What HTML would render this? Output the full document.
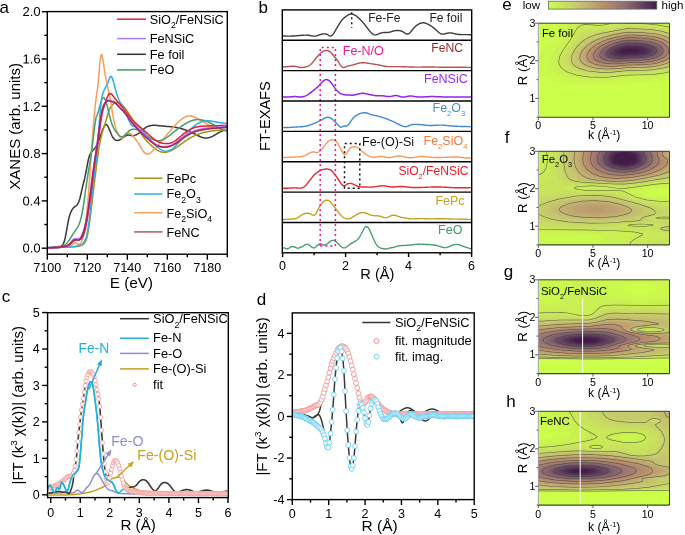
<!DOCTYPE html>
<html><head><meta charset="utf-8"><style>
html,body{margin:0;padding:0;background:#fff;width:685px;height:535px;overflow:hidden;}
#wrap{width:685px;height:535px;overflow:hidden;position:relative;}
#scl{width:1370px;height:1070px;transform:scale(0.5);transform-origin:0 0;will-change:transform;}
svg{display:block;}
text{font-family:"Liberation Sans", sans-serif;}
</style></head><body>
<div id="wrap"><div id="scl">
<svg width="1370" height="1070" viewBox="0 0 685 535">
<rect width="685" height="535" fill="#fff"/>
<line x1="47.3" y1="254.2" x2="47.3" y2="259.7" stroke="#000" stroke-width="1.4" />
<text x="47.3" y="272.2" font-size="12.5" fill="#000" text-anchor="middle" >7100</text>
<line x1="67.3" y1="254.2" x2="67.3" y2="257.2" stroke="#000" stroke-width="1.4" />
<line x1="87.3" y1="254.2" x2="87.3" y2="259.7" stroke="#000" stroke-width="1.4" />
<text x="87.3" y="272.2" font-size="12.5" fill="#000" text-anchor="middle" >7120</text>
<line x1="107.3" y1="254.2" x2="107.3" y2="257.2" stroke="#000" stroke-width="1.4" />
<line x1="127.3" y1="254.2" x2="127.3" y2="259.7" stroke="#000" stroke-width="1.4" />
<text x="127.3" y="272.2" font-size="12.5" fill="#000" text-anchor="middle" >7140</text>
<line x1="147.3" y1="254.2" x2="147.3" y2="257.2" stroke="#000" stroke-width="1.4" />
<line x1="167.3" y1="254.2" x2="167.3" y2="259.7" stroke="#000" stroke-width="1.4" />
<text x="167.3" y="272.2" font-size="12.5" fill="#000" text-anchor="middle" >7160</text>
<line x1="187.3" y1="254.2" x2="187.3" y2="257.2" stroke="#000" stroke-width="1.4" />
<line x1="207.3" y1="254.2" x2="207.3" y2="259.7" stroke="#000" stroke-width="1.4" />
<text x="207.3" y="272.2" font-size="12.5" fill="#000" text-anchor="middle" >7180</text>
<line x1="227.3" y1="254.2" x2="227.3" y2="257.2" stroke="#000" stroke-width="1.4" />
<line x1="47.3" y1="248.2" x2="41.8" y2="248.2" stroke="#000" stroke-width="1.4" />
<text x="40.6" y="252.7" font-size="13" fill="#000" text-anchor="end" >0.0</text>
<line x1="47.3" y1="224.55" x2="44.3" y2="224.55" stroke="#000" stroke-width="1.4" />
<line x1="47.3" y1="200.9" x2="41.8" y2="200.9" stroke="#000" stroke-width="1.4" />
<text x="40.6" y="205.4" font-size="13" fill="#000" text-anchor="end" >0.4</text>
<line x1="47.3" y1="177.25" x2="44.3" y2="177.25" stroke="#000" stroke-width="1.4" />
<line x1="47.3" y1="153.6" x2="41.8" y2="153.6" stroke="#000" stroke-width="1.4" />
<text x="40.6" y="158.1" font-size="13" fill="#000" text-anchor="end" >0.8</text>
<line x1="47.3" y1="129.95" x2="44.3" y2="129.95" stroke="#000" stroke-width="1.4" />
<line x1="47.3" y1="106.3" x2="41.8" y2="106.3" stroke="#000" stroke-width="1.4" />
<text x="40.6" y="110.8" font-size="13" fill="#000" text-anchor="end" >1.2</text>
<line x1="47.3" y1="82.65" x2="44.3" y2="82.65" stroke="#000" stroke-width="1.4" />
<line x1="47.3" y1="59" x2="41.8" y2="59" stroke="#000" stroke-width="1.4" />
<text x="40.6" y="63.5" font-size="13" fill="#000" text-anchor="end" >1.6</text>
<line x1="47.3" y1="35.35" x2="44.3" y2="35.35" stroke="#000" stroke-width="1.4" />
<line x1="47.3" y1="11.7" x2="41.8" y2="11.7" stroke="#000" stroke-width="1.4" />
<text x="40.6" y="16.2" font-size="13" fill="#000" text-anchor="end" >2.0</text>
<text x="131.45" y="287.8" font-size="15.2" fill="#000" text-anchor="middle" >E (eV)</text>
<text x="20.3" y="126.35" font-size="15.0" fill="#000" text-anchor="middle" transform="rotate(-90 20.3 126.35)" >XANES (arb. units)</text>
<text x="-0.5" y="13.2" font-size="17" fill="#000" >a</text>
<line x1="117.1" y1="19.2" x2="145.9" y2="19.2" stroke="#e8202c" stroke-width="1.5" />
<text x="149.8" y="24" font-size="12.7" fill="#000" >SiO<tspan dy="4.32" font-size="8.64">2</tspan><tspan dy="-4.32">/FeNSiC</tspan></text>
<line x1="117.1" y1="38.6" x2="145.9" y2="38.6" stroke="#b27cf2" stroke-width="1.5" />
<text x="149.8" y="43" font-size="12.7" fill="#000" >FeNSiC</text>
<line x1="117.1" y1="54.3" x2="145.9" y2="54.3" stroke="#333333" stroke-width="1.5" />
<text x="149.8" y="58.7" font-size="12.7" fill="#000" >Fe foil</text>
<line x1="117.1" y1="69.9" x2="145.9" y2="69.9" stroke="#3f9a62" stroke-width="1.5" />
<text x="149.8" y="73.7" font-size="12.7" fill="#000" >FeO</text>
<line x1="134.1" y1="178.2" x2="162.5" y2="178.2" stroke="#a8960e" stroke-width="1.5" />
<text x="166.5" y="183" font-size="12.7" fill="#000" >FePc</text>
<line x1="134.1" y1="194" x2="162.5" y2="194" stroke="#2fb0e6" stroke-width="1.5" />
<text x="166.5" y="198.4" font-size="12.7" fill="#000" >Fe<tspan dy="4.32" font-size="8.64">2</tspan><tspan dy="-4.32">O</tspan><tspan dy="4.32" font-size="8.64">3</tspan></text>
<line x1="134.1" y1="212.7" x2="162.5" y2="212.7" stroke="#f6a262" stroke-width="1.5" />
<text x="166.5" y="217.8" font-size="12.7" fill="#000" >Fe<tspan dy="4.32" font-size="8.64">2</tspan><tspan dy="-4.32">SiO</tspan><tspan dy="4.32" font-size="8.64">4</tspan></text>
<line x1="134.1" y1="231.9" x2="162.5" y2="231.9" stroke="#b05a5e" stroke-width="1.5" />
<text x="166.5" y="236.5" font-size="12.7" fill="#000" >FeNC</text>
<g clip-path="url(#clipA)">
<defs><clipPath id="clipA"><rect x="47.3" y="11.6" width="180" height="242.6"/></clipPath></defs>
<path d="M47.3 247.7 L47.8 247.67 L48.3 247.65 L48.8 247.62 L49.3 247.59 L49.8 247.56 L50.3 247.53 L50.8 247.49 L51.3 247.46 L51.8 247.42 L52.3 247.38 L52.8 247.33 L53.3 247.28 L53.8 247.22 L54.3 247.16 L54.8 247.1 L55.3 247.03 L55.8 246.97 L56.3 246.9 L56.8 246.83 L57.3 246.77 L57.8 246.71 L58.3 246.66 L58.8 246.62 L59.3 246.58 L59.8 246.54 L60.3 246.46 L60.8 246.32 L61.3 246.1 L61.8 245.77 L62.3 245.3 L62.8 244.65 L63.3 243.78 L63.8 242.64 L64.3 241.18 L64.8 239.37 L65.3 237.21 L65.8 234.77 L66.3 232.11 L66.8 229.29 L67.3 226.42 L67.8 223.6 L68.3 220.97 L68.8 218.65 L69.3 216.65 L69.8 214.95 L70.3 213.5 L70.8 212.25 L71.3 211.17 L71.8 210.22 L72.3 209.4 L72.8 208.69 L73.3 208.07 L73.8 207.54 L74.3 207.07 L74.8 206.65 L75.3 206.28 L75.8 205.91 L76.3 205.51 L76.8 205.04 L77.3 204.47 L77.8 203.74 L78.3 202.83 L78.8 201.69 L79.3 200.3 L79.8 198.68 L80.3 196.81 L80.8 194.71 L81.3 192.45 L81.8 190.13 L82.3 187.86 L82.8 185.77 L83.3 183.82 L83.8 181.93 L84.3 179.99 L84.8 177.9 L85.3 175.56 L85.8 172.99 L86.3 170.28 L86.8 167.52 L87.3 164.81 L87.8 162.25 L88.3 159.93 L88.8 157.93 L89.3 156.27 L89.8 154.89 L90.3 153.76 L90.8 152.84 L91.3 152.08 L91.8 151.46 L92.3 150.94 L92.8 150.46 L93.3 150 L93.8 149.51 L94.3 148.96 L94.8 148.33 L95.3 147.62 L95.8 146.84 L96.3 145.97 L96.8 145.04 L97.3 144.02 L97.8 142.94 L98.3 141.78 L98.8 140.55 L99.3 139.25 L99.8 137.9 L100.3 136.51 L100.8 135.1 L101.3 133.68 L101.8 132.27 L102.3 130.87 L102.8 129.52 L103.3 128.24 L103.8 127.08 L104.3 126.07 L104.8 125.28 L105.3 124.73 L105.8 124.47 L106.3 124.53 L106.8 124.87 L107.3 125.45 L107.8 126.24 L108.3 127.18 L108.8 128.25 L109.3 129.4 L109.8 130.6 L110.3 131.82 L110.8 133.04 L111.3 134.22 L111.8 135.33 L112.3 136.36 L112.8 137.27 L113.3 138.04 L113.8 138.69 L114.3 139.21 L114.8 139.62 L115.3 139.94 L115.8 140.17 L116.3 140.31 L116.8 140.39 L117.3 140.41 L117.8 140.38 L118.3 140.29 L118.8 140.15 L119.3 139.98 L119.8 139.75 L120.3 139.49 L120.8 139.19 L121.3 138.86 L121.8 138.51 L122.3 138.13 L122.8 137.74 L123.3 137.35 L123.8 136.97 L124.3 136.61 L124.8 136.26 L125.3 135.96 L125.8 135.69 L126.3 135.46 L126.8 135.27 L127.3 135.13 L127.8 135.04 L128.3 135 L128.8 135.01 L129.3 135.07 L129.8 135.17 L130.3 135.29 L130.8 135.42 L131.3 135.54 L131.8 135.64 L132.3 135.7 L132.8 135.71 L133.3 135.68 L133.8 135.61 L134.3 135.49 L134.8 135.34 L135.3 135.15 L135.8 134.94 L136.3 134.7 L136.8 134.44 L137.3 134.15 L137.8 133.85 L138.3 133.52 L138.8 133.17 L139.3 132.79 L139.8 132.4 L140.3 131.99 L140.8 131.56 L141.3 131.12 L141.8 130.67 L142.3 130.23 L142.8 129.79 L143.3 129.35 L143.8 128.93 L144.3 128.53 L144.8 128.14 L145.3 127.79 L145.8 127.47 L146.3 127.17 L146.8 126.9 L147.3 126.65 L147.8 126.43 L148.3 126.23 L148.8 126.06 L149.3 125.91 L149.8 125.77 L150.3 125.66 L150.8 125.56 L151.3 125.49 L151.8 125.42 L152.3 125.38 L152.8 125.34 L153.3 125.32 L153.8 125.32 L154.3 125.32 L154.8 125.33 L155.3 125.35 L155.8 125.38 L156.3 125.42 L156.8 125.46 L157.3 125.51 L157.8 125.56 L158.3 125.61 L158.8 125.67 L159.3 125.72 L159.8 125.78 L160.3 125.83 L160.8 125.88 L161.3 125.93 L161.8 125.98 L162.3 126.03 L162.8 126.07 L163.3 126.12 L163.8 126.16 L164.3 126.2 L164.8 126.24 L165.3 126.29 L165.8 126.33 L166.3 126.37 L166.8 126.41 L167.3 126.44 L167.8 126.48 L168.3 126.52 L168.8 126.56 L169.3 126.6 L169.8 126.65 L170.3 126.69 L170.8 126.74 L171.3 126.78 L171.8 126.83 L172.3 126.89 L172.8 126.94 L173.3 127 L173.8 127.06 L174.3 127.13 L174.8 127.2 L175.3 127.28 L175.8 127.37 L176.3 127.45 L176.8 127.55 L177.3 127.65 L177.8 127.75 L178.3 127.86 L178.8 127.98 L179.3 128.1 L179.8 128.23 L180.3 128.36 L180.8 128.49 L181.3 128.63 L181.8 128.78 L182.3 128.93 L182.8 129.08 L183.3 129.24 L183.8 129.4 L184.3 129.56 L184.8 129.73 L185.3 129.9 L185.8 130.08 L186.3 130.26 L186.8 130.44 L187.3 130.63 L187.8 130.81 L188.3 131.01 L188.8 131.21 L189.3 131.41 L189.8 131.61 L190.3 131.82 L190.8 132.03 L191.3 132.25 L191.8 132.47 L192.3 132.7 L192.8 132.93 L193.3 133.17 L193.8 133.41 L194.3 133.65 L194.8 133.9 L195.3 134.15 L195.8 134.41 L196.3 134.67 L196.8 134.93 L197.3 135.19 L197.8 135.45 L198.3 135.7 L198.8 135.95 L199.3 136.19 L199.8 136.43 L200.3 136.65 L200.8 136.86 L201.3 137.06 L201.8 137.24 L202.3 137.41 L202.8 137.56 L203.3 137.69 L203.8 137.8 L204.3 137.89 L204.8 137.95 L205.3 137.99 L205.8 138 L206.3 138 L206.8 137.97 L207.3 137.92 L207.8 137.85 L208.3 137.76 L208.8 137.65 L209.3 137.52 L209.8 137.37 L210.3 137.2 L210.8 137.01 L211.3 136.81 L211.8 136.59 L212.3 136.36 L212.8 136.11 L213.3 135.85 L213.8 135.57 L214.3 135.29 L214.8 135 L215.3 134.7 L215.8 134.41 L216.3 134.1 L216.8 133.8 L217.3 133.5 L217.8 133.21 L218.3 132.92 L218.8 132.64 L219.3 132.36 L219.8 132.1 L220.3 131.85 L220.8 131.62 L221.3 131.39 L221.8 131.18 L222.3 130.97 L222.8 130.78 L223.3 130.59 L223.8 130.42 L224.3 130.25 L224.8 130.08 L225.3 129.92 L225.8 129.76 L226.3 129.61 L226.8 129.45 L227.3 129.3" fill="none" stroke="#3c3c3c" stroke-width="1.55" stroke-linejoin="round" />
<path d="M47.3 247.9 L47.8 247.88 L48.3 247.86 L48.8 247.85 L49.3 247.83 L49.8 247.81 L50.3 247.79 L50.8 247.77 L51.3 247.75 L51.8 247.73 L52.3 247.72 L52.8 247.7 L53.3 247.68 L53.8 247.66 L54.3 247.64 L54.8 247.62 L55.3 247.6 L55.8 247.58 L56.3 247.56 L56.8 247.54 L57.3 247.52 L57.8 247.49 L58.3 247.47 L58.8 247.45 L59.3 247.43 L59.8 247.4 L60.3 247.38 L60.8 247.36 L61.3 247.33 L61.8 247.31 L62.3 247.29 L62.8 247.26 L63.3 247.23 L63.8 247.21 L64.3 247.18 L64.8 247.16 L65.3 247.13 L65.8 247.1 L66.3 247.08 L66.8 247.05 L67.3 247.02 L67.8 247 L68.3 246.97 L68.8 246.95 L69.3 246.92 L69.8 246.9 L70.3 246.88 L70.8 246.85 L71.3 246.83 L71.8 246.81 L72.3 246.79 L72.8 246.77 L73.3 246.75 L73.8 246.72 L74.3 246.69 L74.8 246.66 L75.3 246.63 L75.8 246.58 L76.3 246.53 L76.8 246.47 L77.3 246.4 L77.8 246.32 L78.3 246.23 L78.8 246.12 L79.3 246 L79.8 245.86 L80.3 245.71 L80.8 245.53 L81.3 245.33 L81.8 245.09 L82.3 244.82 L82.8 244.5 L83.3 244.12 L83.8 243.69 L84.3 243.19 L84.8 242.59 L85.3 241.83 L85.8 240.85 L86.3 239.59 L86.8 237.99 L87.3 236 L87.8 233.57 L88.3 230.74 L88.8 227.58 L89.3 224.12 L89.8 220.44 L90.3 216.58 L90.8 212.6 L91.3 208.54 L91.8 204.42 L92.3 200.25 L92.8 196.06 L93.3 191.86 L93.8 187.67 L94.3 183.51 L94.8 179.39 L95.3 175.33 L95.8 171.32 L96.3 167.38 L96.8 163.52 L97.3 159.75 L97.8 156.08 L98.3 152.57 L98.8 149.25 L99.3 146.16 L99.8 143.34 L100.3 140.79 L100.8 138.46 L101.3 136.32 L101.8 134.32 L102.3 132.44 L102.8 130.68 L103.3 129.02 L103.8 127.46 L104.3 125.95 L104.8 124.46 L105.3 122.93 L105.8 121.33 L106.3 119.62 L106.8 117.83 L107.3 116.03 L107.8 114.27 L108.3 112.62 L108.8 111.13 L109.3 109.84 L109.8 108.7 L110.3 107.72 L110.8 106.86 L111.3 106.11 L111.8 105.46 L112.3 104.89 L112.8 104.39 L113.3 103.97 L113.8 103.6 L114.3 103.28 L114.8 103.02 L115.3 102.8 L115.8 102.63 L116.3 102.52 L116.8 102.45 L117.3 102.44 L117.8 102.47 L118.3 102.56 L118.8 102.71 L119.3 102.91 L119.8 103.16 L120.3 103.46 L120.8 103.82 L121.3 104.22 L121.8 104.66 L122.3 105.14 L122.8 105.65 L123.3 106.2 L123.8 106.77 L124.3 107.36 L124.8 107.97 L125.3 108.6 L125.8 109.26 L126.3 109.93 L126.8 110.62 L127.3 111.33 L127.8 112.06 L128.3 112.81 L128.8 113.58 L129.3 114.37 L129.8 115.17 L130.3 116 L130.8 116.84 L131.3 117.69 L131.8 118.55 L132.3 119.43 L132.8 120.31 L133.3 121.19 L133.8 122.08 L134.3 122.97 L134.8 123.85 L135.3 124.73 L135.8 125.61 L136.3 126.47 L136.8 127.32 L137.3 128.16 L137.8 128.98 L138.3 129.78 L138.8 130.56 L139.3 131.32 L139.8 132.06 L140.3 132.79 L140.8 133.5 L141.3 134.19 L141.8 134.86 L142.3 135.52 L142.8 136.17 L143.3 136.8 L143.8 137.42 L144.3 138.03 L144.8 138.62 L145.3 139.2 L145.8 139.77 L146.3 140.34 L146.8 140.89 L147.3 141.43 L147.8 141.96 L148.3 142.49 L148.8 143 L149.3 143.5 L149.8 143.99 L150.3 144.47 L150.8 144.95 L151.3 145.41 L151.8 145.86 L152.3 146.3 L152.8 146.73 L153.3 147.15 L153.8 147.56 L154.3 147.96 L154.8 148.35 L155.3 148.73 L155.8 149.09 L156.3 149.44 L156.8 149.78 L157.3 150.1 L157.8 150.41 L158.3 150.69 L158.8 150.96 L159.3 151.2 L159.8 151.42 L160.3 151.61 L160.8 151.78 L161.3 151.92 L161.8 152.04 L162.3 152.14 L162.8 152.21 L163.3 152.26 L163.8 152.29 L164.3 152.29 L164.8 152.28 L165.3 152.24 L165.8 152.19 L166.3 152.12 L166.8 152.03 L167.3 151.92 L167.8 151.79 L168.3 151.64 L168.8 151.49 L169.3 151.31 L169.8 151.12 L170.3 150.91 L170.8 150.7 L171.3 150.46 L171.8 150.22 L172.3 149.96 L172.8 149.69 L173.3 149.41 L173.8 149.12 L174.3 148.82 L174.8 148.51 L175.3 148.19 L175.8 147.86 L176.3 147.53 L176.8 147.19 L177.3 146.84 L177.8 146.49 L178.3 146.13 L178.8 145.77 L179.3 145.41 L179.8 145.05 L180.3 144.68 L180.8 144.31 L181.3 143.95 L181.8 143.58 L182.3 143.22 L182.8 142.86 L183.3 142.5 L183.8 142.14 L184.3 141.79 L184.8 141.44 L185.3 141.1 L185.8 140.77 L186.3 140.43 L186.8 140.11 L187.3 139.79 L187.8 139.47 L188.3 139.16 L188.8 138.85 L189.3 138.55 L189.8 138.26 L190.3 137.97 L190.8 137.68 L191.3 137.41 L191.8 137.13 L192.3 136.87 L192.8 136.61 L193.3 136.35 L193.8 136.1 L194.3 135.86 L194.8 135.62 L195.3 135.39 L195.8 135.17 L196.3 134.95 L196.8 134.74 L197.3 134.54 L197.8 134.34 L198.3 134.15 L198.8 133.96 L199.3 133.79 L199.8 133.61 L200.3 133.45 L200.8 133.29 L201.3 133.14 L201.8 132.99 L202.3 132.85 L202.8 132.72 L203.3 132.59 L203.8 132.46 L204.3 132.34 L204.8 132.23 L205.3 132.12 L205.8 132.01 L206.3 131.91 L206.8 131.81 L207.3 131.72 L207.8 131.63 L208.3 131.54 L208.8 131.46 L209.3 131.38 L209.8 131.3 L210.3 131.23 L210.8 131.16 L211.3 131.09 L211.8 131.03 L212.3 130.96 L212.8 130.9 L213.3 130.84 L213.8 130.78 L214.3 130.73 L214.8 130.67 L215.3 130.62 L215.8 130.57 L216.3 130.52 L216.8 130.47 L217.3 130.43 L217.8 130.38 L218.3 130.34 L218.8 130.3 L219.3 130.25 L219.8 130.21 L220.3 130.18 L220.8 130.14 L221.3 130.1 L221.8 130.06 L222.3 130.03 L222.8 129.99 L223.3 129.96 L223.8 129.93 L224.3 129.89 L224.8 129.86 L225.3 129.83 L225.8 129.8 L226.3 129.76 L226.8 129.73 L227.3 129.7" fill="none" stroke="#a8960e" stroke-width="1.55" stroke-linejoin="round" />
<path d="M47.3 247.9 L47.8 247.89 L48.3 247.88 L48.8 247.86 L49.3 247.85 L49.8 247.84 L50.3 247.82 L50.8 247.81 L51.3 247.8 L51.8 247.78 L52.3 247.77 L52.8 247.75 L53.3 247.73 L53.8 247.71 L54.3 247.7 L54.8 247.68 L55.3 247.66 L55.8 247.63 L56.3 247.61 L56.8 247.59 L57.3 247.56 L57.8 247.54 L58.3 247.51 L58.8 247.48 L59.3 247.45 L59.8 247.41 L60.3 247.38 L60.8 247.34 L61.3 247.3 L61.8 247.26 L62.3 247.22 L62.8 247.17 L63.3 247.13 L63.8 247.08 L64.3 247.02 L64.8 246.96 L65.3 246.9 L65.8 246.84 L66.3 246.77 L66.8 246.69 L67.3 246.62 L67.8 246.53 L68.3 246.45 L68.8 246.35 L69.3 246.24 L69.8 246.1 L70.3 245.93 L70.8 245.72 L71.3 245.46 L71.8 245.14 L72.3 244.77 L72.8 244.35 L73.3 243.91 L73.8 243.51 L74.3 243.16 L74.8 242.92 L75.3 242.8 L75.8 242.85 L76.3 243.05 L76.8 243.34 L77.3 243.67 L77.8 243.99 L78.3 244.23 L78.8 244.36 L79.3 244.32 L79.8 244.08 L80.3 243.61 L80.8 242.87 L81.3 241.85 L81.8 240.52 L82.3 238.91 L82.8 237.04 L83.3 234.91 L83.8 232.56 L84.3 229.96 L84.8 227.1 L85.3 223.95 L85.8 220.48 L86.3 216.67 L86.8 212.44 L87.3 207.7 L87.8 202.34 L88.3 196.27 L88.8 189.57 L89.3 182.42 L89.8 175 L90.3 167.5 L90.8 160.07 L91.3 152.78 L91.8 145.73 L92.3 139.01 L92.8 132.64 L93.3 126.59 L93.8 120.84 L94.3 115.37 L94.8 110.14 L95.3 105.26 L95.8 100.84 L96.3 97 L96.8 93.75 L97.3 90.6 L97.8 86.92 L98.3 82.11 L98.8 76.16 L99.3 69.85 L99.8 64 L100.3 59.33 L100.8 56.14 L101.3 54.6 L101.8 54.8 L102.3 56.41 L102.8 59 L103.3 62.16 L103.8 65.61 L104.3 69.09 L104.8 72.37 L105.3 75.33 L105.8 78.02 L106.3 80.54 L106.8 82.96 L107.3 85.32 L107.8 87.63 L108.3 89.9 L108.8 92.14 L109.3 94.4 L109.8 96.74 L110.3 99.25 L110.8 102 L111.3 105.07 L111.8 108.39 L112.3 111.75 L112.8 114.9 L113.3 117.73 L113.8 120.31 L114.3 122.7 L114.8 124.88 L115.3 126.81 L115.8 128.45 L116.3 129.85 L116.8 131.06 L117.3 132.18 L117.8 133.27 L118.3 134.32 L118.8 135.3 L119.3 136.18 L119.8 136.92 L120.3 137.5 L120.8 137.88 L121.3 138.03 L121.8 137.94 L122.3 137.67 L122.8 137.24 L123.3 136.71 L123.8 136.12 L124.3 135.5 L124.8 134.91 L125.3 134.38 L125.8 133.93 L126.3 133.56 L126.8 133.27 L127.3 133.06 L127.8 132.93 L128.3 132.89 L128.8 132.93 L129.3 133.05 L129.8 133.26 L130.3 133.53 L130.8 133.87 L131.3 134.26 L131.8 134.71 L132.3 135.2 L132.8 135.73 L133.3 136.29 L133.8 136.88 L134.3 137.5 L134.8 138.14 L135.3 138.81 L135.8 139.49 L136.3 140.18 L136.8 140.88 L137.3 141.6 L137.8 142.34 L138.3 143.09 L138.8 143.87 L139.3 144.67 L139.8 145.5 L140.3 146.35 L140.8 147.22 L141.3 148.09 L141.8 148.94 L142.3 149.76 L142.8 150.53 L143.3 151.24 L143.8 151.87 L144.3 152.42 L144.8 152.89 L145.3 153.28 L145.8 153.58 L146.3 153.8 L146.8 153.94 L147.3 154 L147.8 153.98 L148.3 153.88 L148.8 153.71 L149.3 153.48 L149.8 153.2 L150.3 152.87 L150.8 152.5 L151.3 152.1 L151.8 151.68 L152.3 151.23 L152.8 150.77 L153.3 150.3 L153.8 149.82 L154.3 149.32 L154.8 148.81 L155.3 148.29 L155.8 147.76 L156.3 147.22 L156.8 146.67 L157.3 146.11 L157.8 145.55 L158.3 144.98 L158.8 144.4 L159.3 143.82 L159.8 143.24 L160.3 142.65 L160.8 142.05 L161.3 141.46 L161.8 140.86 L162.3 140.26 L162.8 139.66 L163.3 139.06 L163.8 138.45 L164.3 137.85 L164.8 137.24 L165.3 136.64 L165.8 136.03 L166.3 135.43 L166.8 134.82 L167.3 134.22 L167.8 133.62 L168.3 133.02 L168.8 132.42 L169.3 131.83 L169.8 131.24 L170.3 130.65 L170.8 130.06 L171.3 129.48 L171.8 128.9 L172.3 128.33 L172.8 127.77 L173.3 127.21 L173.8 126.65 L174.3 126.1 L174.8 125.56 L175.3 125.03 L175.8 124.51 L176.3 123.99 L176.8 123.49 L177.3 122.99 L177.8 122.51 L178.3 122.03 L178.8 121.57 L179.3 121.11 L179.8 120.67 L180.3 120.24 L180.8 119.83 L181.3 119.43 L181.8 119.05 L182.3 118.68 L182.8 118.33 L183.3 118 L183.8 117.69 L184.3 117.4 L184.8 117.14 L185.3 116.9 L185.8 116.68 L186.3 116.49 L186.8 116.33 L187.3 116.2 L187.8 116.1 L188.3 116.02 L188.8 115.98 L189.3 115.96 L189.8 115.97 L190.3 116 L190.8 116.06 L191.3 116.13 L191.8 116.23 L192.3 116.35 L192.8 116.49 L193.3 116.65 L193.8 116.82 L194.3 117.01 L194.8 117.21 L195.3 117.43 L195.8 117.66 L196.3 117.91 L196.8 118.16 L197.3 118.42 L197.8 118.69 L198.3 118.97 L198.8 119.26 L199.3 119.55 L199.8 119.85 L200.3 120.15 L200.8 120.46 L201.3 120.77 L201.8 121.08 L202.3 121.39 L202.8 121.7 L203.3 122 L203.8 122.31 L204.3 122.61 L204.8 122.91 L205.3 123.2 L205.8 123.49 L206.3 123.77 L206.8 124.04 L207.3 124.3 L207.8 124.56 L208.3 124.81 L208.8 125.05 L209.3 125.29 L209.8 125.51 L210.3 125.74 L210.8 125.95 L211.3 126.16 L211.8 126.36 L212.3 126.56 L212.8 126.74 L213.3 126.93 L213.8 127.1 L214.3 127.27 L214.8 127.44 L215.3 127.59 L215.8 127.75 L216.3 127.89 L216.8 128.03 L217.3 128.17 L217.8 128.3 L218.3 128.43 L218.8 128.55 L219.3 128.67 L219.8 128.78 L220.3 128.89 L220.8 129 L221.3 129.11 L221.8 129.21 L222.3 129.31 L222.8 129.4 L223.3 129.5 L223.8 129.59 L224.3 129.68 L224.8 129.77 L225.3 129.86 L225.8 129.94 L226.3 130.03 L226.8 130.11 L227.3 130.2" fill="none" stroke="#f6a060" stroke-width="1.55" stroke-linejoin="round" />
<path d="M47.3 247.7 L47.8 247.67 L48.3 247.64 L48.8 247.61 L49.3 247.58 L49.8 247.55 L50.3 247.52 L50.8 247.49 L51.3 247.46 L51.8 247.43 L52.3 247.4 L52.8 247.37 L53.3 247.33 L53.8 247.3 L54.3 247.27 L54.8 247.23 L55.3 247.2 L55.8 247.16 L56.3 247.13 L56.8 247.09 L57.3 247.05 L57.8 247.02 L58.3 246.98 L58.8 246.93 L59.3 246.89 L59.8 246.83 L60.3 246.76 L60.8 246.67 L61.3 246.56 L61.8 246.43 L62.3 246.27 L62.8 246.08 L63.3 245.86 L63.8 245.61 L64.3 245.31 L64.8 244.97 L65.3 244.59 L65.8 244.17 L66.3 243.7 L66.8 243.18 L67.3 242.62 L67.8 242.01 L68.3 241.36 L68.8 240.67 L69.3 239.95 L69.8 239.2 L70.3 238.42 L70.8 237.63 L71.3 236.82 L71.8 236.01 L72.3 235.19 L72.8 234.38 L73.3 233.58 L73.8 232.79 L74.3 232.02 L74.8 231.29 L75.3 230.58 L75.8 229.89 L76.3 229.2 L76.8 228.49 L77.3 227.72 L77.8 226.87 L78.3 225.92 L78.8 224.85 L79.3 223.64 L79.8 222.24 L80.3 220.66 L80.8 218.85 L81.3 216.81 L81.8 214.53 L82.3 212.01 L82.8 209.26 L83.3 206.26 L83.8 203.04 L84.3 199.61 L84.8 196.05 L85.3 192.44 L85.8 188.83 L86.3 185.3 L86.8 181.9 L87.3 178.6 L87.8 175.4 L88.3 172.27 L88.8 169.21 L89.3 166.19 L89.8 163.18 L90.3 160.11 L90.8 156.92 L91.3 153.58 L91.8 150 L92.3 146.16 L92.8 142.12 L93.3 137.94 L93.8 133.7 L94.3 129.47 L94.8 125.44 L95.3 121.84 L95.8 118.92 L96.3 116.9 L96.8 115.6 L97.3 114.53 L97.8 113.25 L98.3 111.69 L98.8 109.93 L99.3 108.08 L99.8 106.2 L100.3 104.38 L100.8 102.65 L101.3 101.08 L101.8 99.7 L102.3 98.6 L102.8 97.84 L103.3 97.5 L103.8 97.63 L104.3 98.16 L104.8 99 L105.3 100.06 L105.8 101.33 L106.3 102.81 L106.8 104.51 L107.3 106.4 L107.8 108.43 L108.3 110.53 L108.8 112.64 L109.3 114.71 L109.8 116.68 L110.3 118.55 L110.8 120.31 L111.3 121.95 L111.8 123.48 L112.3 124.88 L112.8 126.14 L113.3 127.28 L113.8 128.3 L114.3 129.21 L114.8 130.03 L115.3 130.78 L115.8 131.46 L116.3 132.1 L116.8 132.7 L117.3 133.28 L117.8 133.86 L118.3 134.42 L118.8 134.95 L119.3 135.43 L119.8 135.86 L120.3 136.22 L120.8 136.49 L121.3 136.65 L121.8 136.72 L122.3 136.68 L122.8 136.55 L123.3 136.34 L123.8 136.05 L124.3 135.7 L124.8 135.29 L125.3 134.83 L125.8 134.33 L126.3 133.8 L126.8 133.26 L127.3 132.72 L127.8 132.18 L128.3 131.67 L128.8 131.19 L129.3 130.76 L129.8 130.38 L130.3 130.07 L130.8 129.81 L131.3 129.6 L131.8 129.44 L132.3 129.33 L132.8 129.25 L133.3 129.2 L133.8 129.18 L134.3 129.2 L134.8 129.24 L135.3 129.3 L135.8 129.4 L136.3 129.51 L136.8 129.66 L137.3 129.83 L137.8 130.02 L138.3 130.23 L138.8 130.47 L139.3 130.72 L139.8 131 L140.3 131.29 L140.8 131.59 L141.3 131.91 L141.8 132.24 L142.3 132.58 L142.8 132.92 L143.3 133.28 L143.8 133.63 L144.3 133.99 L144.8 134.36 L145.3 134.72 L145.8 135.08 L146.3 135.43 L146.8 135.78 L147.3 136.13 L147.8 136.48 L148.3 136.81 L148.8 137.14 L149.3 137.46 L149.8 137.77 L150.3 138.07 L150.8 138.36 L151.3 138.64 L151.8 138.9 L152.3 139.15 L152.8 139.38 L153.3 139.6 L153.8 139.8 L154.3 139.98 L154.8 140.15 L155.3 140.3 L155.8 140.42 L156.3 140.53 L156.8 140.61 L157.3 140.67 L157.8 140.7 L158.3 140.71 L158.8 140.7 L159.3 140.66 L159.8 140.59 L160.3 140.5 L160.8 140.39 L161.3 140.25 L161.8 140.09 L162.3 139.91 L162.8 139.71 L163.3 139.49 L163.8 139.25 L164.3 139 L164.8 138.72 L165.3 138.43 L165.8 138.13 L166.3 137.81 L166.8 137.47 L167.3 137.13 L167.8 136.77 L168.3 136.4 L168.8 136.02 L169.3 135.64 L169.8 135.24 L170.3 134.85 L170.8 134.44 L171.3 134.03 L171.8 133.62 L172.3 133.21 L172.8 132.8 L173.3 132.39 L173.8 131.97 L174.3 131.57 L174.8 131.16 L175.3 130.76 L175.8 130.36 L176.3 129.97 L176.8 129.59 L177.3 129.21 L177.8 128.83 L178.3 128.46 L178.8 128.1 L179.3 127.74 L179.8 127.38 L180.3 127.03 L180.8 126.69 L181.3 126.35 L181.8 126.02 L182.3 125.69 L182.8 125.36 L183.3 125.04 L183.8 124.73 L184.3 124.42 L184.8 124.12 L185.3 123.82 L185.8 123.53 L186.3 123.24 L186.8 122.96 L187.3 122.69 L187.8 122.43 L188.3 122.17 L188.8 121.92 L189.3 121.68 L189.8 121.46 L190.3 121.24 L190.8 121.03 L191.3 120.84 L191.8 120.65 L192.3 120.48 L192.8 120.32 L193.3 120.18 L193.8 120.05 L194.3 119.94 L194.8 119.84 L195.3 119.75 L195.8 119.68 L196.3 119.63 L196.8 119.59 L197.3 119.57 L197.8 119.56 L198.3 119.57 L198.8 119.59 L199.3 119.62 L199.8 119.66 L200.3 119.72 L200.8 119.79 L201.3 119.87 L201.8 119.97 L202.3 120.07 L202.8 120.18 L203.3 120.31 L203.8 120.44 L204.3 120.58 L204.8 120.74 L205.3 120.9 L205.8 121.07 L206.3 121.24 L206.8 121.43 L207.3 121.62 L207.8 121.83 L208.3 122.04 L208.8 122.25 L209.3 122.48 L209.8 122.71 L210.3 122.95 L210.8 123.19 L211.3 123.44 L211.8 123.7 L212.3 123.97 L212.8 124.24 L213.3 124.51 L213.8 124.8 L214.3 125.09 L214.8 125.38 L215.3 125.68 L215.8 125.99 L216.3 126.29 L216.8 126.6 L217.3 126.91 L217.8 127.22 L218.3 127.52 L218.8 127.82 L219.3 128.11 L219.8 128.39 L220.3 128.67 L220.8 128.93 L221.3 129.18 L221.8 129.41 L222.3 129.63 L222.8 129.83 L223.3 130.02 L223.8 130.19 L224.3 130.36 L224.8 130.51 L225.3 130.66 L225.8 130.8 L226.3 130.94 L226.8 131.07 L227.3 131.2" fill="none" stroke="#48a06c" stroke-width="1.55" stroke-linejoin="round" />
<path d="M47.3 247.9 L47.8 247.88 L48.3 247.85 L48.8 247.83 L49.3 247.8 L49.8 247.78 L50.3 247.76 L50.8 247.73 L51.3 247.71 L51.8 247.69 L52.3 247.66 L52.8 247.64 L53.3 247.62 L53.8 247.6 L54.3 247.57 L54.8 247.55 L55.3 247.53 L55.8 247.51 L56.3 247.49 L56.8 247.47 L57.3 247.45 L57.8 247.43 L58.3 247.42 L58.8 247.4 L59.3 247.38 L59.8 247.36 L60.3 247.35 L60.8 247.33 L61.3 247.32 L61.8 247.31 L62.3 247.29 L62.8 247.28 L63.3 247.27 L63.8 247.26 L64.3 247.24 L64.8 247.23 L65.3 247.22 L65.8 247.2 L66.3 247.18 L66.8 247.17 L67.3 247.15 L67.8 247.12 L68.3 247.1 L68.8 247.07 L69.3 247.04 L69.8 247 L70.3 246.96 L70.8 246.92 L71.3 246.87 L71.8 246.82 L72.3 246.77 L72.8 246.7 L73.3 246.64 L73.8 246.57 L74.3 246.49 L74.8 246.41 L75.3 246.33 L75.8 246.24 L76.3 246.14 L76.8 246.05 L77.3 245.95 L77.8 245.84 L78.3 245.73 L78.8 245.62 L79.3 245.49 L79.8 245.33 L80.3 245.14 L80.8 244.92 L81.3 244.64 L81.8 244.31 L82.3 243.92 L82.8 243.45 L83.3 242.91 L83.8 242.28 L84.3 241.55 L84.8 240.69 L85.3 239.65 L85.8 238.37 L86.3 236.8 L86.8 234.88 L87.3 232.56 L87.8 229.84 L88.3 226.75 L88.8 223.32 L89.3 219.58 L89.8 215.56 L90.3 211.29 L90.8 206.79 L91.3 202.09 L91.8 197.2 L92.3 192.17 L92.8 187.14 L93.3 182.24 L93.8 177.65 L94.3 173.5 L94.8 169.93 L95.3 166.8 L95.8 163.73 L96.3 160.35 L96.8 156.29 L97.3 151.18 L97.8 144.74 L98.3 137.39 L98.8 129.88 L99.3 122.92 L99.8 116.66 L100.3 110.88 L100.8 105.62 L101.3 101.2 L101.8 97.83 L102.3 95.35 L102.8 93.52 L103.3 92.1 L103.8 90.87 L104.3 89.77 L104.8 88.78 L105.3 87.85 L105.8 86.97 L106.3 86.1 L106.8 85.2 L107.3 84.19 L107.8 83.02 L108.3 81.65 L108.8 80.15 L109.3 78.7 L109.8 77.5 L110.3 76.7 L110.8 76.37 L111.3 76.52 L111.8 77.16 L112.3 78.21 L112.8 79.59 L113.3 81.23 L113.8 83.05 L114.3 84.98 L114.8 86.94 L115.3 88.85 L115.8 90.67 L116.3 92.4 L116.8 94.02 L117.3 95.54 L117.8 96.95 L118.3 98.26 L118.8 99.45 L119.3 100.54 L119.8 101.52 L120.3 102.42 L120.8 103.26 L121.3 104.07 L121.8 104.85 L122.3 105.63 L122.8 106.44 L123.3 107.29 L123.8 108.21 L124.3 109.21 L124.8 110.3 L125.3 111.47 L125.8 112.7 L126.3 113.97 L126.8 115.25 L127.3 116.54 L127.8 117.8 L128.3 119.03 L128.8 120.19 L129.3 121.28 L129.8 122.29 L130.3 123.2 L130.8 124.02 L131.3 124.72 L131.8 125.3 L132.3 125.76 L132.8 126.09 L133.3 126.31 L133.8 126.45 L134.3 126.51 L134.8 126.51 L135.3 126.47 L135.8 126.42 L136.3 126.37 L136.8 126.34 L137.3 126.36 L137.8 126.44 L138.3 126.62 L138.8 126.88 L139.3 127.23 L139.8 127.65 L140.3 128.12 L140.8 128.64 L141.3 129.19 L141.8 129.77 L142.3 130.35 L142.8 130.94 L143.3 131.53 L143.8 132.13 L144.3 132.73 L144.8 133.33 L145.3 133.93 L145.8 134.53 L146.3 135.13 L146.8 135.73 L147.3 136.33 L147.8 136.93 L148.3 137.52 L148.8 138.11 L149.3 138.69 L149.8 139.27 L150.3 139.84 L150.8 140.41 L151.3 140.97 L151.8 141.52 L152.3 142.06 L152.8 142.59 L153.3 143.12 L153.8 143.63 L154.3 144.14 L154.8 144.63 L155.3 145.11 L155.8 145.58 L156.3 146.04 L156.8 146.49 L157.3 146.92 L157.8 147.34 L158.3 147.74 L158.8 148.13 L159.3 148.5 L159.8 148.86 L160.3 149.19 L160.8 149.5 L161.3 149.8 L161.8 150.07 L162.3 150.31 L162.8 150.53 L163.3 150.72 L163.8 150.88 L164.3 151.01 L164.8 151.11 L165.3 151.18 L165.8 151.22 L166.3 151.22 L166.8 151.18 L167.3 151.12 L167.8 151.02 L168.3 150.89 L168.8 150.73 L169.3 150.53 L169.8 150.31 L170.3 150.06 L170.8 149.78 L171.3 149.48 L171.8 149.14 L172.3 148.78 L172.8 148.39 L173.3 147.99 L173.8 147.55 L174.3 147.1 L174.8 146.63 L175.3 146.14 L175.8 145.64 L176.3 145.12 L176.8 144.59 L177.3 144.05 L177.8 143.5 L178.3 142.94 L178.8 142.37 L179.3 141.8 L179.8 141.23 L180.3 140.66 L180.8 140.08 L181.3 139.51 L181.8 138.93 L182.3 138.36 L182.8 137.79 L183.3 137.22 L183.8 136.65 L184.3 136.09 L184.8 135.53 L185.3 134.97 L185.8 134.42 L186.3 133.87 L186.8 133.32 L187.3 132.79 L187.8 132.25 L188.3 131.73 L188.8 131.21 L189.3 130.7 L189.8 130.2 L190.3 129.7 L190.8 129.22 L191.3 128.74 L191.8 128.28 L192.3 127.82 L192.8 127.38 L193.3 126.94 L193.8 126.52 L194.3 126.11 L194.8 125.71 L195.3 125.33 L195.8 124.96 L196.3 124.6 L196.8 124.26 L197.3 123.93 L197.8 123.62 L198.3 123.32 L198.8 123.04 L199.3 122.78 L199.8 122.53 L200.3 122.3 L200.8 122.08 L201.3 121.88 L201.8 121.7 L202.3 121.53 L202.8 121.38 L203.3 121.24 L203.8 121.13 L204.3 121.02 L204.8 120.94 L205.3 120.87 L205.8 120.82 L206.3 120.78 L206.8 120.76 L207.3 120.76 L207.8 120.76 L208.3 120.79 L208.8 120.82 L209.3 120.86 L209.8 120.92 L210.3 120.98 L210.8 121.05 L211.3 121.13 L211.8 121.21 L212.3 121.3 L212.8 121.39 L213.3 121.48 L213.8 121.58 L214.3 121.67 L214.8 121.76 L215.3 121.85 L215.8 121.94 L216.3 122.03 L216.8 122.12 L217.3 122.2 L217.8 122.28 L218.3 122.36 L218.8 122.44 L219.3 122.52 L219.8 122.59 L220.3 122.66 L220.8 122.74 L221.3 122.81 L221.8 122.88 L222.3 122.95 L222.8 123.01 L223.3 123.08 L223.8 123.15 L224.3 123.21 L224.8 123.28 L225.3 123.34 L225.8 123.41 L226.3 123.47 L226.8 123.54 L227.3 123.6" fill="none" stroke="#2fb0e8" stroke-width="1.55" stroke-linejoin="round" />
<path d="M47.3 247.8 L47.8 247.78 L48.3 247.76 L48.8 247.74 L49.3 247.72 L49.8 247.71 L50.3 247.69 L50.8 247.67 L51.3 247.65 L51.8 247.63 L52.3 247.6 L52.8 247.58 L53.3 247.56 L53.8 247.54 L54.3 247.52 L54.8 247.49 L55.3 247.47 L55.8 247.44 L56.3 247.42 L56.8 247.39 L57.3 247.36 L57.8 247.34 L58.3 247.31 L58.8 247.28 L59.3 247.25 L59.8 247.21 L60.3 247.18 L60.8 247.14 L61.3 247.11 L61.8 247.06 L62.3 247.01 L62.8 246.96 L63.3 246.89 L63.8 246.81 L64.3 246.73 L64.8 246.63 L65.3 246.51 L65.8 246.38 L66.3 246.24 L66.8 246.07 L67.3 245.89 L67.8 245.68 L68.3 245.44 L68.8 245.18 L69.3 244.87 L69.8 244.53 L70.3 244.14 L70.8 243.69 L71.3 243.2 L71.8 242.66 L72.3 242.11 L72.8 241.57 L73.3 241.07 L73.8 240.65 L74.3 240.31 L74.8 240.08 L75.3 239.92 L75.8 239.84 L76.3 239.8 L76.8 239.79 L77.3 239.81 L77.8 239.83 L78.3 239.83 L78.8 239.8 L79.3 239.73 L79.8 239.58 L80.3 239.35 L80.8 239.02 L81.3 238.58 L81.8 238 L82.3 237.28 L82.8 236.4 L83.3 235.34 L83.8 234.09 L84.3 232.64 L84.8 230.97 L85.3 229.07 L85.8 226.93 L86.3 224.53 L86.8 221.88 L87.3 219.02 L87.8 215.96 L88.3 212.74 L88.8 209.38 L89.3 205.9 L89.8 202.32 L90.3 198.62 L90.8 194.78 L91.3 190.81 L91.8 186.69 L92.3 182.42 L92.8 178.03 L93.3 173.65 L93.8 169.35 L94.3 165.24 L94.8 161.42 L95.3 157.99 L95.8 154.9 L96.3 152.05 L96.8 149.33 L97.3 146.6 L97.8 143.77 L98.3 140.7 L98.8 137.28 L99.3 133.49 L99.8 129.51 L100.3 125.54 L100.8 121.78 L101.3 118.37 L101.8 115.37 L102.3 112.84 L102.8 110.76 L103.3 109 L103.8 107.45 L104.3 105.98 L104.8 104.5 L105.3 102.94 L105.8 101.36 L106.3 99.82 L106.8 98.37 L107.3 97.05 L107.8 95.92 L108.3 95 L108.8 94.3 L109.3 93.84 L109.8 93.6 L110.3 93.56 L110.8 93.71 L111.3 94.01 L111.8 94.45 L112.3 94.97 L112.8 95.56 L113.3 96.19 L113.8 96.85 L114.3 97.52 L114.8 98.2 L115.3 98.86 L115.8 99.51 L116.3 100.14 L116.8 100.76 L117.3 101.36 L117.8 101.96 L118.3 102.54 L118.8 103.13 L119.3 103.7 L119.8 104.28 L120.3 104.86 L120.8 105.45 L121.3 106.04 L121.8 106.64 L122.3 107.25 L122.8 107.87 L123.3 108.49 L123.8 109.12 L124.3 109.76 L124.8 110.4 L125.3 111.04 L125.8 111.68 L126.3 112.33 L126.8 112.97 L127.3 113.61 L127.8 114.25 L128.3 114.88 L128.8 115.51 L129.3 116.13 L129.8 116.74 L130.3 117.34 L130.8 117.94 L131.3 118.53 L131.8 119.1 L132.3 119.67 L132.8 120.22 L133.3 120.76 L133.8 121.29 L134.3 121.81 L134.8 122.31 L135.3 122.79 L135.8 123.27 L136.3 123.74 L136.8 124.19 L137.3 124.65 L137.8 125.09 L138.3 125.53 L138.8 125.96 L139.3 126.4 L139.8 126.83 L140.3 127.26 L140.8 127.69 L141.3 128.12 L141.8 128.56 L142.3 128.99 L142.8 129.43 L143.3 129.86 L143.8 130.3 L144.3 130.73 L144.8 131.17 L145.3 131.61 L145.8 132.05 L146.3 132.49 L146.8 132.93 L147.3 133.38 L147.8 133.82 L148.3 134.27 L148.8 134.71 L149.3 135.16 L149.8 135.6 L150.3 136.04 L150.8 136.48 L151.3 136.91 L151.8 137.34 L152.3 137.76 L152.8 138.17 L153.3 138.56 L153.8 138.95 L154.3 139.33 L154.8 139.69 L155.3 140.04 L155.8 140.37 L156.3 140.69 L156.8 140.99 L157.3 141.27 L157.8 141.53 L158.3 141.78 L158.8 142.01 L159.3 142.23 L159.8 142.42 L160.3 142.61 L160.8 142.77 L161.3 142.93 L161.8 143.06 L162.3 143.18 L162.8 143.29 L163.3 143.38 L163.8 143.45 L164.3 143.51 L164.8 143.56 L165.3 143.59 L165.8 143.61 L166.3 143.61 L166.8 143.6 L167.3 143.57 L167.8 143.53 L168.3 143.47 L168.8 143.4 L169.3 143.3 L169.8 143.19 L170.3 143.06 L170.8 142.92 L171.3 142.75 L171.8 142.56 L172.3 142.36 L172.8 142.13 L173.3 141.88 L173.8 141.61 L174.3 141.32 L174.8 141.01 L175.3 140.68 L175.8 140.33 L176.3 139.96 L176.8 139.58 L177.3 139.19 L177.8 138.79 L178.3 138.37 L178.8 137.95 L179.3 137.52 L179.8 137.09 L180.3 136.65 L180.8 136.22 L181.3 135.78 L181.8 135.35 L182.3 134.91 L182.8 134.49 L183.3 134.07 L183.8 133.66 L184.3 133.26 L184.8 132.87 L185.3 132.5 L185.8 132.13 L186.3 131.77 L186.8 131.43 L187.3 131.1 L187.8 130.77 L188.3 130.46 L188.8 130.16 L189.3 129.88 L189.8 129.6 L190.3 129.33 L190.8 129.08 L191.3 128.84 L191.8 128.6 L192.3 128.39 L192.8 128.18 L193.3 127.98 L193.8 127.8 L194.3 127.62 L194.8 127.46 L195.3 127.31 L195.8 127.17 L196.3 127.05 L196.8 126.93 L197.3 126.82 L197.8 126.72 L198.3 126.63 L198.8 126.55 L199.3 126.48 L199.8 126.42 L200.3 126.36 L200.8 126.3 L201.3 126.26 L201.8 126.22 L202.3 126.18 L202.8 126.15 L203.3 126.12 L203.8 126.09 L204.3 126.07 L204.8 126.05 L205.3 126.03 L205.8 126.01 L206.3 125.99 L206.8 125.97 L207.3 125.95 L207.8 125.94 L208.3 125.92 L208.8 125.9 L209.3 125.89 L209.8 125.87 L210.3 125.85 L210.8 125.84 L211.3 125.82 L211.8 125.81 L212.3 125.8 L212.8 125.78 L213.3 125.77 L213.8 125.75 L214.3 125.74 L214.8 125.73 L215.3 125.72 L215.8 125.7 L216.3 125.69 L216.8 125.68 L217.3 125.67 L217.8 125.66 L218.3 125.65 L218.8 125.64 L219.3 125.63 L219.8 125.62 L220.3 125.61 L220.8 125.6 L221.3 125.59 L221.8 125.59 L222.3 125.58 L222.8 125.57 L223.3 125.56 L223.8 125.55 L224.3 125.55 L224.8 125.54 L225.3 125.53 L225.8 125.52 L226.3 125.52 L226.8 125.51 L227.3 125.5" fill="none" stroke="#e8202c" stroke-width="1.55" stroke-linejoin="round" />
<path d="M47.3 247.8 L47.8 247.79 L48.3 247.78 L48.8 247.77 L49.3 247.76 L49.8 247.75 L50.3 247.74 L50.8 247.73 L51.3 247.72 L51.8 247.71 L52.3 247.69 L52.8 247.68 L53.3 247.66 L53.8 247.64 L54.3 247.62 L54.8 247.59 L55.3 247.57 L55.8 247.54 L56.3 247.51 L56.8 247.48 L57.3 247.44 L57.8 247.4 L58.3 247.36 L58.8 247.32 L59.3 247.27 L59.8 247.22 L60.3 247.17 L60.8 247.11 L61.3 247.04 L61.8 246.97 L62.3 246.9 L62.8 246.81 L63.3 246.72 L63.8 246.61 L64.3 246.5 L64.8 246.37 L65.3 246.22 L65.8 246.07 L66.3 245.89 L66.8 245.7 L67.3 245.48 L67.8 245.23 L68.3 244.93 L68.8 244.58 L69.3 244.18 L69.8 243.71 L70.3 243.17 L70.8 242.57 L71.3 241.94 L71.8 241.31 L72.3 240.7 L72.8 240.14 L73.3 239.66 L73.8 239.29 L74.3 239.02 L74.8 238.85 L75.3 238.78 L75.8 238.78 L76.3 238.85 L76.8 238.96 L77.3 239.08 L77.8 239.16 L78.3 239.18 L78.8 239.08 L79.3 238.83 L79.8 238.43 L80.3 237.88 L80.8 237.19 L81.3 236.36 L81.8 235.41 L82.3 234.35 L82.8 233.15 L83.3 231.82 L83.8 230.33 L84.3 228.66 L84.8 226.8 L85.3 224.73 L85.8 222.45 L86.3 219.96 L86.8 217.26 L87.3 214.37 L87.8 211.29 L88.3 208.02 L88.8 204.57 L89.3 200.98 L89.8 197.27 L90.3 193.46 L90.8 189.57 L91.3 185.63 L91.8 181.67 L92.3 177.73 L92.8 173.85 L93.3 170.06 L93.8 166.41 L94.3 162.93 L94.8 159.6 L95.3 156.35 L95.8 153.12 L96.3 149.83 L96.8 146.42 L97.3 142.82 L97.8 139.05 L98.3 135.18 L98.8 131.31 L99.3 127.49 L99.8 123.82 L100.3 120.35 L100.8 117.16 L101.3 114.3 L101.8 111.82 L102.3 109.71 L102.8 107.91 L103.3 106.4 L103.8 105.13 L104.3 104.07 L104.8 103.19 L105.3 102.46 L105.8 101.84 L106.3 101.32 L106.8 100.91 L107.3 100.61 L107.8 100.42 L108.3 100.35 L108.8 100.37 L109.3 100.46 L109.8 100.59 L110.3 100.74 L110.8 100.88 L111.3 101.01 L111.8 101.14 L112.3 101.27 L112.8 101.42 L113.3 101.58 L113.8 101.78 L114.3 102.02 L114.8 102.3 L115.3 102.64 L115.8 103.05 L116.3 103.5 L116.8 103.99 L117.3 104.51 L117.8 105.06 L118.3 105.62 L118.8 106.18 L119.3 106.74 L119.8 107.29 L120.3 107.81 L120.8 108.31 L121.3 108.79 L121.8 109.27 L122.3 109.75 L122.8 110.23 L123.3 110.73 L123.8 111.26 L124.3 111.81 L124.8 112.4 L125.3 113.03 L125.8 113.67 L126.3 114.34 L126.8 115.03 L127.3 115.73 L127.8 116.43 L128.3 117.14 L128.8 117.85 L129.3 118.54 L129.8 119.23 L130.3 119.9 L130.8 120.55 L131.3 121.18 L131.8 121.8 L132.3 122.4 L132.8 122.99 L133.3 123.57 L133.8 124.13 L134.3 124.68 L134.8 125.22 L135.3 125.75 L135.8 126.27 L136.3 126.79 L136.8 127.3 L137.3 127.8 L137.8 128.3 L138.3 128.8 L138.8 129.29 L139.3 129.78 L139.8 130.27 L140.3 130.75 L140.8 131.23 L141.3 131.71 L141.8 132.19 L142.3 132.67 L142.8 133.14 L143.3 133.61 L143.8 134.09 L144.3 134.56 L144.8 135.02 L145.3 135.49 L145.8 135.96 L146.3 136.42 L146.8 136.89 L147.3 137.35 L147.8 137.81 L148.3 138.28 L148.8 138.74 L149.3 139.2 L149.8 139.66 L150.3 140.11 L150.8 140.55 L151.3 140.99 L151.8 141.42 L152.3 141.84 L152.8 142.25 L153.3 142.64 L153.8 143.02 L154.3 143.39 L154.8 143.74 L155.3 144.07 L155.8 144.38 L156.3 144.67 L156.8 144.94 L157.3 145.19 L157.8 145.43 L158.3 145.64 L158.8 145.83 L159.3 146 L159.8 146.16 L160.3 146.3 L160.8 146.42 L161.3 146.52 L161.8 146.6 L162.3 146.67 L162.8 146.73 L163.3 146.77 L163.8 146.79 L164.3 146.8 L164.8 146.8 L165.3 146.78 L165.8 146.74 L166.3 146.69 L166.8 146.63 L167.3 146.55 L167.8 146.46 L168.3 146.35 L168.8 146.22 L169.3 146.07 L169.8 145.91 L170.3 145.74 L170.8 145.54 L171.3 145.33 L171.8 145.1 L172.3 144.85 L172.8 144.58 L173.3 144.3 L173.8 144 L174.3 143.69 L174.8 143.36 L175.3 143.02 L175.8 142.68 L176.3 142.32 L176.8 141.96 L177.3 141.58 L177.8 141.21 L178.3 140.83 L178.8 140.44 L179.3 140.06 L179.8 139.67 L180.3 139.29 L180.8 138.9 L181.3 138.52 L181.8 138.15 L182.3 137.78 L182.8 137.42 L183.3 137.06 L183.8 136.71 L184.3 136.36 L184.8 136.03 L185.3 135.7 L185.8 135.37 L186.3 135.06 L186.8 134.75 L187.3 134.45 L187.8 134.15 L188.3 133.87 L188.8 133.59 L189.3 133.32 L189.8 133.06 L190.3 132.8 L190.8 132.56 L191.3 132.32 L191.8 132.09 L192.3 131.87 L192.8 131.66 L193.3 131.45 L193.8 131.26 L194.3 131.07 L194.8 130.89 L195.3 130.72 L195.8 130.55 L196.3 130.4 L196.8 130.24 L197.3 130.1 L197.8 129.96 L198.3 129.83 L198.8 129.7 L199.3 129.58 L199.8 129.46 L200.3 129.35 L200.8 129.24 L201.3 129.14 L201.8 129.04 L202.3 128.94 L202.8 128.85 L203.3 128.76 L203.8 128.68 L204.3 128.6 L204.8 128.52 L205.3 128.45 L205.8 128.38 L206.3 128.31 L206.8 128.24 L207.3 128.18 L207.8 128.12 L208.3 128.06 L208.8 128 L209.3 127.94 L209.8 127.89 L210.3 127.84 L210.8 127.79 L211.3 127.74 L211.8 127.7 L212.3 127.65 L212.8 127.6 L213.3 127.56 L213.8 127.52 L214.3 127.47 L214.8 127.43 L215.3 127.39 L215.8 127.35 L216.3 127.31 L216.8 127.27 L217.3 127.23 L217.8 127.19 L218.3 127.15 L218.8 127.11 L219.3 127.08 L219.8 127.04 L220.3 127 L220.8 126.96 L221.3 126.93 L221.8 126.89 L222.3 126.85 L222.8 126.82 L223.3 126.78 L223.8 126.75 L224.3 126.71 L224.8 126.68 L225.3 126.64 L225.8 126.61 L226.3 126.57 L226.8 126.54 L227.3 126.5" fill="none" stroke="#b46ef6" stroke-width="1.75" stroke-linejoin="round" />
<path d="M47.3 247.8 L47.8 247.79 L48.3 247.79 L48.8 247.78 L49.3 247.77 L49.8 247.76 L50.3 247.75 L50.8 247.74 L51.3 247.73 L51.8 247.72 L52.3 247.7 L52.8 247.69 L53.3 247.67 L53.8 247.65 L54.3 247.63 L54.8 247.61 L55.3 247.58 L55.8 247.55 L56.3 247.52 L56.8 247.49 L57.3 247.45 L57.8 247.41 L58.3 247.37 L58.8 247.32 L59.3 247.28 L59.8 247.22 L60.3 247.17 L60.8 247.1 L61.3 247.04 L61.8 246.97 L62.3 246.89 L62.8 246.8 L63.3 246.7 L63.8 246.6 L64.3 246.48 L64.8 246.36 L65.3 246.22 L65.8 246.06 L66.3 245.9 L66.8 245.72 L67.3 245.51 L67.8 245.28 L68.3 245.01 L68.8 244.71 L69.3 244.37 L69.8 243.97 L70.3 243.53 L70.8 243.04 L71.3 242.53 L71.8 242.01 L72.3 241.51 L72.8 241.05 L73.3 240.64 L73.8 240.31 L74.3 240.06 L74.8 239.89 L75.3 239.8 L75.8 239.79 L76.3 239.84 L76.8 239.95 L77.3 240.07 L77.8 240.15 L78.3 240.17 L78.8 240.08 L79.3 239.84 L79.8 239.44 L80.3 238.89 L80.8 238.19 L81.3 237.37 L81.8 236.41 L82.3 235.34 L82.8 234.15 L83.3 232.82 L83.8 231.33 L84.3 229.66 L84.8 227.8 L85.3 225.73 L85.8 223.45 L86.3 220.96 L86.8 218.26 L87.3 215.37 L87.8 212.29 L88.3 209.01 L88.8 205.57 L89.3 201.98 L89.8 198.27 L90.3 194.46 L90.8 190.57 L91.3 186.63 L91.8 182.68 L92.3 178.74 L92.8 174.86 L93.3 171.07 L93.8 167.42 L94.3 163.93 L94.8 160.59 L95.3 157.33 L95.8 154.09 L96.3 150.8 L96.8 147.41 L97.3 143.84 L97.8 140.1 L98.3 136.26 L98.8 132.38 L99.3 128.52 L99.8 124.75 L100.3 121.14 L100.8 117.79 L101.3 114.8 L101.8 112.25 L102.3 110.1 L102.8 108.3 L103.3 106.8 L103.8 105.54 L104.3 104.48 L104.8 103.6 L105.3 102.86 L105.8 102.24 L106.3 101.72 L106.8 101.31 L107.3 101.01 L107.8 100.82 L108.3 100.75 L108.8 100.77 L109.3 100.85 L109.8 100.99 L110.3 101.14 L110.8 101.29 L111.3 101.43 L111.8 101.56 L112.3 101.71 L112.8 101.87 L113.3 102.05 L113.8 102.26 L114.3 102.5 L114.8 102.8 L115.3 103.15 L115.8 103.55 L116.3 104 L116.8 104.49 L117.3 105.01 L117.8 105.56 L118.3 106.11 L118.8 106.68 L119.3 107.24 L119.8 107.79 L120.3 108.32 L120.8 108.83 L121.3 109.33 L121.8 109.82 L122.3 110.31 L122.8 110.81 L123.3 111.32 L123.8 111.86 L124.3 112.41 L124.8 113 L125.3 113.62 L125.8 114.25 L126.3 114.91 L126.8 115.58 L127.3 116.27 L127.8 116.96 L128.3 117.65 L128.8 118.35 L129.3 119.04 L129.8 119.73 L130.3 120.4 L130.8 121.07 L131.3 121.72 L131.8 122.36 L132.3 122.99 L132.8 123.61 L133.3 124.21 L133.8 124.81 L134.3 125.4 L134.8 125.98 L135.3 126.55 L135.8 127.12 L136.3 127.67 L136.8 128.22 L137.3 128.76 L137.8 129.29 L138.3 129.81 L138.8 130.33 L139.3 130.85 L139.8 131.36 L140.3 131.86 L140.8 132.35 L141.3 132.84 L141.8 133.33 L142.3 133.81 L142.8 134.29 L143.3 134.76 L143.8 135.22 L144.3 135.69 L144.8 136.15 L145.3 136.6 L145.8 137.05 L146.3 137.5 L146.8 137.94 L147.3 138.39 L147.8 138.83 L148.3 139.26 L148.8 139.69 L149.3 140.12 L149.8 140.55 L150.3 140.97 L150.8 141.38 L151.3 141.78 L151.8 142.17 L152.3 142.56 L152.8 142.93 L153.3 143.29 L153.8 143.64 L154.3 143.98 L154.8 144.3 L155.3 144.6 L155.8 144.89 L156.3 145.16 L156.8 145.41 L157.3 145.65 L157.8 145.86 L158.3 146.06 L158.8 146.25 L159.3 146.41 L159.8 146.56 L160.3 146.7 L160.8 146.81 L161.3 146.91 L161.8 147 L162.3 147.07 L162.8 147.12 L163.3 147.16 L163.8 147.19 L164.3 147.2 L164.8 147.2 L165.3 147.18 L165.8 147.15 L166.3 147.1 L166.8 147.04 L167.3 146.96 L167.8 146.87 L168.3 146.76 L168.8 146.64 L169.3 146.51 L169.8 146.35 L170.3 146.19 L170.8 146 L171.3 145.81 L171.8 145.59 L172.3 145.36 L172.8 145.11 L173.3 144.85 L173.8 144.58 L174.3 144.29 L174.8 143.99 L175.3 143.68 L175.8 143.36 L176.3 143.04 L176.8 142.7 L177.3 142.36 L177.8 142.01 L178.3 141.66 L178.8 141.3 L179.3 140.94 L179.8 140.58 L180.3 140.22 L180.8 139.86 L181.3 139.5 L181.8 139.14 L182.3 138.79 L182.8 138.44 L183.3 138.09 L183.8 137.75 L184.3 137.41 L184.8 137.07 L185.3 136.74 L185.8 136.42 L186.3 136.1 L186.8 135.79 L187.3 135.49 L187.8 135.19 L188.3 134.9 L188.8 134.62 L189.3 134.34 L189.8 134.07 L190.3 133.81 L190.8 133.56 L191.3 133.32 L191.8 133.09 L192.3 132.87 L192.8 132.65 L193.3 132.45 L193.8 132.25 L194.3 132.07 L194.8 131.89 L195.3 131.72 L195.8 131.55 L196.3 131.4 L196.8 131.25 L197.3 131.1 L197.8 130.97 L198.3 130.83 L198.8 130.71 L199.3 130.59 L199.8 130.47 L200.3 130.36 L200.8 130.25 L201.3 130.14 L201.8 130.04 L202.3 129.94 L202.8 129.84 L203.3 129.75 L203.8 129.66 L204.3 129.57 L204.8 129.48 L205.3 129.4 L205.8 129.32 L206.3 129.24 L206.8 129.16 L207.3 129.09 L207.8 129.02 L208.3 128.95 L208.8 128.88 L209.3 128.81 L209.8 128.75 L210.3 128.69 L210.8 128.63 L211.3 128.57 L211.8 128.52 L212.3 128.47 L212.8 128.42 L213.3 128.37 L213.8 128.32 L214.3 128.27 L214.8 128.23 L215.3 128.19 L215.8 128.15 L216.3 128.11 L216.8 128.07 L217.3 128.03 L217.8 128 L218.3 127.96 L218.8 127.93 L219.3 127.9 L219.8 127.87 L220.3 127.84 L220.8 127.81 L221.3 127.79 L221.8 127.76 L222.3 127.73 L222.8 127.71 L223.3 127.68 L223.8 127.66 L224.3 127.64 L224.8 127.61 L225.3 127.59 L225.8 127.57 L226.3 127.54 L226.8 127.52 L227.3 127.5" fill="none" stroke="#a8245a" stroke-width="1.55" stroke-linejoin="round" />
</g>
<rect x="47.3" y="11.6" width="180" height="242.6" stroke="#000" stroke-width="1.4" fill="none" />
<line x1="282.6" y1="252.8" x2="282.6" y2="257.1" stroke="#000" stroke-width="1.4" />
<text x="282.6" y="270" font-size="12.5" fill="#000" text-anchor="middle" >0</text>
<line x1="314.1" y1="252.8" x2="314.1" y2="255.2" stroke="#000" stroke-width="1.4" />
<line x1="345.6" y1="252.8" x2="345.6" y2="257.1" stroke="#000" stroke-width="1.4" />
<text x="345.6" y="270" font-size="12.5" fill="#000" text-anchor="middle" >2</text>
<line x1="377.1" y1="252.8" x2="377.1" y2="255.2" stroke="#000" stroke-width="1.4" />
<line x1="408.6" y1="252.8" x2="408.6" y2="257.1" stroke="#000" stroke-width="1.4" />
<text x="408.6" y="270" font-size="12.5" fill="#000" text-anchor="middle" >4</text>
<line x1="440.1" y1="252.8" x2="440.1" y2="255.2" stroke="#000" stroke-width="1.4" />
<line x1="471.6" y1="252.8" x2="471.6" y2="257.1" stroke="#000" stroke-width="1.4" />
<text x="471.6" y="270" font-size="12.5" fill="#000" text-anchor="middle" >6</text>
<text x="377.4" y="278.8" font-size="14.6" fill="#000" text-anchor="middle" >R (Å)</text>
<text x="270.5" y="116.1" font-size="14.6" fill="#000" text-anchor="middle" transform="rotate(-90 270.5 116.1)" >FT-EXAFS</text>
<text x="258.6" y="13.3" font-size="17" fill="#000" >b</text>
<path d="M282.6 36 L283.1 36.01 L283.6 36.02 L284.1 36.04 L284.6 36.05 L285.1 36.06 L285.6 36.07 L286.1 36.08 L286.6 36.08 L287.1 36.09 L287.6 36.09 L288.1 36.1 L288.6 36.1 L289.1 36.1 L289.6 36.1 L290.1 36.09 L290.6 36.09 L291.1 36.08 L291.6 36.06 L292.11 36.05 L292.61 36.03 L293.11 36.01 L293.61 35.99 L294.11 35.96 L294.61 35.93 L295.11 35.89 L295.61 35.85 L296.11 35.81 L296.61 35.77 L297.11 35.72 L297.61 35.67 L298.11 35.62 L298.61 35.57 L299.11 35.52 L299.61 35.47 L300.11 35.43 L300.61 35.38 L301.11 35.34 L301.61 35.29 L302.11 35.26 L302.61 35.22 L303.11 35.19 L303.61 35.17 L304.11 35.15 L304.61 35.14 L305.11 35.13 L305.61 35.13 L306.11 35.14 L306.61 35.16 L307.11 35.18 L307.61 35.22 L308.11 35.26 L308.61 35.32 L309.11 35.39 L309.61 35.47 L310.11 35.55 L310.61 35.64 L311.12 35.74 L311.62 35.83 L312.12 35.91 L312.62 35.99 L313.12 36.05 L313.62 36.09 L314.12 36.12 L314.62 36.12 L315.12 36.09 L315.62 36.03 L316.12 35.94 L316.62 35.81 L317.12 35.66 L317.62 35.49 L318.12 35.31 L318.62 35.12 L319.12 34.94 L319.62 34.76 L320.12 34.6 L320.62 34.45 L321.12 34.32 L321.62 34.2 L322.12 34.1 L322.62 34.02 L323.12 33.96 L323.62 33.91 L324.12 33.89 L324.62 33.88 L325.12 33.91 L325.62 33.97 L326.12 34.07 L326.62 34.22 L327.12 34.42 L327.62 34.67 L328.12 34.97 L328.62 35.29 L329.12 35.59 L329.62 35.85 L330.13 36.02 L330.63 36.08 L331.13 35.99 L331.63 35.73 L332.13 35.32 L332.63 34.77 L333.13 34.12 L333.63 33.39 L334.13 32.61 L334.63 31.79 L335.13 30.96 L335.63 30.12 L336.13 29.27 L336.63 28.41 L337.13 27.56 L337.63 26.71 L338.13 25.86 L338.63 25.01 L339.13 24.18 L339.63 23.37 L340.13 22.58 L340.63 21.83 L341.13 21.12 L341.63 20.45 L342.13 19.85 L342.63 19.29 L343.13 18.79 L343.63 18.33 L344.13 17.91 L344.63 17.51 L345.13 17.13 L345.63 16.75 L346.13 16.38 L346.63 16.01 L347.13 15.65 L347.63 15.31 L348.13 15 L348.63 14.73 L349.14 14.49 L349.64 14.3 L350.14 14.15 L350.64 14.05 L351.14 14 L351.64 14.01 L352.14 14.06 L352.64 14.17 L353.14 14.31 L353.64 14.51 L354.14 14.73 L354.64 14.99 L355.14 15.28 L355.64 15.6 L356.14 15.94 L356.64 16.3 L357.14 16.69 L357.64 17.09 L358.14 17.51 L358.64 17.96 L359.14 18.41 L359.64 18.89 L360.14 19.38 L360.64 19.89 L361.14 20.41 L361.64 20.95 L362.14 21.51 L362.64 22.08 L363.14 22.67 L363.64 23.28 L364.14 23.9 L364.64 24.53 L365.14 25.18 L365.64 25.83 L366.14 26.48 L366.64 27.14 L367.14 27.8 L367.64 28.46 L368.15 29.11 L368.65 29.76 L369.15 30.38 L369.65 30.99 L370.15 31.58 L370.65 32.13 L371.15 32.65 L371.65 33.13 L372.15 33.56 L372.65 33.94 L373.15 34.26 L373.65 34.53 L374.15 34.73 L374.65 34.86 L375.15 34.92 L375.65 34.9 L376.15 34.83 L376.65 34.7 L377.15 34.53 L377.65 34.33 L378.15 34.11 L378.65 33.88 L379.15 33.65 L379.65 33.44 L380.15 33.24 L380.65 33.08 L381.15 32.94 L381.65 32.82 L382.15 32.72 L382.65 32.65 L383.15 32.59 L383.65 32.55 L384.15 32.52 L384.65 32.49 L385.15 32.48 L385.65 32.47 L386.15 32.46 L386.66 32.45 L387.16 32.43 L387.66 32.41 L388.16 32.36 L388.66 32.31 L389.16 32.23 L389.66 32.12 L390.16 32 L390.66 31.86 L391.16 31.71 L391.66 31.55 L392.16 31.39 L392.66 31.24 L393.16 31.09 L393.66 30.96 L394.16 30.85 L394.66 30.75 L395.16 30.67 L395.66 30.61 L396.16 30.56 L396.66 30.53 L397.16 30.51 L397.66 30.5 L398.16 30.51 L398.66 30.53 L399.16 30.57 L399.66 30.64 L400.16 30.72 L400.66 30.84 L401.16 30.98 L401.66 31.16 L402.16 31.37 L402.66 31.61 L403.16 31.9 L403.66 32.22 L404.16 32.56 L404.66 32.9 L405.16 33.23 L405.67 33.53 L406.17 33.77 L406.67 33.96 L407.17 34.06 L407.67 34.06 L408.17 33.95 L408.67 33.72 L409.17 33.38 L409.67 32.95 L410.17 32.45 L410.67 31.89 L411.17 31.29 L411.67 30.67 L412.17 30.03 L412.67 29.4 L413.17 28.8 L413.67 28.22 L414.17 27.68 L414.67 27.17 L415.17 26.69 L415.67 26.24 L416.17 25.82 L416.67 25.42 L417.17 25.05 L417.67 24.71 L418.17 24.39 L418.67 24.1 L419.17 23.84 L419.67 23.6 L420.17 23.39 L420.67 23.21 L421.17 23.06 L421.67 22.94 L422.17 22.86 L422.67 22.81 L423.17 22.8 L423.67 22.82 L424.17 22.88 L424.68 22.97 L425.18 23.09 L425.68 23.24 L426.18 23.41 L426.68 23.6 L427.18 23.81 L427.68 24.04 L428.18 24.29 L428.68 24.55 L429.18 24.82 L429.68 25.1 L430.18 25.4 L430.68 25.72 L431.18 26.04 L431.68 26.38 L432.18 26.74 L432.68 27.11 L433.18 27.49 L433.68 27.88 L434.18 28.3 L434.68 28.72 L435.18 29.16 L435.68 29.61 L436.18 30.07 L436.68 30.53 L437.18 30.99 L437.68 31.43 L438.18 31.86 L438.68 32.27 L439.18 32.65 L439.68 33 L440.18 33.31 L440.68 33.57 L441.18 33.79 L441.68 33.95 L442.18 34.05 L442.68 34.09 L443.18 34.08 L443.69 34.03 L444.19 33.95 L444.69 33.84 L445.19 33.71 L445.69 33.58 L446.19 33.45 L446.69 33.33 L447.19 33.22 L447.69 33.12 L448.19 33.03 L448.69 32.97 L449.19 32.92 L449.69 32.9 L450.19 32.91 L450.69 32.94 L451.19 32.99 L451.69 33.06 L452.19 33.16 L452.69 33.26 L453.19 33.37 L453.69 33.49 L454.19 33.61 L454.69 33.73 L455.19 33.84 L455.69 33.95 L456.19 34.05 L456.69 34.14 L457.19 34.23 L457.69 34.31 L458.19 34.37 L458.69 34.43 L459.19 34.48 L459.69 34.52 L460.19 34.55 L460.69 34.57 L461.19 34.59 L461.69 34.6 L462.19 34.6 L462.7 34.61 L463.2 34.6 L463.7 34.6 L464.2 34.6 L464.7 34.6 L465.2 34.6 L465.7 34.6 L466.2 34.61 L466.7 34.62 L467.2 34.63 L467.7 34.65 L468.2 34.66 L468.7 34.68 L469.2 34.7 L469.7 34.72 L470.2 34.74 L470.7 34.76 L471.2 34.78 L471.7 34.8" fill="none" stroke="#3c3c3c" stroke-width="1.4" stroke-linejoin="round" />
<path d="M282.6 67 L283.1 66.97 L283.6 66.94 L284.1 66.91 L284.6 66.87 L285.1 66.84 L285.6 66.8 L286.1 66.77 L286.6 66.73 L287.1 66.68 L287.6 66.64 L288.1 66.59 L288.6 66.54 L289.1 66.48 L289.6 66.43 L290.1 66.38 L290.6 66.33 L291.1 66.29 L291.6 66.26 L292.11 66.23 L292.61 66.22 L293.11 66.21 L293.61 66.23 L294.11 66.25 L294.61 66.3 L295.11 66.37 L295.61 66.45 L296.11 66.54 L296.61 66.65 L297.11 66.76 L297.61 66.87 L298.11 66.98 L298.61 67.09 L299.11 67.2 L299.61 67.29 L300.11 67.37 L300.61 67.43 L301.11 67.48 L301.61 67.5 L302.11 67.49 L302.61 67.46 L303.11 67.41 L303.61 67.33 L304.11 67.24 L304.61 67.14 L305.11 67.02 L305.61 66.9 L306.11 66.77 L306.61 66.64 L307.11 66.5 L307.61 66.34 L308.11 66.15 L308.61 65.92 L309.11 65.65 L309.61 65.33 L310.11 64.95 L310.61 64.53 L311.12 64.06 L311.62 63.56 L312.12 63.02 L312.62 62.45 L313.12 61.86 L313.62 61.25 L314.12 60.62 L314.62 59.99 L315.12 59.35 L315.62 58.71 L316.12 58.07 L316.62 57.46 L317.12 56.85 L317.62 56.27 L318.12 55.7 L318.62 55.16 L319.12 54.64 L319.62 54.14 L320.12 53.66 L320.62 53.22 L321.12 52.8 L321.62 52.41 L322.12 52.05 L322.62 51.72 L323.12 51.43 L323.62 51.18 L324.12 50.96 L324.62 50.78 L325.12 50.64 L325.62 50.55 L326.12 50.5 L326.62 50.5 L327.12 50.54 L327.62 50.64 L328.12 50.78 L328.62 50.98 L329.12 51.23 L329.62 51.53 L330.13 51.89 L330.63 52.31 L331.13 52.78 L331.63 53.3 L332.13 53.85 L332.63 54.43 L333.13 55.03 L333.63 55.64 L334.13 56.26 L334.63 56.86 L335.13 57.47 L335.63 58.09 L336.13 58.71 L336.63 59.35 L337.13 60.02 L337.63 60.71 L338.13 61.44 L338.63 62.2 L339.13 63 L339.63 63.81 L340.13 64.6 L340.63 65.35 L341.13 66.03 L341.63 66.62 L342.13 67.1 L342.63 67.43 L343.13 67.59 L343.63 67.6 L344.13 67.48 L344.63 67.29 L345.13 67.04 L345.63 66.78 L346.13 66.54 L346.63 66.34 L347.13 66.18 L347.63 66.05 L348.13 65.94 L348.63 65.85 L349.14 65.76 L349.64 65.68 L350.14 65.59 L350.64 65.5 L351.14 65.39 L351.64 65.27 L352.14 65.14 L352.64 65.01 L353.14 64.87 L353.64 64.72 L354.14 64.57 L354.64 64.42 L355.14 64.27 L355.64 64.11 L356.14 63.96 L356.64 63.8 L357.14 63.65 L357.64 63.51 L358.14 63.37 L358.64 63.24 L359.14 63.12 L359.64 63.01 L360.14 62.91 L360.64 62.83 L361.14 62.76 L361.64 62.71 L362.14 62.68 L362.64 62.67 L363.14 62.68 L363.64 62.7 L364.14 62.74 L364.64 62.78 L365.14 62.84 L365.64 62.9 L366.14 62.97 L366.64 63.05 L367.14 63.12 L367.64 63.2 L368.15 63.28 L368.65 63.36 L369.15 63.43 L369.65 63.51 L370.15 63.59 L370.65 63.67 L371.15 63.75 L371.65 63.83 L372.15 63.91 L372.65 63.98 L373.15 64.06 L373.65 64.14 L374.15 64.21 L374.65 64.29 L375.15 64.36 L375.65 64.44 L376.15 64.52 L376.65 64.6 L377.15 64.68 L377.65 64.76 L378.15 64.85 L378.65 64.94 L379.15 65.03 L379.65 65.13 L380.15 65.23 L380.65 65.34 L381.15 65.45 L381.65 65.56 L382.15 65.68 L382.65 65.79 L383.15 65.9 L383.65 66 L384.15 66.1 L384.65 66.19 L385.15 66.28 L385.65 66.35 L386.15 66.42 L386.66 66.47 L387.16 66.52 L387.66 66.55 L388.16 66.58 L388.66 66.61 L389.16 66.63 L389.66 66.64 L390.16 66.65 L390.66 66.65 L391.16 66.65 L391.66 66.65 L392.16 66.64 L392.66 66.63 L393.16 66.63 L393.66 66.62 L394.16 66.61 L394.66 66.6 L395.16 66.6 L395.66 66.6 L396.16 66.59 L396.66 66.6 L397.16 66.6 L397.66 66.6 L398.16 66.61 L398.66 66.62 L399.16 66.63 L399.66 66.64 L400.16 66.65 L400.66 66.66 L401.16 66.67 L401.66 66.69 L402.16 66.7 L402.66 66.72 L403.16 66.74 L403.66 66.75 L404.16 66.77 L404.66 66.79 L405.16 66.81 L405.67 66.82 L406.17 66.84 L406.67 66.86 L407.17 66.88 L407.67 66.9 L408.17 66.91 L408.67 66.93 L409.17 66.95 L409.67 66.96 L410.17 66.98 L410.67 66.99 L411.17 67.01 L411.67 67.02 L412.17 67.04 L412.67 67.05 L413.17 67.06 L413.67 67.07 L414.17 67.08 L414.67 67.09 L415.17 67.09 L415.67 67.1 L416.17 67.1 L416.67 67.1 L417.17 67.1 L417.67 67.1 L418.17 67.1 L418.67 67.1 L419.17 67.1 L419.67 67.09 L420.17 67.09 L420.67 67.08 L421.17 67.08 L421.67 67.07 L422.17 67.06 L422.67 67.06 L423.17 67.05 L423.67 67.04 L424.17 67.04 L424.68 67.03 L425.18 67.02 L425.68 67.02 L426.18 67.01 L426.68 67.01 L427.18 67 L427.68 67 L428.18 67 L428.68 67 L429.18 67 L429.68 67 L430.18 67 L430.68 67 L431.18 67.01 L431.68 67.02 L432.18 67.02 L432.68 67.03 L433.18 67.04 L433.68 67.05 L434.18 67.06 L434.68 67.07 L435.18 67.09 L435.68 67.1 L436.18 67.11 L436.68 67.12 L437.18 67.14 L437.68 67.15 L438.18 67.16 L438.68 67.18 L439.18 67.19 L439.68 67.2 L440.18 67.22 L440.68 67.23 L441.18 67.24 L441.68 67.25 L442.18 67.26 L442.68 67.27 L443.18 67.28 L443.69 67.29 L444.19 67.29 L444.69 67.3 L445.19 67.3 L445.69 67.3 L446.19 67.31 L446.69 67.31 L447.19 67.3 L447.69 67.3 L448.19 67.3 L448.69 67.3 L449.19 67.29 L449.69 67.29 L450.19 67.28 L450.69 67.28 L451.19 67.27 L451.69 67.26 L452.19 67.26 L452.69 67.25 L453.19 67.24 L453.69 67.24 L454.19 67.23 L454.69 67.23 L455.19 67.22 L455.69 67.21 L456.19 67.21 L456.69 67.21 L457.19 67.2 L457.69 67.2 L458.19 67.2 L458.69 67.2 L459.19 67.2 L459.69 67.2 L460.19 67.2 L460.69 67.21 L461.19 67.21 L461.69 67.22 L462.19 67.22 L462.7 67.23 L463.2 67.24 L463.7 67.25 L464.2 67.26 L464.7 67.28 L465.2 67.29 L465.7 67.3 L466.2 67.32 L466.7 67.33 L467.2 67.35 L467.7 67.36 L468.2 67.38 L468.7 67.39 L469.2 67.41 L469.7 67.43 L470.2 67.45 L470.7 67.46 L471.2 67.48 L471.7 67.5" fill="none" stroke="#b25450" stroke-width="1.4" stroke-linejoin="round" />
<path d="M282.6 97.1 L283.1 97.1 L283.6 97.1 L284.1 97.1 L284.6 97.1 L285.1 97.09 L285.6 97.09 L286.1 97.08 L286.6 97.06 L287.1 97.04 L287.6 97.02 L288.1 96.99 L288.6 96.96 L289.1 96.92 L289.6 96.89 L290.1 96.84 L290.6 96.8 L291.1 96.76 L291.6 96.72 L292.11 96.69 L292.61 96.65 L293.11 96.63 L293.61 96.61 L294.11 96.6 L294.61 96.59 L295.11 96.6 L295.61 96.62 L296.11 96.65 L296.61 96.68 L297.11 96.72 L297.61 96.76 L298.11 96.8 L298.61 96.83 L299.11 96.86 L299.61 96.89 L300.11 96.9 L300.61 96.91 L301.11 96.9 L301.61 96.87 L302.11 96.83 L302.61 96.77 L303.11 96.69 L303.61 96.58 L304.11 96.46 L304.61 96.3 L305.11 96.12 L305.61 95.91 L306.11 95.68 L306.61 95.42 L307.11 95.15 L307.61 94.85 L308.11 94.53 L308.61 94.19 L309.11 93.83 L309.61 93.46 L310.11 93.08 L310.61 92.69 L311.12 92.3 L311.62 91.9 L312.12 91.51 L312.62 91.12 L313.12 90.73 L313.62 90.34 L314.12 89.95 L314.62 89.55 L315.12 89.14 L315.62 88.73 L316.12 88.3 L316.62 87.86 L317.12 87.4 L317.62 86.93 L318.12 86.45 L318.62 85.94 L319.12 85.41 L319.62 84.87 L320.12 84.3 L320.62 83.73 L321.12 83.15 L321.62 82.59 L322.12 82.06 L322.62 81.55 L323.12 81.09 L323.62 80.69 L324.12 80.34 L324.62 80.05 L325.12 79.83 L325.62 79.68 L326.12 79.6 L326.62 79.59 L327.12 79.67 L327.62 79.82 L328.12 80.05 L328.62 80.34 L329.12 80.71 L329.62 81.14 L330.13 81.63 L330.63 82.17 L331.13 82.77 L331.63 83.4 L332.13 84.07 L332.63 84.77 L333.13 85.48 L333.63 86.21 L334.13 86.93 L334.63 87.65 L335.13 88.35 L335.63 89.02 L336.13 89.66 L336.63 90.25 L337.13 90.81 L337.63 91.32 L338.13 91.78 L338.63 92.21 L339.13 92.6 L339.63 92.94 L340.13 93.25 L340.63 93.52 L341.13 93.76 L341.63 93.97 L342.13 94.16 L342.63 94.31 L343.13 94.44 L343.63 94.56 L344.13 94.65 L344.63 94.73 L345.13 94.79 L345.63 94.84 L346.13 94.88 L346.63 94.92 L347.13 94.95 L347.63 94.98 L348.13 95.01 L348.63 95.04 L349.14 95.07 L349.64 95.1 L350.14 95.12 L350.64 95.14 L351.14 95.16 L351.64 95.16 L352.14 95.16 L352.64 95.14 L353.14 95.11 L353.64 95.07 L354.14 95.01 L354.64 94.93 L355.14 94.83 L355.64 94.72 L356.14 94.59 L356.64 94.45 L357.14 94.31 L357.64 94.17 L358.14 94.03 L358.64 93.89 L359.14 93.77 L359.64 93.66 L360.14 93.56 L360.64 93.48 L361.14 93.41 L361.64 93.37 L362.14 93.34 L362.64 93.32 L363.14 93.33 L363.64 93.36 L364.14 93.4 L364.64 93.47 L365.14 93.56 L365.64 93.66 L366.14 93.77 L366.64 93.88 L367.14 94 L367.64 94.12 L368.15 94.23 L368.65 94.34 L369.15 94.44 L369.65 94.54 L370.15 94.64 L370.65 94.74 L371.15 94.83 L371.65 94.93 L372.15 95.03 L372.65 95.13 L373.15 95.23 L373.65 95.33 L374.15 95.43 L374.65 95.52 L375.15 95.6 L375.65 95.67 L376.15 95.73 L376.65 95.78 L377.15 95.81 L377.65 95.82 L378.15 95.82 L378.65 95.81 L379.15 95.79 L379.65 95.78 L380.15 95.76 L380.65 95.74 L381.15 95.73 L381.65 95.74 L382.15 95.75 L382.65 95.79 L383.15 95.84 L383.65 95.91 L384.15 96 L384.65 96.09 L385.15 96.19 L385.65 96.29 L386.15 96.38 L386.66 96.45 L387.16 96.52 L387.66 96.56 L388.16 96.59 L388.66 96.59 L389.16 96.58 L389.66 96.55 L390.16 96.51 L390.66 96.45 L391.16 96.37 L391.66 96.27 L392.16 96.16 L392.66 96.04 L393.16 95.92 L393.66 95.79 L394.16 95.68 L394.66 95.59 L395.16 95.53 L395.66 95.5 L396.16 95.51 L396.66 95.57 L397.16 95.66 L397.66 95.79 L398.16 95.93 L398.66 96.09 L399.16 96.25 L399.66 96.4 L400.16 96.54 L400.66 96.67 L401.16 96.77 L401.66 96.86 L402.16 96.92 L402.66 96.97 L403.16 96.99 L403.66 97 L404.16 96.98 L404.66 96.94 L405.16 96.88 L405.67 96.79 L406.17 96.7 L406.67 96.59 L407.17 96.48 L407.67 96.36 L408.17 96.26 L408.67 96.16 L409.17 96.08 L409.67 96.02 L410.17 95.99 L410.67 95.99 L411.17 96.01 L411.67 96.06 L412.17 96.12 L412.67 96.19 L413.17 96.28 L413.67 96.37 L414.17 96.46 L414.67 96.55 L415.17 96.63 L415.67 96.7 L416.17 96.76 L416.67 96.82 L417.17 96.87 L417.67 96.91 L418.17 96.94 L418.67 96.96 L419.17 96.98 L419.67 97 L420.17 97 L420.67 97 L421.17 97 L421.67 96.99 L422.17 96.98 L422.67 96.96 L423.17 96.94 L423.67 96.92 L424.17 96.89 L424.68 96.87 L425.18 96.84 L425.68 96.81 L426.18 96.78 L426.68 96.75 L427.18 96.72 L427.68 96.7 L428.18 96.67 L428.68 96.65 L429.18 96.63 L429.68 96.61 L430.18 96.6 L430.68 96.59 L431.18 96.58 L431.68 96.57 L432.18 96.57 L432.68 96.58 L433.18 96.58 L433.68 96.59 L434.18 96.6 L434.68 96.61 L435.18 96.62 L435.68 96.64 L436.18 96.66 L436.68 96.67 L437.18 96.69 L437.68 96.71 L438.18 96.73 L438.68 96.75 L439.18 96.77 L439.68 96.79 L440.18 96.81 L440.68 96.82 L441.18 96.84 L441.68 96.86 L442.18 96.88 L442.68 96.89 L443.18 96.91 L443.69 96.92 L444.19 96.93 L444.69 96.95 L445.19 96.96 L445.69 96.97 L446.19 96.98 L446.69 96.99 L447.19 97.01 L447.69 97.02 L448.19 97.02 L448.69 97.03 L449.19 97.04 L449.69 97.05 L450.19 97.06 L450.69 97.06 L451.19 97.07 L451.69 97.08 L452.19 97.08 L452.69 97.08 L453.19 97.09 L453.69 97.09 L454.19 97.1 L454.69 97.1 L455.19 97.1 L455.69 97.1 L456.19 97.1 L456.69 97.1 L457.19 97.11 L457.69 97.11 L458.19 97.11 L458.69 97.1 L459.19 97.1 L459.69 97.1 L460.19 97.1 L460.69 97.1 L461.19 97.1 L461.69 97.09 L462.19 97.09 L462.7 97.09 L463.2 97.08 L463.7 97.08 L464.2 97.08 L464.7 97.07 L465.2 97.07 L465.7 97.06 L466.2 97.06 L466.7 97.05 L467.2 97.05 L467.7 97.04 L468.2 97.04 L468.7 97.03 L469.2 97.03 L469.7 97.02 L470.2 97.02 L470.7 97.01 L471.2 97.01 L471.7 97" fill="none" stroke="#9224f2" stroke-width="1.5" stroke-linejoin="round" />
<path d="M282.6 127.6 L283.1 127.59 L283.6 127.58 L284.1 127.58 L284.6 127.57 L285.1 127.56 L285.6 127.55 L286.1 127.54 L286.6 127.52 L287.1 127.51 L287.6 127.5 L288.1 127.48 L288.6 127.46 L289.1 127.44 L289.6 127.42 L290.1 127.39 L290.6 127.37 L291.1 127.34 L291.6 127.31 L292.11 127.28 L292.61 127.25 L293.11 127.21 L293.61 127.18 L294.11 127.14 L294.61 127.11 L295.11 127.08 L295.61 127.04 L296.11 127.01 L296.61 126.98 L297.11 126.95 L297.61 126.92 L298.11 126.89 L298.61 126.87 L299.11 126.85 L299.61 126.82 L300.11 126.8 L300.61 126.77 L301.11 126.74 L301.61 126.71 L302.11 126.68 L302.61 126.64 L303.11 126.59 L303.61 126.53 L304.11 126.47 L304.61 126.4 L305.11 126.33 L305.61 126.24 L306.11 126.15 L306.61 126.04 L307.11 125.93 L307.61 125.8 L308.11 125.67 L308.61 125.52 L309.11 125.37 L309.61 125.2 L310.11 125.03 L310.61 124.85 L311.12 124.66 L311.62 124.47 L312.12 124.27 L312.62 124.07 L313.12 123.86 L313.62 123.66 L314.12 123.45 L314.62 123.24 L315.12 123.03 L315.62 122.82 L316.12 122.61 L316.62 122.39 L317.12 122.16 L317.62 121.93 L318.12 121.7 L318.62 121.45 L319.12 121.19 L319.62 120.93 L320.12 120.66 L320.62 120.38 L321.12 120.09 L321.62 119.81 L322.12 119.52 L322.62 119.24 L323.12 118.96 L323.62 118.7 L324.12 118.44 L324.62 118.19 L325.12 117.97 L325.62 117.76 L326.12 117.59 L326.62 117.45 L327.12 117.35 L327.62 117.3 L328.12 117.3 L328.62 117.35 L329.12 117.45 L329.62 117.61 L330.13 117.82 L330.63 118.08 L331.13 118.38 L331.63 118.72 L332.13 119.1 L332.63 119.52 L333.13 119.97 L333.63 120.45 L334.13 120.94 L334.63 121.46 L335.13 121.98 L335.63 122.51 L336.13 123.03 L336.63 123.56 L337.13 124.08 L337.63 124.6 L338.13 125.12 L338.63 125.63 L339.13 126.14 L339.63 126.6 L340.13 126.96 L340.63 127.18 L341.13 127.24 L341.63 127.15 L342.13 126.95 L342.63 126.71 L343.13 126.45 L343.63 126.22 L344.13 126.07 L344.63 126.02 L345.13 126.02 L345.63 126.04 L346.13 126.04 L346.63 125.97 L347.13 125.79 L347.63 125.47 L348.13 125 L348.63 124.42 L349.14 123.76 L349.64 123.04 L350.14 122.3 L350.64 121.55 L351.14 120.81 L351.64 120.09 L352.14 119.4 L352.64 118.74 L353.14 118.14 L353.64 117.59 L354.14 117.1 L354.64 116.65 L355.14 116.24 L355.64 115.87 L356.14 115.54 L356.64 115.23 L357.14 114.95 L357.64 114.68 L358.14 114.43 L358.64 114.19 L359.14 113.96 L359.64 113.75 L360.14 113.55 L360.64 113.37 L361.14 113.21 L361.64 113.07 L362.14 112.95 L362.64 112.85 L363.14 112.77 L363.64 112.72 L364.14 112.7 L364.64 112.7 L365.14 112.73 L365.64 112.79 L366.14 112.88 L366.64 112.99 L367.14 113.12 L367.64 113.27 L368.15 113.45 L368.65 113.65 L369.15 113.86 L369.65 114.06 L370.15 114.25 L370.65 114.43 L371.15 114.58 L371.65 114.72 L372.15 114.84 L372.65 114.96 L373.15 115.07 L373.65 115.17 L374.15 115.27 L374.65 115.37 L375.15 115.47 L375.65 115.57 L376.15 115.69 L376.65 115.8 L377.15 115.93 L377.65 116.05 L378.15 116.18 L378.65 116.32 L379.15 116.45 L379.65 116.6 L380.15 116.74 L380.65 116.89 L381.15 117.04 L381.65 117.19 L382.15 117.35 L382.65 117.5 L383.15 117.66 L383.65 117.83 L384.15 117.99 L384.65 118.16 L385.15 118.33 L385.65 118.51 L386.15 118.69 L386.66 118.87 L387.16 119.06 L387.66 119.25 L388.16 119.45 L388.66 119.65 L389.16 119.86 L389.66 120.07 L390.16 120.29 L390.66 120.5 L391.16 120.72 L391.66 120.95 L392.16 121.17 L392.66 121.4 L393.16 121.63 L393.66 121.86 L394.16 122.1 L394.66 122.34 L395.16 122.58 L395.66 122.83 L396.16 123.08 L396.66 123.34 L397.16 123.59 L397.66 123.85 L398.16 124.11 L398.66 124.36 L399.16 124.6 L399.66 124.83 L400.16 125.05 L400.66 125.26 L401.16 125.46 L401.66 125.67 L402.16 125.86 L402.66 126.06 L403.16 126.25 L403.66 126.41 L404.16 126.55 L404.66 126.65 L405.16 126.7 L405.67 126.7 L406.17 126.64 L406.67 126.53 L407.17 126.37 L407.67 126.19 L408.17 125.98 L408.67 125.76 L409.17 125.54 L409.67 125.33 L410.17 125.14 L410.67 124.98 L411.17 124.84 L411.67 124.73 L412.17 124.63 L412.67 124.56 L413.17 124.5 L413.67 124.46 L414.17 124.43 L414.67 124.41 L415.17 124.4 L415.67 124.39 L416.17 124.4 L416.67 124.41 L417.17 124.42 L417.67 124.44 L418.17 124.47 L418.67 124.5 L419.17 124.54 L419.67 124.57 L420.17 124.62 L420.67 124.66 L421.17 124.71 L421.67 124.77 L422.17 124.82 L422.67 124.87 L423.17 124.93 L423.67 124.99 L424.17 125.04 L424.68 125.1 L425.18 125.16 L425.68 125.21 L426.18 125.26 L426.68 125.31 L427.18 125.35 L427.68 125.39 L428.18 125.42 L428.68 125.45 L429.18 125.48 L429.68 125.49 L430.18 125.5 L430.68 125.51 L431.18 125.5 L431.68 125.49 L432.18 125.48 L432.68 125.46 L433.18 125.43 L433.68 125.41 L434.18 125.38 L434.68 125.35 L435.18 125.32 L435.68 125.28 L436.18 125.25 L436.68 125.22 L437.18 125.19 L437.68 125.17 L438.18 125.14 L438.68 125.13 L439.18 125.11 L439.68 125.1 L440.18 125.1 L440.68 125.1 L441.18 125.11 L441.68 125.13 L442.18 125.15 L442.68 125.17 L443.18 125.2 L443.69 125.23 L444.19 125.27 L444.69 125.31 L445.19 125.35 L445.69 125.39 L446.19 125.44 L446.69 125.49 L447.19 125.53 L447.69 125.58 L448.19 125.63 L448.69 125.68 L449.19 125.73 L449.69 125.77 L450.19 125.82 L450.69 125.86 L451.19 125.9 L451.69 125.94 L452.19 125.98 L452.69 126.01 L453.19 126.05 L453.69 126.08 L454.19 126.12 L454.69 126.15 L455.19 126.18 L455.69 126.2 L456.19 126.23 L456.69 126.26 L457.19 126.28 L457.69 126.3 L458.19 126.33 L458.69 126.35 L459.19 126.37 L459.69 126.39 L460.19 126.41 L460.69 126.43 L461.19 126.44 L461.69 126.46 L462.19 126.48 L462.7 126.49 L463.2 126.51 L463.7 126.52 L464.2 126.53 L464.7 126.55 L465.2 126.56 L465.7 126.57 L466.2 126.58 L466.7 126.6 L467.2 126.61 L467.7 126.62 L468.2 126.63 L468.7 126.64 L469.2 126.65 L469.7 126.66 L470.2 126.67 L470.7 126.68 L471.2 126.69 L471.7 126.7" fill="none" stroke="#3f8ad4" stroke-width="1.4" stroke-linejoin="round" />
<path d="M282.6 157.5 L283.1 157.49 L283.6 157.48 L284.1 157.47 L284.6 157.46 L285.1 157.45 L285.6 157.44 L286.1 157.43 L286.6 157.42 L287.1 157.41 L287.6 157.39 L288.1 157.38 L288.6 157.36 L289.1 157.34 L289.6 157.32 L290.1 157.3 L290.6 157.27 L291.1 157.24 L291.6 157.22 L292.11 157.19 L292.61 157.16 L293.11 157.12 L293.61 157.09 L294.11 157.06 L294.61 157.02 L295.11 156.99 L295.61 156.96 L296.11 156.92 L296.61 156.89 L297.11 156.86 L297.61 156.82 L298.11 156.79 L298.61 156.76 L299.11 156.73 L299.61 156.69 L300.11 156.65 L300.61 156.6 L301.11 156.53 L301.61 156.45 L302.11 156.36 L302.61 156.25 L303.11 156.11 L303.61 155.96 L304.11 155.78 L304.61 155.57 L305.11 155.33 L305.61 155.08 L306.11 154.81 L306.61 154.54 L307.11 154.27 L307.61 154 L308.11 153.74 L308.61 153.5 L309.11 153.28 L309.61 153.06 L310.11 152.85 L310.61 152.65 L311.12 152.45 L311.62 152.26 L312.12 152.1 L312.62 151.97 L313.12 151.9 L313.62 151.9 L314.12 151.99 L314.62 152.13 L315.12 152.3 L315.62 152.45 L316.12 152.56 L316.62 152.6 L317.12 152.54 L317.62 152.39 L318.12 152.17 L318.62 151.88 L319.12 151.54 L319.62 151.15 L320.12 150.72 L320.62 150.26 L321.12 149.76 L321.62 149.23 L322.12 148.66 L322.62 148.07 L323.12 147.45 L323.62 146.8 L324.12 146.14 L324.62 145.47 L325.12 144.8 L325.62 144.15 L326.12 143.52 L326.62 142.92 L327.12 142.37 L327.62 141.86 L328.12 141.41 L328.62 141.01 L329.12 140.66 L329.62 140.37 L330.13 140.15 L330.63 139.98 L331.13 139.87 L331.63 139.81 L332.13 139.8 L332.63 139.82 L333.13 139.88 L333.63 139.99 L334.13 140.16 L334.63 140.38 L335.13 140.68 L335.63 141.06 L336.13 141.52 L336.63 142.06 L337.13 142.68 L337.63 143.39 L338.13 144.19 L338.63 145.05 L339.13 145.95 L339.63 146.88 L340.13 147.82 L340.63 148.75 L341.13 149.68 L341.63 150.61 L342.13 151.55 L342.63 152.47 L343.13 153.32 L343.63 154.02 L344.13 154.51 L344.63 154.73 L345.13 154.64 L345.63 154.29 L346.13 153.75 L346.63 153.05 L347.13 152.27 L347.63 151.44 L348.13 150.6 L348.63 149.79 L349.14 149.06 L349.64 148.45 L350.14 147.96 L350.64 147.59 L351.14 147.32 L351.64 147.12 L352.14 146.96 L352.64 146.84 L353.14 146.76 L353.64 146.7 L354.14 146.68 L354.64 146.69 L355.14 146.73 L355.64 146.81 L356.14 146.92 L356.64 147.09 L357.14 147.3 L357.64 147.58 L358.14 147.93 L358.64 148.32 L359.14 148.74 L359.64 149.18 L360.14 149.63 L360.64 150.07 L361.14 150.5 L361.64 150.93 L362.14 151.34 L362.64 151.75 L363.14 152.16 L363.64 152.55 L364.14 152.93 L364.64 153.31 L365.14 153.67 L365.64 154.02 L366.14 154.36 L366.64 154.68 L367.14 155 L367.64 155.3 L368.15 155.58 L368.65 155.85 L369.15 156.1 L369.65 156.33 L370.15 156.54 L370.65 156.72 L371.15 156.88 L371.65 157.01 L372.15 157.11 L372.65 157.18 L373.15 157.23 L373.65 157.25 L374.15 157.25 L374.65 157.23 L375.15 157.19 L375.65 157.13 L376.15 157.05 L376.65 156.97 L377.15 156.89 L377.65 156.8 L378.15 156.72 L378.65 156.64 L379.15 156.57 L379.65 156.52 L380.15 156.49 L380.65 156.48 L381.15 156.49 L381.65 156.52 L382.15 156.56 L382.65 156.62 L383.15 156.69 L383.65 156.77 L384.15 156.85 L384.65 156.94 L385.15 157.03 L385.65 157.12 L386.15 157.21 L386.66 157.29 L387.16 157.37 L387.66 157.43 L388.16 157.48 L388.66 157.52 L389.16 157.53 L389.66 157.52 L390.16 157.49 L390.66 157.43 L391.16 157.34 L391.66 157.24 L392.16 157.13 L392.66 157 L393.16 156.87 L393.66 156.74 L394.16 156.61 L394.66 156.48 L395.16 156.36 L395.66 156.26 L396.16 156.17 L396.66 156.1 L397.16 156.04 L397.66 155.99 L398.16 155.96 L398.66 155.95 L399.16 155.95 L399.66 155.97 L400.16 156.01 L400.66 156.07 L401.16 156.15 L401.66 156.23 L402.16 156.33 L402.66 156.44 L403.16 156.55 L403.66 156.67 L404.16 156.8 L404.66 156.92 L405.16 157.04 L405.67 157.16 L406.17 157.27 L406.67 157.37 L407.17 157.47 L407.67 157.56 L408.17 157.64 L408.67 157.7 L409.17 157.75 L409.67 157.79 L410.17 157.8 L410.67 157.8 L411.17 157.79 L411.67 157.76 L412.17 157.72 L412.67 157.66 L413.17 157.6 L413.67 157.53 L414.17 157.45 L414.67 157.36 L415.17 157.27 L415.67 157.18 L416.17 157.08 L416.67 156.99 L417.17 156.89 L417.67 156.81 L418.17 156.72 L418.67 156.65 L419.17 156.58 L419.67 156.53 L420.17 156.49 L420.67 156.46 L421.17 156.44 L421.67 156.43 L422.17 156.44 L422.67 156.45 L423.17 156.48 L423.67 156.51 L424.17 156.55 L424.68 156.59 L425.18 156.64 L425.68 156.69 L426.18 156.75 L426.68 156.81 L427.18 156.87 L427.68 156.93 L428.18 156.99 L428.68 157.05 L429.18 157.11 L429.68 157.17 L430.18 157.22 L430.68 157.26 L431.18 157.31 L431.68 157.34 L432.18 157.38 L432.68 157.41 L433.18 157.43 L433.68 157.46 L434.18 157.48 L434.68 157.49 L435.18 157.51 L435.68 157.52 L436.18 157.52 L436.68 157.53 L437.18 157.53 L437.68 157.53 L438.18 157.53 L438.68 157.52 L439.18 157.51 L439.68 157.51 L440.18 157.5 L440.68 157.48 L441.18 157.47 L441.68 157.46 L442.18 157.44 L442.68 157.42 L443.18 157.41 L443.69 157.39 L444.19 157.37 L444.69 157.35 L445.19 157.33 L445.69 157.3 L446.19 157.28 L446.69 157.26 L447.19 157.23 L447.69 157.21 L448.19 157.19 L448.69 157.16 L449.19 157.14 L449.69 157.11 L450.19 157.09 L450.69 157.07 L451.19 157.05 L451.69 157.02 L452.19 157 L452.69 156.99 L453.19 156.97 L453.69 156.96 L454.19 156.95 L454.69 156.94 L455.19 156.94 L455.69 156.94 L456.19 156.95 L456.69 156.96 L457.19 156.98 L457.69 157 L458.19 157.03 L458.69 157.07 L459.19 157.11 L459.69 157.16 L460.19 157.22 L460.69 157.29 L461.19 157.36 L461.69 157.44 L462.19 157.52 L462.7 157.6 L463.2 157.67 L463.7 157.75 L464.2 157.82 L464.7 157.88 L465.2 157.93 L465.7 157.98 L466.2 158.01 L466.7 158.03 L467.2 158.04 L467.7 158.04 L468.2 158.03 L468.7 158.01 L469.2 157.99 L469.7 157.96 L470.2 157.92 L470.7 157.88 L471.2 157.84 L471.7 157.8" fill="none" stroke="#f59a5a" stroke-width="1.4" stroke-linejoin="round" />
<path d="M282.6 188.3 L283.1 188.29 L283.6 188.29 L284.1 188.28 L284.6 188.28 L285.1 188.27 L285.6 188.26 L286.1 188.25 L286.6 188.24 L287.1 188.22 L287.6 188.21 L288.1 188.19 L288.6 188.17 L289.1 188.15 L289.6 188.12 L290.1 188.09 L290.6 188.06 L291.1 188.03 L291.6 188 L292.11 187.96 L292.61 187.93 L293.11 187.91 L293.61 187.89 L294.11 187.87 L294.61 187.86 L295.11 187.87 L295.61 187.88 L296.11 187.91 L296.61 187.94 L297.11 187.99 L297.61 188.03 L298.11 188.08 L298.61 188.12 L299.11 188.14 L299.61 188.16 L300.11 188.15 L300.61 188.11 L301.11 188.04 L301.61 187.94 L302.11 187.8 L302.61 187.62 L303.11 187.38 L303.61 187.1 L304.11 186.77 L304.61 186.4 L305.11 185.97 L305.61 185.49 L306.11 184.96 L306.61 184.39 L307.11 183.79 L307.61 183.16 L308.11 182.51 L308.61 181.85 L309.11 181.19 L309.61 180.53 L310.11 179.87 L310.61 179.21 L311.12 178.57 L311.62 177.93 L312.12 177.32 L312.62 176.72 L313.12 176.14 L313.62 175.58 L314.12 175.05 L314.62 174.55 L315.12 174.08 L315.62 173.63 L316.12 173.2 L316.62 172.79 L317.12 172.41 L317.62 172.05 L318.12 171.71 L318.62 171.4 L319.12 171.1 L319.62 170.83 L320.12 170.58 L320.62 170.35 L321.12 170.14 L321.62 169.95 L322.12 169.78 L322.62 169.63 L323.12 169.49 L323.62 169.37 L324.12 169.26 L324.62 169.17 L325.12 169.09 L325.62 169.04 L326.12 169.01 L326.62 169 L327.12 169.02 L327.62 169.07 L328.12 169.14 L328.62 169.25 L329.12 169.38 L329.62 169.54 L330.13 169.74 L330.63 169.99 L331.13 170.29 L331.63 170.67 L332.13 171.12 L332.63 171.67 L333.13 172.28 L333.63 172.93 L334.13 173.6 L334.63 174.27 L335.13 174.94 L335.63 175.61 L336.13 176.29 L336.63 176.98 L337.13 177.68 L337.63 178.41 L338.13 179.16 L338.63 179.91 L339.13 180.67 L339.63 181.44 L340.13 182.2 L340.63 182.95 L341.13 183.66 L341.63 184.31 L342.13 184.87 L342.63 185.33 L343.13 185.64 L343.63 185.81 L344.13 185.79 L344.63 185.64 L345.13 185.39 L345.63 185.08 L346.13 184.74 L346.63 184.42 L347.13 184.14 L347.63 183.9 L348.13 183.71 L348.63 183.57 L349.14 183.46 L349.64 183.41 L350.14 183.4 L350.64 183.44 L351.14 183.51 L351.64 183.63 L352.14 183.77 L352.64 183.94 L353.14 184.13 L353.64 184.34 L354.14 184.56 L354.64 184.79 L355.14 185.02 L355.64 185.26 L356.14 185.49 L356.64 185.71 L357.14 185.92 L357.64 186.11 L358.14 186.29 L358.64 186.44 L359.14 186.57 L359.64 186.67 L360.14 186.76 L360.64 186.82 L361.14 186.88 L361.64 186.91 L362.14 186.94 L362.64 186.96 L363.14 186.98 L363.64 186.99 L364.14 187 L364.64 187.02 L365.14 187.03 L365.64 187.05 L366.14 187.06 L366.64 187.07 L367.14 187.08 L367.64 187.09 L368.15 187.1 L368.65 187.1 L369.15 187.1 L369.65 187.1 L370.15 187.09 L370.65 187.08 L371.15 187.06 L371.65 187.03 L372.15 187.01 L372.65 186.97 L373.15 186.93 L373.65 186.89 L374.15 186.83 L374.65 186.78 L375.15 186.72 L375.65 186.65 L376.15 186.58 L376.65 186.5 L377.15 186.42 L377.65 186.34 L378.15 186.25 L378.65 186.17 L379.15 186.09 L379.65 186.02 L380.15 185.96 L380.65 185.9 L381.15 185.86 L381.65 185.82 L382.15 185.8 L382.65 185.8 L383.15 185.81 L383.65 185.84 L384.15 185.89 L384.65 185.94 L385.15 186.01 L385.65 186.09 L386.15 186.17 L386.66 186.26 L387.16 186.35 L387.66 186.44 L388.16 186.53 L388.66 186.61 L389.16 186.7 L389.66 186.77 L390.16 186.84 L390.66 186.9 L391.16 186.95 L391.66 186.98 L392.16 187.01 L392.66 187.01 L393.16 187.01 L393.66 186.99 L394.16 186.97 L394.66 186.93 L395.16 186.9 L395.66 186.85 L396.16 186.8 L396.66 186.75 L397.16 186.7 L397.66 186.66 L398.16 186.61 L398.66 186.57 L399.16 186.54 L399.66 186.51 L400.16 186.5 L400.66 186.49 L401.16 186.49 L401.66 186.5 L402.16 186.52 L402.66 186.55 L403.16 186.58 L403.66 186.62 L404.16 186.67 L404.66 186.72 L405.16 186.77 L405.67 186.82 L406.17 186.88 L406.67 186.94 L407.17 187 L407.67 187.05 L408.17 187.11 L408.67 187.17 L409.17 187.22 L409.67 187.27 L410.17 187.31 L410.67 187.36 L411.17 187.39 L411.67 187.42 L412.17 187.45 L412.67 187.48 L413.17 187.5 L413.67 187.52 L414.17 187.53 L414.67 187.54 L415.17 187.55 L415.67 187.55 L416.17 187.56 L416.67 187.56 L417.17 187.55 L417.67 187.55 L418.17 187.54 L418.67 187.53 L419.17 187.52 L419.67 187.51 L420.17 187.5 L420.67 187.48 L421.17 187.46 L421.67 187.45 L422.17 187.43 L422.67 187.41 L423.17 187.39 L423.67 187.37 L424.17 187.35 L424.68 187.33 L425.18 187.3 L425.68 187.28 L426.18 187.26 L426.68 187.24 L427.18 187.22 L427.68 187.19 L428.18 187.17 L428.68 187.15 L429.18 187.13 L429.68 187.11 L430.18 187.09 L430.68 187.08 L431.18 187.06 L431.68 187.04 L432.18 187.03 L432.68 187.02 L433.18 187 L433.68 186.99 L434.18 186.98 L434.68 186.98 L435.18 186.97 L435.68 186.96 L436.18 186.96 L436.68 186.96 L437.18 186.96 L437.68 186.96 L438.18 186.97 L438.68 186.97 L439.18 186.98 L439.68 186.99 L440.18 187 L440.68 187.02 L441.18 187.04 L441.68 187.06 L442.18 187.08 L442.68 187.1 L443.18 187.12 L443.69 187.15 L444.19 187.17 L444.69 187.2 L445.19 187.23 L445.69 187.26 L446.19 187.28 L446.69 187.31 L447.19 187.34 L447.69 187.37 L448.19 187.4 L448.69 187.43 L449.19 187.46 L449.69 187.48 L450.19 187.51 L450.69 187.54 L451.19 187.56 L451.69 187.58 L452.19 187.6 L452.69 187.63 L453.19 187.65 L453.69 187.67 L454.19 187.68 L454.69 187.7 L455.19 187.72 L455.69 187.73 L456.19 187.74 L456.69 187.75 L457.19 187.76 L457.69 187.77 L458.19 187.78 L458.69 187.79 L459.19 187.79 L459.69 187.8 L460.19 187.8 L460.69 187.8 L461.19 187.8 L461.69 187.8 L462.19 187.8 L462.7 187.79 L463.2 187.79 L463.7 187.78 L464.2 187.78 L464.7 187.77 L465.2 187.76 L465.7 187.75 L466.2 187.74 L466.7 187.73 L467.2 187.72 L467.7 187.71 L468.2 187.69 L468.7 187.68 L469.2 187.67 L469.7 187.66 L470.2 187.64 L470.7 187.63 L471.2 187.61 L471.7 187.6" fill="none" stroke="#e8262c" stroke-width="1.4" stroke-linejoin="round" />
<path d="M282.6 219.5 L283.1 219.48 L283.6 219.46 L284.1 219.44 L284.6 219.42 L285.1 219.4 L285.6 219.38 L286.1 219.37 L286.6 219.35 L287.1 219.33 L287.6 219.31 L288.1 219.3 L288.6 219.28 L289.1 219.26 L289.6 219.25 L290.1 219.23 L290.6 219.2 L291.1 219.18 L291.6 219.15 L292.11 219.11 L292.61 219.06 L293.11 219.01 L293.61 218.95 L294.11 218.88 L294.61 218.8 L295.11 218.71 L295.61 218.59 L296.11 218.44 L296.61 218.27 L297.11 218.05 L297.61 217.79 L298.11 217.5 L298.61 217.18 L299.11 216.84 L299.61 216.49 L300.11 216.12 L300.61 215.75 L301.11 215.39 L301.61 215.04 L302.11 214.71 L302.61 214.41 L303.11 214.14 L303.61 213.92 L304.11 213.73 L304.61 213.58 L305.11 213.46 L305.61 213.37 L306.11 213.31 L306.61 213.27 L307.11 213.25 L307.61 213.27 L308.11 213.31 L308.61 213.39 L309.11 213.5 L309.61 213.65 L310.11 213.85 L310.61 214.08 L311.12 214.34 L311.62 214.59 L312.12 214.82 L312.62 215.02 L313.12 215.15 L313.62 215.2 L314.12 215.15 L314.62 214.96 L315.12 214.61 L315.62 214.05 L316.12 213.28 L316.62 212.36 L317.12 211.34 L317.62 210.29 L318.12 209.26 L318.62 208.3 L319.12 207.39 L319.62 206.55 L320.12 205.76 L320.62 205.03 L321.12 204.34 L321.62 203.69 L322.12 203.09 L322.62 202.54 L323.12 202.04 L323.62 201.6 L324.12 201.21 L324.62 200.89 L325.12 200.62 L325.62 200.42 L326.12 200.28 L326.62 200.21 L327.12 200.2 L327.62 200.26 L328.12 200.39 L328.62 200.59 L329.12 200.86 L329.62 201.2 L330.13 201.61 L330.63 202.09 L331.13 202.63 L331.63 203.22 L332.13 203.85 L332.63 204.5 L333.13 205.17 L333.63 205.84 L334.13 206.52 L334.63 207.2 L335.13 207.88 L335.63 208.56 L336.13 209.24 L336.63 209.91 L337.13 210.57 L337.63 211.23 L338.13 211.88 L338.63 212.52 L339.13 213.17 L339.63 213.8 L340.13 214.41 L340.63 215 L341.13 215.54 L341.63 216.03 L342.13 216.48 L342.63 216.89 L343.13 217.25 L343.63 217.58 L344.13 217.87 L344.63 218.13 L345.13 218.36 L345.63 218.55 L346.13 218.7 L346.63 218.81 L347.13 218.89 L347.63 218.92 L348.13 218.91 L348.63 218.85 L349.14 218.76 L349.64 218.63 L350.14 218.45 L350.64 218.24 L351.14 217.99 L351.64 217.71 L352.14 217.4 L352.64 217.09 L353.14 216.76 L353.64 216.43 L354.14 216.11 L354.64 215.81 L355.14 215.51 L355.64 215.22 L356.14 214.95 L356.64 214.68 L357.14 214.42 L357.64 214.18 L358.14 213.93 L358.64 213.7 L359.14 213.48 L359.64 213.27 L360.14 213.08 L360.64 212.92 L361.14 212.78 L361.64 212.68 L362.14 212.61 L362.64 212.57 L363.14 212.58 L363.64 212.62 L364.14 212.7 L364.64 212.8 L365.14 212.93 L365.64 213.08 L366.14 213.25 L366.64 213.44 L367.14 213.65 L367.64 213.86 L368.15 214.07 L368.65 214.28 L369.15 214.48 L369.65 214.68 L370.15 214.85 L370.65 215 L371.15 215.13 L371.65 215.25 L372.15 215.35 L372.65 215.43 L373.15 215.51 L373.65 215.57 L374.15 215.62 L374.65 215.66 L375.15 215.69 L375.65 215.72 L376.15 215.75 L376.65 215.77 L377.15 215.8 L377.65 215.84 L378.15 215.89 L378.65 215.95 L379.15 216.02 L379.65 216.12 L380.15 216.24 L380.65 216.38 L381.15 216.54 L381.65 216.71 L382.15 216.88 L382.65 217.05 L383.15 217.21 L383.65 217.36 L384.15 217.48 L384.65 217.58 L385.15 217.64 L385.65 217.67 L386.15 217.65 L386.66 217.57 L387.16 217.44 L387.66 217.27 L388.16 217.07 L388.66 216.84 L389.16 216.6 L389.66 216.36 L390.16 216.13 L390.66 215.91 L391.16 215.72 L391.66 215.55 L392.16 215.4 L392.66 215.3 L393.16 215.22 L393.66 215.19 L394.16 215.21 L394.66 215.27 L395.16 215.37 L395.66 215.5 L396.16 215.65 L396.66 215.82 L397.16 216 L397.66 216.18 L398.16 216.35 L398.66 216.52 L399.16 216.67 L399.66 216.81 L400.16 216.95 L400.66 217.07 L401.16 217.2 L401.66 217.31 L402.16 217.42 L402.66 217.53 L403.16 217.63 L403.66 217.73 L404.16 217.83 L404.66 217.93 L405.16 218.03 L405.67 218.13 L406.17 218.22 L406.67 218.31 L407.17 218.39 L407.67 218.47 L408.17 218.55 L408.67 218.62 L409.17 218.68 L409.67 218.73 L410.17 218.78 L410.67 218.81 L411.17 218.84 L411.67 218.85 L412.17 218.86 L412.67 218.87 L413.17 218.86 L413.67 218.85 L414.17 218.84 L414.67 218.82 L415.17 218.8 L415.67 218.78 L416.17 218.75 L416.67 218.73 L417.17 218.7 L417.67 218.68 L418.17 218.66 L418.67 218.64 L419.17 218.62 L419.67 218.61 L420.17 218.6 L420.67 218.59 L421.17 218.6 L421.67 218.6 L422.17 218.61 L422.67 218.63 L423.17 218.64 L423.67 218.66 L424.17 218.68 L424.68 218.7 L425.18 218.72 L425.68 218.75 L426.18 218.77 L426.68 218.79 L427.18 218.82 L427.68 218.84 L428.18 218.85 L428.68 218.87 L429.18 218.88 L429.68 218.9 L430.18 218.9 L430.68 218.9 L431.18 218.9 L431.68 218.9 L432.18 218.89 L432.68 218.88 L433.18 218.87 L433.68 218.86 L434.18 218.85 L434.68 218.83 L435.18 218.81 L435.68 218.8 L436.18 218.78 L436.68 218.77 L437.18 218.75 L437.68 218.74 L438.18 218.73 L438.68 218.72 L439.18 218.71 L439.68 218.7 L440.18 218.7 L440.68 218.7 L441.18 218.7 L441.68 218.71 L442.18 218.72 L442.68 218.73 L443.18 218.74 L443.69 218.76 L444.19 218.77 L444.69 218.79 L445.19 218.81 L445.69 218.83 L446.19 218.85 L446.69 218.87 L447.19 218.89 L447.69 218.91 L448.19 218.93 L448.69 218.95 L449.19 218.97 L449.69 218.99 L450.19 219.01 L450.69 219.02 L451.19 219.04 L451.69 219.05 L452.19 219.07 L452.69 219.08 L453.19 219.09 L453.69 219.1 L454.19 219.11 L454.69 219.12 L455.19 219.13 L455.69 219.14 L456.19 219.15 L456.69 219.15 L457.19 219.16 L457.69 219.17 L458.19 219.17 L458.69 219.18 L459.19 219.19 L459.69 219.2 L460.19 219.2 L460.69 219.21 L461.19 219.22 L461.69 219.23 L462.19 219.23 L462.7 219.24 L463.2 219.25 L463.7 219.26 L464.2 219.27 L464.7 219.27 L465.2 219.28 L465.7 219.29 L466.2 219.3 L466.7 219.31 L467.2 219.32 L467.7 219.33 L468.2 219.34 L468.7 219.34 L469.2 219.35 L469.7 219.36 L470.2 219.37 L470.7 219.38 L471.2 219.39 L471.7 219.4" fill="none" stroke="#c4a21a" stroke-width="1.4" stroke-linejoin="round" />
<path d="M282.6 247.6 L283.1 247.7 L283.6 247.81 L284.1 247.93 L284.6 248.07 L285.11 248.24 L285.61 248.43 L286.11 248.61 L286.61 248.75 L287.11 248.82 L287.61 248.78 L288.11 248.63 L288.61 248.39 L289.11 248.08 L289.61 247.75 L290.12 247.43 L290.62 247.14 L291.12 246.91 L291.62 246.74 L292.12 246.63 L292.62 246.59 L293.12 246.61 L293.62 246.7 L294.12 246.84 L294.63 247.02 L295.13 247.23 L295.63 247.46 L296.13 247.69 L296.63 247.91 L297.13 248.08 L297.63 248.18 L298.13 248.19 L298.63 248.1 L299.13 247.93 L299.64 247.72 L300.14 247.47 L300.64 247.24 L301.14 247.01 L301.64 246.8 L302.14 246.57 L302.64 246.33 L303.14 246.06 L303.64 245.77 L304.15 245.48 L304.65 245.19 L305.15 244.92 L305.65 244.68 L306.15 244.48 L306.65 244.35 L307.15 244.3 L307.65 244.35 L308.15 244.48 L308.66 244.69 L309.16 244.97 L309.66 245.31 L310.16 245.69 L310.66 246.1 L311.16 246.52 L311.66 246.93 L312.16 247.31 L312.66 247.63 L313.16 247.83 L313.67 247.9 L314.17 247.8 L314.67 247.57 L315.17 247.25 L315.67 246.87 L316.17 246.45 L316.67 246.02 L317.17 245.58 L317.67 245.15 L318.18 244.74 L318.68 244.38 L319.18 244.08 L319.68 243.88 L320.18 243.8 L320.68 243.85 L321.18 244 L321.68 244.22 L322.18 244.46 L322.68 244.68 L323.19 244.84 L323.69 244.96 L324.19 245.01 L324.69 244.98 L325.19 244.89 L325.69 244.72 L326.19 244.48 L326.69 244.18 L327.19 243.82 L327.7 243.42 L328.2 242.99 L328.7 242.56 L329.2 242.13 L329.7 241.73 L330.2 241.36 L330.7 241.03 L331.2 240.76 L331.7 240.55 L332.2 240.42 L332.71 240.36 L333.21 240.39 L333.71 240.5 L334.21 240.67 L334.71 240.9 L335.21 241.19 L335.71 241.53 L336.21 241.92 L336.71 242.34 L337.22 242.8 L337.72 243.29 L338.22 243.8 L338.72 244.32 L339.22 244.83 L339.72 245.33 L340.22 245.81 L340.72 246.25 L341.22 246.66 L341.72 247.02 L342.23 247.34 L342.73 247.59 L343.23 247.78 L343.73 247.9 L344.23 247.93 L344.73 247.85 L345.23 247.69 L345.73 247.45 L346.23 247.14 L346.74 246.79 L347.24 246.42 L347.74 246.04 L348.24 245.64 L348.74 245.25 L349.24 244.86 L349.74 244.49 L350.24 244.13 L350.74 243.79 L351.24 243.47 L351.75 243.16 L352.25 242.86 L352.75 242.57 L353.25 242.28 L353.75 242 L354.25 241.72 L354.75 241.43 L355.25 241.13 L355.75 240.82 L356.26 240.48 L356.76 240.12 L357.26 239.7 L357.76 239.24 L358.26 238.72 L358.76 238.13 L359.26 237.47 L359.76 236.74 L360.26 235.92 L360.77 235.01 L361.27 234.03 L361.77 233.01 L362.27 231.97 L362.77 230.95 L363.27 229.98 L363.77 229.09 L364.27 228.3 L364.77 227.63 L365.27 227.12 L365.78 226.77 L366.28 226.61 L366.78 226.64 L367.28 226.87 L367.78 227.27 L368.28 227.83 L368.78 228.54 L369.28 229.39 L369.78 230.35 L370.29 231.42 L370.79 232.58 L371.29 233.78 L371.79 234.99 L372.29 236.18 L372.79 237.33 L373.29 238.44 L373.79 239.52 L374.29 240.57 L374.79 241.6 L375.3 242.59 L375.8 243.52 L376.3 244.39 L376.8 245.16 L377.3 245.82 L377.8 246.37 L378.3 246.82 L378.8 247.18 L379.3 247.47 L379.81 247.72 L380.31 247.92 L380.81 248.11 L381.31 248.27 L381.81 248.41 L382.31 248.54 L382.81 248.66 L383.31 248.77 L383.81 248.87 L384.31 248.95 L384.82 249.02 L385.32 249.05 L385.82 249.06 L386.32 249.02 L386.82 248.94 L387.32 248.83 L387.82 248.68 L388.32 248.52 L388.82 248.35 L389.33 248.19 L389.83 248.04 L390.33 247.93 L390.83 247.84 L391.33 247.76 L391.83 247.69 L392.33 247.62 L392.83 247.53 L393.33 247.42 L393.83 247.29 L394.34 247.13 L394.84 246.96 L395.34 246.79 L395.84 246.62 L396.34 246.45 L396.84 246.3 L397.34 246.15 L397.84 246.03 L398.34 245.92 L398.85 245.82 L399.35 245.74 L399.85 245.67 L400.35 245.62 L400.85 245.58 L401.35 245.54 L401.85 245.52 L402.35 245.5 L402.85 245.48 L403.36 245.46 L403.86 245.45 L404.36 245.43 L404.86 245.41 L405.36 245.39 L405.86 245.37 L406.36 245.34 L406.86 245.31 L407.36 245.27 L407.86 245.23 L408.37 245.19 L408.87 245.14 L409.37 245.09 L409.87 245.03 L410.37 244.98 L410.87 244.92 L411.37 244.87 L411.87 244.81 L412.37 244.76 L412.88 244.71 L413.38 244.66 L413.88 244.61 L414.38 244.56 L414.88 244.51 L415.38 244.46 L415.88 244.41 L416.38 244.36 L416.88 244.31 L417.38 244.26 L417.89 244.22 L418.39 244.18 L418.89 244.15 L419.39 244.12 L419.89 244.1 L420.39 244.1 L420.89 244.1 L421.39 244.12 L421.89 244.15 L422.4 244.18 L422.9 244.22 L423.4 244.27 L423.9 244.31 L424.4 244.35 L424.9 244.39 L425.4 244.43 L425.9 244.45 L426.4 244.47 L426.9 244.49 L427.41 244.51 L427.91 244.52 L428.41 244.53 L428.91 244.55 L429.41 244.57 L429.91 244.6 L430.41 244.62 L430.91 244.66 L431.41 244.7 L431.92 244.75 L432.42 244.8 L432.92 244.87 L433.42 244.93 L433.92 245.01 L434.42 245.09 L434.92 245.19 L435.42 245.28 L435.92 245.39 L436.42 245.5 L436.93 245.63 L437.43 245.75 L437.93 245.89 L438.43 246.03 L438.93 246.17 L439.43 246.32 L439.93 246.48 L440.43 246.64 L440.93 246.8 L441.44 246.96 L441.94 247.11 L442.44 247.24 L442.94 247.37 L443.44 247.47 L443.94 247.55 L444.44 247.6 L444.94 247.62 L445.44 247.6 L445.94 247.55 L446.45 247.46 L446.95 247.33 L447.45 247.18 L447.95 247.01 L448.45 246.82 L448.95 246.62 L449.45 246.41 L449.95 246.2 L450.45 245.98 L450.96 245.77 L451.46 245.57 L451.96 245.37 L452.46 245.18 L452.96 245.01 L453.46 244.86 L453.96 244.73 L454.46 244.62 L454.96 244.53 L455.47 244.46 L455.97 244.42 L456.47 244.41 L456.97 244.42 L457.47 244.46 L457.97 244.53 L458.47 244.62 L458.97 244.75 L459.47 244.89 L459.97 245.05 L460.48 245.22 L460.98 245.41 L461.48 245.6 L461.98 245.79 L462.48 245.98 L462.98 246.18 L463.48 246.37 L463.98 246.55 L464.48 246.74 L464.99 246.92 L465.49 247.09 L465.99 247.27 L466.49 247.43 L466.99 247.6 L467.49 247.75 L467.99 247.9 L468.49 248.05 L468.99 248.19 L469.49 248.33 L470 248.47 L470.5 248.61 L471 248.74 L471.5 248.87 L472 249" fill="none" stroke="#4a9e6e" stroke-width="1.4" stroke-linejoin="round" />
<line x1="351.7" y1="12.3" x2="351.7" y2="28" stroke="#222" stroke-width="1.5" stroke-dasharray="2 3"/>
<path d="M320.2 246 L320.2 47.6 L335.4 47.6 L335.4 246 Z" fill="none" stroke="#f0188c" stroke-width="1.5" stroke-dasharray="2 3"/>
<path d="M344.5 188.3 L344.5 143.5 L359.8 143.5 L359.8 188.3 Z" fill="none" stroke="#111" stroke-width="1.5" stroke-dasharray="2 3"/>
<line x1="282.3" y1="40.26" x2="471.7" y2="40.26" stroke="#000" stroke-width="1.4" />
<line x1="282.3" y1="70.62" x2="471.7" y2="70.62" stroke="#000" stroke-width="1.4" />
<line x1="282.3" y1="100.99" x2="471.7" y2="100.99" stroke="#000" stroke-width="1.4" />
<line x1="282.3" y1="131.35" x2="471.7" y2="131.35" stroke="#000" stroke-width="1.4" />
<line x1="282.3" y1="161.71" x2="471.7" y2="161.71" stroke="#000" stroke-width="1.4" />
<line x1="282.3" y1="192.08" x2="471.7" y2="192.08" stroke="#000" stroke-width="1.4" />
<line x1="282.3" y1="222.44" x2="471.7" y2="222.44" stroke="#000" stroke-width="1.4" />
<rect x="282.3" y="9.9" width="189.4" height="242.9" stroke="#000" stroke-width="1.4" fill="none" />
<text x="368.2" y="21.9" font-size="12.1" fill="#222" >Fe-Fe</text>
<text x="429.4" y="21.9" font-size="12.1" fill="#222" >Fe foil</text>
<text x="431.3" y="52" font-size="12.2" fill="#9e2a2a" >FeNC</text>
<text x="342.8" y="54.6" font-size="12.5" fill="#f0188c" >Fe-N/O</text>
<text x="424" y="82.5" font-size="12.5" fill="#9a2cf0" >FeNSiC</text>
<text x="432.5" y="112" font-size="12.5" fill="#4a8fd6" >Fe<tspan dy="3.75" font-size="7.62">2</tspan><tspan dy="-3.75">O</tspan><tspan dy="3.75" font-size="7.62">3</tspan></text>
<text x="423.5" y="145.1" font-size="12.5" fill="#f27a3a" >Fe<tspan dy="3.75" font-size="7.62">2</tspan><tspan dy="-3.75">SiO</tspan><tspan dy="3.75" font-size="7.62">4</tspan></text>
<text x="362" y="146.3" font-size="12.5" fill="#111" >Fe-(O)-Si</text>
<text x="398.4" y="175.3" font-size="12.1" fill="#ee1c25" >SiO<tspan dy="3.63" font-size="7.38">2</tspan><tspan dy="-3.63">/FeNSiC</tspan></text>
<text x="435.4" y="205.1" font-size="12.5" fill="#c4a21a" >FePc</text>
<text x="438.1" y="233.6" font-size="12.5" fill="#3f9a62" >FeO</text>
<line x1="50.7" y1="497.6" x2="50.7" y2="503.1" stroke="#000" stroke-width="1.4" />
<text x="50.7" y="516.7" font-size="12.5" fill="#000" text-anchor="middle" >0</text>
<line x1="65.48" y1="497.6" x2="65.48" y2="500.6" stroke="#000" stroke-width="1.4" />
<line x1="80.25" y1="497.6" x2="80.25" y2="503.1" stroke="#000" stroke-width="1.4" />
<text x="80.25" y="516.7" font-size="12.5" fill="#000" text-anchor="middle" >1</text>
<line x1="95.03" y1="497.6" x2="95.03" y2="500.6" stroke="#000" stroke-width="1.4" />
<line x1="109.8" y1="497.6" x2="109.8" y2="503.1" stroke="#000" stroke-width="1.4" />
<text x="109.8" y="516.7" font-size="12.5" fill="#000" text-anchor="middle" >2</text>
<line x1="124.58" y1="497.6" x2="124.58" y2="500.6" stroke="#000" stroke-width="1.4" />
<line x1="139.35" y1="497.6" x2="139.35" y2="503.1" stroke="#000" stroke-width="1.4" />
<text x="139.35" y="516.7" font-size="12.5" fill="#000" text-anchor="middle" >3</text>
<line x1="154.12" y1="497.6" x2="154.12" y2="500.6" stroke="#000" stroke-width="1.4" />
<line x1="168.9" y1="497.6" x2="168.9" y2="503.1" stroke="#000" stroke-width="1.4" />
<text x="168.9" y="516.7" font-size="12.5" fill="#000" text-anchor="middle" >4</text>
<line x1="183.68" y1="497.6" x2="183.68" y2="500.6" stroke="#000" stroke-width="1.4" />
<line x1="198.45" y1="497.6" x2="198.45" y2="503.1" stroke="#000" stroke-width="1.4" />
<text x="198.45" y="516.7" font-size="12.5" fill="#000" text-anchor="middle" >5</text>
<line x1="213.23" y1="497.6" x2="213.23" y2="500.6" stroke="#000" stroke-width="1.4" />
<line x1="228" y1="497.6" x2="228" y2="503.1" stroke="#000" stroke-width="1.4" />
<text x="228" y="516.7" font-size="12.5" fill="#000" text-anchor="middle" >6</text>
<line x1="47.6" y1="494.8" x2="42.1" y2="494.8" stroke="#000" stroke-width="1.4" />
<text x="39.6" y="499.2" font-size="12.5" fill="#000" text-anchor="end" >0</text>
<line x1="47.6" y1="476.57" x2="44.6" y2="476.57" stroke="#000" stroke-width="1.4" />
<line x1="47.6" y1="458.35" x2="42.1" y2="458.35" stroke="#000" stroke-width="1.4" />
<text x="39.6" y="462.75" font-size="12.5" fill="#000" text-anchor="end" >1</text>
<line x1="47.6" y1="440.12" x2="44.6" y2="440.12" stroke="#000" stroke-width="1.4" />
<line x1="47.6" y1="421.9" x2="42.1" y2="421.9" stroke="#000" stroke-width="1.4" />
<text x="39.6" y="426.3" font-size="12.5" fill="#000" text-anchor="end" >2</text>
<line x1="47.6" y1="403.68" x2="44.6" y2="403.68" stroke="#000" stroke-width="1.4" />
<line x1="47.6" y1="385.45" x2="42.1" y2="385.45" stroke="#000" stroke-width="1.4" />
<text x="39.6" y="389.85" font-size="12.5" fill="#000" text-anchor="end" >3</text>
<line x1="47.6" y1="367.23" x2="44.6" y2="367.23" stroke="#000" stroke-width="1.4" />
<line x1="47.6" y1="349" x2="42.1" y2="349" stroke="#000" stroke-width="1.4" />
<text x="39.6" y="353.4" font-size="12.5" fill="#000" text-anchor="end" >4</text>
<line x1="47.6" y1="330.77" x2="44.6" y2="330.77" stroke="#000" stroke-width="1.4" />
<line x1="47.6" y1="312.55" x2="42.1" y2="312.55" stroke="#000" stroke-width="1.4" />
<text x="39.6" y="316.95" font-size="12.5" fill="#000" text-anchor="end" >5</text>
<text x="138.15" y="529.8" font-size="15.2" fill="#000" text-anchor="middle" >R (Å)</text>
<text x="22.8" y="405.25" font-size="15.0" fill="#000" text-anchor="middle" transform="rotate(-90 22.8 405.25)" >|FT (k<tspan dy="-5.70" font-size="9.90">3</tspan><tspan dy="5.70"> χ(k))| (arb. units)</tspan></text>
<text x="1.8" y="301.6" font-size="17" fill="#000" >c</text>
<defs><clipPath id="clipC"><rect x="47" y="312.6" width="181.3" height="184.8"/></clipPath></defs>
<g clip-path="url(#clipC)">
<path d="M48.5 495 L49 494.99 L49.5 494.99 L50 494.98 L50.5 494.97 L51 494.97 L51.5 494.96 L52 494.95 L52.5 494.95 L53 494.94 L53.5 494.94 L54 494.93 L54.5 494.93 L55 494.92 L55.5 494.92 L56 494.91 L56.5 494.91 L57 494.91 L57.5 494.9 L58 494.9 L58.5 494.9 L59 494.9 L59.5 494.9 L60 494.9 L60.5 494.9 L61 494.9 L61.5 494.9 L62 494.91 L62.5 494.91 L63 494.91 L63.5 494.91 L64 494.91 L64.5 494.91 L65 494.91 L65.5 494.91 L66 494.9 L66.5 494.9 L67 494.89 L67.5 494.88 L68 494.87 L68.5 494.86 L69 494.84 L69.5 494.82 L70 494.8 L70.5 494.78 L71 494.75 L71.5 494.72 L72 494.69 L72.5 494.65 L73 494.61 L73.5 494.57 L74 494.53 L74.5 494.48 L75 494.43 L75.5 494.38 L76 494.33 L76.5 494.28 L77 494.22 L77.5 494.16 L78 494.1 L78.5 494.04 L79 493.97 L79.5 493.91 L80 493.84 L80.5 493.77 L81 493.7 L81.5 493.63 L82 493.56 L82.5 493.49 L83 493.41 L83.5 493.33 L84 493.26 L84.5 493.17 L85 493.09 L85.5 493.01 L86 492.92 L86.5 492.83 L87 492.73 L87.5 492.63 L88 492.53 L88.5 492.42 L89 492.31 L89.5 492.19 L90 492.06 L90.5 491.94 L91 491.8 L91.5 491.66 L92 491.51 L92.5 491.36 L93 491.19 L93.5 491.03 L94 490.85 L94.5 490.68 L95 490.49 L95.5 490.3 L96 490.11 L96.5 489.91 L97 489.71 L97.5 489.51 L98 489.3 L98.5 489.09 L99 488.87 L99.5 488.65 L100 488.43 L100.5 488.2 L101 487.97 L101.5 487.73 L102 487.49 L102.5 487.24 L103 486.98 L103.5 486.72 L104 486.45 L104.5 486.17 L105 485.88 L105.5 485.59 L106 485.26 L106.5 484.91 L107 484.5 L107.5 484.04 L108 483.5 L108.5 482.89 L109 482.23 L109.5 481.55 L110 480.89 L110.5 480.28 L111 479.74 L111.5 479.28 L112 478.88 L112.5 478.56 L113 478.3 L113.5 478.11 L114 477.97 L114.5 477.86 L115 477.77 L115.5 477.69 L116 477.6 L116.5 477.49 L117 477.37 L117.5 477.26 L118 477.18 L118.5 477.16 L119 477.2 L119.5 477.33 L120 477.53 L120.5 477.8 L121 478.13 L121.5 478.5 L122 478.91 L122.5 479.35 L123 479.81 L123.5 480.29 L124 480.78 L124.5 481.29 L125 481.8 L125.5 482.3 L126 482.8 L126.5 483.29 L127 483.77 L127.5 484.23 L128 484.68 L128.5 485.1 L129 485.5 L129.5 485.87 L130 486.23 L130.5 486.55 L131 486.86 L131.5 487.16 L132 487.43 L132.5 487.7 L133 487.95 L133.5 488.19 L134 488.43 L134.5 488.66 L135 488.88 L135.5 489.09 L136 489.29 L136.5 489.48 L137 489.66 L137.5 489.83 L138 490 L138.5 490.16 L139 490.3 L139.5 490.44 L140 490.58 L140.5 490.7 L141 490.82 L141.5 490.93 L142 491.04 L142.5 491.14 L143 491.24 L143.5 491.34 L144 491.43 L144.5 491.52 L145 491.6 L145.5 491.68 L146 491.76 L146.5 491.84 L147 491.92 L147.5 491.99 L148 492.07 L148.5 492.14 L149 492.21 L149.5 492.28 L150 492.35 L150.5 492.41 L151 492.48 L151.5 492.54 L152 492.6 L152.5 492.66 L153 492.72 L153.5 492.78 L154 492.83 L154.5 492.89 L155 492.94 L155.5 493 L156 493.05 L156.5 493.1 L157 493.14 L157.5 493.19 L158 493.24 L158.5 493.28 L159 493.32 L159.5 493.36 L160 493.4 L160.5 493.44 L161 493.47 L161.5 493.51 L162 493.54 L162.5 493.57 L163 493.6 L163.5 493.63 L164 493.65 L164.5 493.68 L165 493.7 L165.5 493.72 L166 493.75 L166.5 493.77 L167 493.79 L167.5 493.81 L168 493.82 L168.5 493.84 L169 493.86 L169.5 493.87 L170 493.89 L170.5 493.9 L171 493.91 L171.5 493.92 L172 493.94 L172.5 493.95 L173 493.96 L173.5 493.97 L174 493.98 L174.5 493.99 L175 494 L175.5 494.01 L176 494.02 L176.5 494.03 L177 494.04 L177.5 494.05 L178 494.05 L178.5 494.06 L179 494.07 L179.5 494.08 L180 494.09 L180.5 494.09 L181 494.1 L181.5 494.11 L182 494.12 L182.5 494.12 L183 494.13 L183.5 494.14 L184 494.14 L184.5 494.15 L185 494.16 L185.5 494.16 L186 494.17 L186.5 494.17 L187 494.18 L187.5 494.19 L188 494.19 L188.5 494.2 L189 494.2 L189.5 494.21 L190 494.21 L190.5 494.22 L191 494.22 L191.5 494.22 L192 494.23 L192.5 494.23 L193 494.24 L193.5 494.24 L194 494.24 L194.5 494.25 L195 494.25 L195.5 494.25 L196 494.26 L196.5 494.26 L197 494.26 L197.5 494.27 L198 494.27 L198.5 494.27 L199 494.27 L199.5 494.28 L200 494.28 L200.5 494.28 L201 494.28 L201.5 494.29 L202 494.29 L202.5 494.29 L203 494.29 L203.5 494.29 L204 494.29 L204.5 494.3 L205 494.3 L205.5 494.3 L206 494.3 L206.5 494.3 L207 494.3 L207.5 494.3 L208 494.3 L208.5 494.3 L209 494.31 L209.5 494.31 L210 494.31 L210.5 494.31 L211 494.31 L211.5 494.31 L212 494.31 L212.5 494.31 L213 494.31 L213.5 494.31 L214 494.31 L214.5 494.31 L215 494.31 L215.5 494.31 L216 494.31 L216.5 494.31 L217 494.31 L217.5 494.31 L218 494.31 L218.5 494.31 L219 494.31 L219.5 494.31 L220 494.31 L220.5 494.31 L221 494.31 L221.5 494.31 L222 494.31 L222.5 494.31 L223 494.31 L223.5 494.31 L224 494.3 L224.5 494.3 L225 494.3 L225.5 494.3 L226 494.3 L226.5 494.3 L227 494.3 L227.5 494.3 L228 494.3" fill="none" stroke="#c8a01c" stroke-width="1.5" stroke-linejoin="round" />
<path d="M48.5 493.2 L49 493.2 L49.5 493.2 L50 493.2 L50.5 493.19 L51 493.19 L51.5 493.19 L52 493.19 L52.5 493.18 L53 493.18 L53.5 493.17 L54 493.17 L54.5 493.16 L55 493.15 L55.5 493.14 L56 493.13 L56.5 493.12 L57 493.11 L57.5 493.1 L58 493.08 L58.5 493.06 L59 493.04 L59.5 493.02 L60 493 L60.5 492.98 L61 492.95 L61.5 492.92 L62 492.9 L62.5 492.87 L63 492.84 L63.5 492.82 L64 492.8 L64.5 492.78 L65 492.76 L65.5 492.75 L66 492.74 L66.5 492.74 L67 492.74 L67.5 492.75 L68 492.76 L68.5 492.78 L69 492.81 L69.5 492.85 L70 492.9 L70.5 492.95 L71 493.01 L71.5 493.04 L72 493.05 L72.5 493.01 L73 492.91 L73.5 492.75 L74 492.5 L74.5 492.17 L75 491.77 L75.5 491.36 L76 490.97 L76.5 490.64 L77 490.4 L77.5 490.29 L78 490.34 L78.5 490.51 L79 490.79 L79.5 491.12 L80 491.5 L80.5 491.88 L81 492.22 L81.5 492.47 L82 492.59 L82.5 492.54 L83 492.27 L83.5 491.81 L84 491.21 L84.5 490.52 L85 489.79 L85.5 489.06 L86 488.4 L86.5 487.83 L87 487.34 L87.5 486.88 L88 486.43 L88.5 485.94 L89 485.39 L89.5 484.73 L90 483.93 L90.5 482.98 L91 481.91 L91.5 480.78 L92 479.63 L92.5 478.5 L93 477.44 L93.5 476.46 L94 475.59 L94.5 474.85 L95 474.24 L95.5 473.8 L96 473.53 L96.5 473.42 L97 473.48 L97.5 473.68 L98 474.02 L98.5 474.5 L99 475.1 L99.5 475.8 L100 476.58 L100.5 477.43 L101 478.32 L101.5 479.24 L102 480.17 L102.5 481.11 L103 482.04 L103.5 482.96 L104 483.85 L104.5 484.72 L105 485.54 L105.5 486.31 L106 487.02 L106.5 487.66 L107 488.23 L107.5 488.73 L108 489.15 L108.5 489.5 L109 489.78 L109.5 490 L110 490.16 L110.5 490.29 L111 490.39 L111.5 490.49 L112 490.61 L112.5 490.77 L113 490.97 L113.5 491.21 L114 491.47 L114.5 491.74 L115 492.01 L115.5 492.27 L116 492.5 L116.5 492.7 L117 492.86 L117.5 493 L118 493.11 L118.5 493.2 L119 493.28 L119.5 493.34 L120 493.4 L120.5 493.45 L121 493.5 L121.5 493.54 L122 493.58 L122.5 493.62 L123 493.65 L123.5 493.68 L124 493.71 L124.5 493.74 L125 493.76 L125.5 493.78 L126 493.8 L126.5 493.82 L127 493.83 L127.5 493.85 L128 493.86 L128.5 493.87 L129 493.88 L129.5 493.89 L130 493.9 L130.5 493.91 L131 493.92 L131.5 493.93 L132 493.94 L132.5 493.94 L133 493.95 L133.5 493.96 L134 493.97 L134.5 493.97 L135 493.98 L135.5 493.99 L136 493.99 L136.5 494 L137 494 L137.5 494.01 L138 494.01 L138.5 494.02 L139 494.03 L139.5 494.03 L140 494.03 L140.5 494.04 L141 494.04 L141.5 494.05 L142 494.05 L142.5 494.05 L143 494.06 L143.5 494.06 L144 494.07 L144.5 494.07 L145 494.07 L145.5 494.08 L146 494.08 L146.5 494.08 L147 494.08 L147.5 494.09 L148 494.09 L148.5 494.09 L149 494.09 L149.5 494.1 L150 494.1 L150.5 494.1 L151 494.11 L151.5 494.11 L152 494.11 L152.5 494.11 L153 494.11 L153.5 494.12 L154 494.12 L154.5 494.12 L155 494.12 L155.5 494.13 L156 494.13 L156.5 494.13 L157 494.13 L157.5 494.14 L158 494.14 L158.5 494.14 L159 494.14 L159.5 494.14 L160 494.15 L160.5 494.15 L161 494.15 L161.5 494.15 L162 494.15 L162.5 494.16 L163 494.16 L163.5 494.16 L164 494.16 L164.5 494.16 L165 494.17 L165.5 494.17 L166 494.17 L166.5 494.17 L167 494.17 L167.5 494.18 L168 494.18 L168.5 494.18 L169 494.18 L169.5 494.18 L170 494.18 L170.5 494.19 L171 494.19 L171.5 494.19 L172 494.19 L172.5 494.19 L173 494.19 L173.5 494.2 L174 494.2 L174.5 494.2 L175 494.2 L175.5 494.2 L176 494.2 L176.5 494.2 L177 494.21 L177.5 494.21 L178 494.21 L178.5 494.21 L179 494.21 L179.5 494.21 L180 494.21 L180.5 494.22 L181 494.22 L181.5 494.22 L182 494.22 L182.5 494.22 L183 494.22 L183.5 494.22 L184 494.23 L184.5 494.23 L185 494.23 L185.5 494.23 L186 494.23 L186.5 494.23 L187 494.23 L187.5 494.23 L188 494.23 L188.5 494.24 L189 494.24 L189.5 494.24 L190 494.24 L190.5 494.24 L191 494.24 L191.5 494.24 L192 494.24 L192.5 494.24 L193 494.25 L193.5 494.25 L194 494.25 L194.5 494.25 L195 494.25 L195.5 494.25 L196 494.25 L196.5 494.25 L197 494.25 L197.5 494.25 L198 494.26 L198.5 494.26 L199 494.26 L199.5 494.26 L200 494.26 L200.5 494.26 L201 494.26 L201.5 494.26 L202 494.26 L202.5 494.26 L203 494.26 L203.5 494.27 L204 494.27 L204.5 494.27 L205 494.27 L205.5 494.27 L206 494.27 L206.5 494.27 L207 494.27 L207.5 494.27 L208 494.27 L208.5 494.27 L209 494.27 L209.5 494.27 L210 494.28 L210.5 494.28 L211 494.28 L211.5 494.28 L212 494.28 L212.5 494.28 L213 494.28 L213.5 494.28 L214 494.28 L214.5 494.28 L215 494.28 L215.5 494.28 L216 494.28 L216.5 494.28 L217 494.29 L217.5 494.29 L218 494.29 L218.5 494.29 L219 494.29 L219.5 494.29 L220 494.29 L220.5 494.29 L221 494.29 L221.5 494.29 L222 494.29 L222.5 494.29 L223 494.29 L223.5 494.29 L224 494.29 L224.5 494.3 L225 494.3 L225.5 494.3 L226 494.3 L226.5 494.3 L227 494.3 L227.5 494.3 L228 494.3" fill="none" stroke="#8e8ed6" stroke-width="1.5" stroke-linejoin="round" />
<path d="M48.5 492.8 L49 492.86 L49.5 492.91 L50 492.93 L50.5 492.9 L51 492.81 L51.5 492.69 L52 492.54 L52.5 492.41 L53.01 492.3 L53.51 492.23 L54.01 492.2 L54.51 492.16 L55.01 492.1 L55.51 492 L56.01 491.87 L56.51 491.73 L57.01 491.6 L57.51 491.49 L58.01 491.42 L58.51 491.39 L59.01 491.43 L59.51 491.52 L60.01 491.64 L60.51 491.78 L61.01 491.9 L61.51 492 L62.02 492.07 L62.52 492.1 L63.02 492.11 L63.52 492.08 L64.02 492.04 L64.52 492 L65.02 491.99 L65.52 492.05 L66.02 492.18 L66.52 492.41 L67.02 492.75 L67.52 493.13 L68.02 493.44 L68.52 493.6 L69.02 493.52 L69.52 493.09 L70.02 492.24 L70.52 490.98 L71.03 489.51 L71.53 488.06 L72.03 486.49 L72.53 484.45 L73.03 481.57 L73.53 477.83 L74.03 473.87 L74.53 470.38 L75.03 467.58 L75.53 464.77 L76.03 461.13 L76.53 456.32 L77.03 450.87 L77.53 445.37 L78.03 440.1 L78.53 435.11 L79.03 430.43 L79.53 425.99 L80.04 421.77 L80.54 417.71 L81.04 413.81 L81.54 410.12 L82.04 406.76 L82.54 403.72 L83.04 400.69 L83.54 397.34 L84.04 393.62 L84.54 389.85 L85.04 386.38 L85.54 383.46 L86.04 381.08 L86.54 379.09 L87.04 377.36 L87.54 375.79 L88.04 374.41 L88.54 373.29 L89.05 372.47 L89.55 371.95 L90.05 371.67 L90.55 371.59 L91.05 371.68 L91.55 371.96 L92.05 372.44 L92.55 373.14 L93.05 374.07 L93.55 375.24 L94.05 376.66 L94.55 378.32 L95.05 380.23 L95.55 382.37 L96.05 384.75 L96.55 387.34 L97.05 390.07 L97.55 392.75 L98.06 395.24 L98.56 397.76 L99.06 400.9 L99.56 405.21 L100.06 410.7 L100.56 417.07 L101.06 424.04 L101.56 431.22 L102.06 438.21 L102.56 444.72 L103.06 450.81 L103.56 456.57 L104.06 462.06 L104.56 467.02 L105.06 471.09 L105.56 473.95 L106.06 475.68 L106.56 476.58 L107.07 476.9 L107.57 476.72 L108.07 476.09 L108.57 475.1 L109.07 473.82 L109.57 472.35 L110.07 470.78 L110.57 469.2 L111.07 467.67 L111.57 466.23 L112.07 464.94 L112.57 463.86 L113.07 463.01 L113.57 462.4 L114.07 461.98 L114.57 461.76 L115.07 461.7 L115.58 461.79 L116.08 462.06 L116.58 462.53 L117.08 463.22 L117.58 464.16 L118.08 465.38 L118.58 466.83 L119.08 468.49 L119.58 470.33 L120.08 472.33 L120.58 474.43 L121.08 476.55 L121.58 478.62 L122.08 480.55 L122.58 482.26 L123.08 483.7 L123.58 484.88 L124.08 485.81 L124.59 486.54 L125.09 487.08 L125.59 487.46 L126.09 487.69 L126.59 487.81 L127.09 487.84 L127.59 487.79 L128.09 487.71 L128.59 487.59 L129.09 487.48 L129.59 487.38 L130.09 487.3 L130.59 487.23 L131.09 487.17 L131.59 487.1 L132.09 487.03 L132.59 486.95 L133.09 486.86 L133.6 486.75 L134.1 486.61 L134.6 486.41 L135.1 486.16 L135.6 485.83 L136.1 485.41 L136.6 484.9 L137.1 484.32 L137.6 483.71 L138.1 483.09 L138.6 482.48 L139.1 481.92 L139.6 481.4 L140.1 480.95 L140.6 480.56 L141.1 480.24 L141.6 480 L142.1 479.84 L142.61 479.74 L143.11 479.71 L143.61 479.74 L144.11 479.82 L144.61 479.96 L145.11 480.15 L145.61 480.41 L146.11 480.73 L146.61 481.13 L147.11 481.61 L147.61 482.17 L148.11 482.8 L148.61 483.48 L149.11 484.2 L149.61 484.95 L150.11 485.71 L150.61 486.47 L151.11 487.22 L151.62 487.93 L152.12 488.6 L152.62 489.2 L153.12 489.72 L153.62 490.15 L154.12 490.47 L154.62 490.66 L155.12 490.71 L155.62 490.6 L156.12 490.34 L156.62 489.96 L157.12 489.47 L157.62 488.89 L158.12 488.23 L158.62 487.53 L159.12 486.81 L159.62 486.08 L160.12 485.38 L160.63 484.74 L161.13 484.17 L161.63 483.69 L162.13 483.3 L162.63 483 L163.13 482.77 L163.63 482.62 L164.13 482.53 L164.63 482.51 L165.13 482.54 L165.63 482.63 L166.13 482.76 L166.63 482.94 L167.13 483.18 L167.63 483.47 L168.13 483.83 L168.63 484.25 L169.14 484.74 L169.64 485.29 L170.14 485.9 L170.64 486.54 L171.14 487.2 L171.64 487.87 L172.14 488.53 L172.64 489.17 L173.14 489.78 L173.64 490.34 L174.14 490.84 L174.64 491.28 L175.14 491.64 L175.64 491.93 L176.14 492.12 L176.64 492.23 L177.14 492.26 L177.64 492.22 L178.15 492.13 L178.65 492 L179.15 491.83 L179.65 491.64 L180.15 491.44 L180.65 491.23 L181.15 491.03 L181.65 490.82 L182.15 490.63 L182.65 490.44 L183.15 490.26 L183.65 490.09 L184.15 489.95 L184.65 489.82 L185.15 489.71 L185.65 489.64 L186.15 489.59 L186.65 489.57 L187.16 489.58 L187.66 489.62 L188.16 489.68 L188.66 489.78 L189.16 489.89 L189.66 490.02 L190.16 490.18 L190.66 490.36 L191.16 490.55 L191.66 490.75 L192.16 490.96 L192.66 491.17 L193.16 491.37 L193.66 491.55 L194.16 491.71 L194.66 491.85 L195.16 491.96 L195.66 492.03 L196.17 492.06 L196.67 492.06 L197.17 492.03 L197.67 491.97 L198.17 491.88 L198.67 491.78 L199.17 491.66 L199.67 491.53 L200.17 491.39 L200.67 491.25 L201.17 491.11 L201.67 490.97 L202.17 490.83 L202.67 490.7 L203.17 490.57 L203.67 490.46 L204.17 490.36 L204.67 490.27 L205.18 490.2 L205.68 490.14 L206.18 490.11 L206.68 490.1 L207.18 490.11 L207.68 490.15 L208.18 490.21 L208.68 490.29 L209.18 490.39 L209.68 490.51 L210.18 490.64 L210.68 490.8 L211.18 490.96 L211.68 491.14 L212.18 491.33 L212.68 491.52 L213.18 491.71 L213.68 491.89 L214.19 492.06 L214.69 492.21 L215.19 492.34 L215.69 492.45 L216.19 492.52 L216.69 492.57 L217.19 492.58 L217.69 492.57 L218.19 492.54 L218.69 492.48 L219.19 492.42 L219.69 492.34 L220.19 492.25 L220.69 492.16 L221.19 492.06 L221.69 491.97 L222.19 491.88 L222.69 491.79 L223.2 491.7 L223.7 491.61 L224.2 491.52 L224.7 491.44 L225.2 491.35 L225.7 491.26 L226.2 491.17 L226.7 491.09 L227.2 491" fill="none" stroke="#3a3a3a" stroke-width="1.6" stroke-linejoin="round" />
<path d="M47.5 489 L48 487.91 L48.5 486.9 L49 486.06 L49.5 485.47 L50 485.22 L50.5 485.4 L51 486.05 L51.5 487.05 L52 488.25 L52.5 489.5 L53 490.65 L53.5 491.54 L54 492.04 L54.5 492.02 L55 491.49 L55.5 490.62 L56 489.57 L56.5 488.54 L57 487.83 L57.5 487.71 L58 488.1 L58.5 488.69 L59 489.14 L59.5 489.06 L60 488 L60.5 485.78 L61 483.39 L61.5 482.07 L62 482.23 L62.5 483.12 L63 483.98 L63.5 484.65 L64 485.4 L64.5 486.45 L65 487.71 L65.5 489.04 L66 490.27 L66.5 491.2 L67 491.56 L67.5 491.11 L68 489.82 L68.5 488 L69 486 L69.5 484.08 L70 482.29 L70.5 480.63 L71 479.1 L71.5 477.7 L72 476.48 L72.5 475.5 L73 474.8 L73.5 474.34 L74 474.03 L74.5 473.78 L75 473.5 L75.5 473.1 L76 472.51 L76.5 471.79 L77 471.05 L77.5 470.38 L78 469.71 L78.5 468.57 L79 466.45 L79.5 462.86 L80 457.8 L80.5 452 L81 446.05 L81.5 439.89 L82 433.31 L82.5 426.52 L83 420.22 L83.5 415.11 L84 411.23 L84.5 408.09 L85 405.2 L85.5 402.08 L86 398.71 L86.5 395.37 L87 392.35 L87.5 389.8 L88 387.64 L88.5 385.79 L89 384.22 L89.5 383 L90 382.2 L90.5 381.83 L91 381.86 L91.5 382.25 L92 382.96 L92.5 384.12 L93 386 L93.5 388.78 L94 392.23 L94.5 396 L95 399.82 L95.5 403.7 L96 407.73 L96.5 412 L97 416.6 L97.5 421.62 L98 427.15 L98.5 433.28 L99 439.9 L99.5 446.41 L100 452.18 L100.5 456.92 L101 460.8 L101.5 464 L102 466.71 L102.5 469.02 L103 471 L103.5 472.73 L104 474.22 L104.5 475.5 L105 476.58 L105.5 477.49 L106 478.24 L106.5 478.87 L107 479.4 L107.5 479.85 L108 480.23 L108.5 480.54 L109 480.79 L109.5 481 L110 481.17 L110.5 481.35 L111 481.57 L111.5 481.88 L112 482.32 L112.5 482.94 L113 483.74 L113.5 484.7 L114 485.76 L114.5 486.87 L115 488 L115.5 489.09 L116 490.11 L116.5 491.02 L117 491.78 L117.5 492.35 L118 492.7 L118.5 492.8 L119 492.68 L119.5 492.4 L120 491.99 L120.5 491.51 L121 491 L121.5 490.5 L122 490.06 L122.5 489.69 L123 489.43 L123.5 489.3 L124 489.35 L124.5 489.54 L125 489.84 L125.5 490.22 L126 490.65 L126.5 491.09 L127 491.5 L127.5 491.86 L128 492.17 L128.5 492.42 L129 492.64 L129.5 492.82 L130 492.97 L130.5 493.09 L131 493.2 L131.5 493.29 L132 493.37 L132.5 493.44 L133 493.49 L133.5 493.54 L134 493.58 L134.5 493.61 L135 493.63 L135.5 493.64 L136 493.65 L136.5 493.65 L137 493.65 L137.5 493.65 L138 493.64 L138.5 493.63 L139 493.62 L139.5 493.61 L140 493.6 L140.5 493.59 L141 493.58 L141.5 493.58 L142 493.57 L142.5 493.57 L143 493.57 L143.5 493.57 L144 493.57 L144.5 493.57 L145 493.57 L145.5 493.57 L146 493.58 L146.5 493.58 L147 493.59 L147.5 493.59 L148 493.6 L148.5 493.61 L149 493.62 L149.5 493.63 L150 493.64 L150.5 493.65 L151 493.66 L151.5 493.67 L152 493.68 L152.5 493.69 L153 493.71 L153.5 493.72 L154 493.73 L154.5 493.75 L155 493.76 L155.5 493.78 L156 493.79 L156.5 493.8 L157 493.82 L157.5 493.83 L158 493.85 L158.5 493.86 L159 493.87 L159.5 493.89 L160 493.9 L160.5 493.91 L161 493.93 L161.5 493.94 L162 493.95 L162.5 493.96 L163 493.97 L163.5 493.99 L164 494 L164.5 494.01 L165 494.02 L165.5 494.03 L166 494.04 L166.5 494.05 L167 494.06 L167.5 494.07 L168 494.08 L168.5 494.09 L169 494.09 L169.5 494.1 L170 494.11 L170.5 494.12 L171 494.13 L171.5 494.13 L172 494.14 L172.5 494.15 L173 494.16 L173.5 494.16 L174 494.17 L174.5 494.18 L175 494.18 L175.5 494.19 L176 494.19 L176.5 494.2 L177 494.2 L177.5 494.21 L178 494.21 L178.5 494.22 L179 494.22 L179.5 494.23 L180 494.23 L180.5 494.23 L181 494.24 L181.5 494.24 L182 494.24 L182.5 494.25 L183 494.25 L183.5 494.25 L184 494.25 L184.5 494.26 L185 494.26 L185.5 494.26 L186 494.26 L186.5 494.26 L187 494.26 L187.5 494.27 L188 494.27 L188.5 494.27 L189 494.27 L189.5 494.27 L190 494.27 L190.5 494.27 L191 494.27 L191.5 494.27 L192 494.27 L192.5 494.27 L193 494.27 L193.5 494.27 L194 494.27 L194.5 494.27 L195 494.27 L195.5 494.26 L196 494.26 L196.5 494.26 L197 494.26 L197.5 494.26 L198 494.26 L198.5 494.25 L199 494.25 L199.5 494.25 L200 494.25 L200.5 494.25 L201 494.24 L201.5 494.24 L202 494.24 L202.5 494.24 L203 494.23 L203.5 494.23 L204 494.23 L204.5 494.22 L205 494.22 L205.5 494.22 L206 494.21 L206.5 494.21 L207 494.21 L207.5 494.2 L208 494.2 L208.5 494.19 L209 494.19 L209.5 494.19 L210 494.18 L210.5 494.18 L211 494.17 L211.5 494.17 L212 494.16 L212.5 494.16 L213 494.16 L213.5 494.15 L214 494.15 L214.5 494.14 L215 494.14 L215.5 494.13 L216 494.13 L216.5 494.12 L217 494.12 L217.5 494.11 L218 494.11 L218.5 494.1 L219 494.1 L219.5 494.09 L220 494.09 L220.5 494.08 L221 494.08 L221.5 494.07 L222 494.07 L222.5 494.06 L223 494.05 L223.5 494.05 L224 494.04 L224.5 494.04 L225 494.03 L225.5 494.03 L226 494.02 L226.5 494.02 L227 494.01 L227.5 494.01 L228 494" fill="none" stroke="#1fb2d6" stroke-width="1.5" stroke-linejoin="round" />
<g fill="#fff" stroke="#f4a2a2" stroke-width="0.9"><circle cx="50.7" cy="488.6" r="2.1"/><circle cx="51.6" cy="487.7" r="2.1"/><circle cx="52.5" cy="486.9" r="2.1"/><circle cx="53.4" cy="486.2" r="2.1"/><circle cx="54.3" cy="485.8" r="2.1"/><circle cx="55.2" cy="485.4" r="2.1"/><circle cx="56.1" cy="485.1" r="2.1"/><circle cx="57.0" cy="484.8" r="2.1"/><circle cx="58.0" cy="484.3" r="2.1"/><circle cx="58.9" cy="483.8" r="2.1"/><circle cx="59.8" cy="483.3" r="2.1"/><circle cx="60.7" cy="482.6" r="2.1"/><circle cx="61.6" cy="482.0" r="2.1"/><circle cx="62.5" cy="481.3" r="2.1"/><circle cx="63.4" cy="480.6" r="2.1"/><circle cx="64.3" cy="479.8" r="2.1"/><circle cx="65.2" cy="478.9" r="2.1"/><circle cx="66.1" cy="478.0" r="2.1"/><circle cx="67.0" cy="477.2" r="2.1"/><circle cx="67.9" cy="476.6" r="2.1"/><circle cx="68.8" cy="476.3" r="2.1"/><circle cx="69.7" cy="476.4" r="2.1"/><circle cx="70.7" cy="476.3" r="2.1"/><circle cx="71.6" cy="476.0" r="2.1"/><circle cx="72.5" cy="475.0" r="2.1"/><circle cx="73.4" cy="473.1" r="2.1"/><circle cx="74.3" cy="470.2" r="2.1"/><circle cx="75.2" cy="466.1" r="2.1"/><circle cx="76.1" cy="459.4" r="2.1"/><circle cx="77.0" cy="451.0" r="2.1"/><circle cx="77.9" cy="441.5" r="2.1"/><circle cx="78.8" cy="432.3" r="2.1"/><circle cx="79.7" cy="424.3" r="2.1"/><circle cx="80.6" cy="417.0" r="2.1"/><circle cx="81.5" cy="410.1" r="2.1"/><circle cx="82.4" cy="404.3" r="2.1"/><circle cx="83.4" cy="398.6" r="2.1"/><circle cx="84.3" cy="392.0" r="2.1"/><circle cx="85.2" cy="385.6" r="2.1"/><circle cx="86.1" cy="380.9" r="2.1"/><circle cx="87.0" cy="377.6" r="2.1"/><circle cx="87.9" cy="374.8" r="2.1"/><circle cx="88.8" cy="372.8" r="2.1"/><circle cx="89.7" cy="371.8" r="2.1"/><circle cx="90.6" cy="371.6" r="2.1"/><circle cx="91.5" cy="371.9" r="2.1"/><circle cx="92.4" cy="372.9" r="2.1"/><circle cx="93.3" cy="374.7" r="2.1"/><circle cx="94.2" cy="377.2" r="2.1"/><circle cx="95.1" cy="380.6" r="2.1"/><circle cx="96.0" cy="384.7" r="2.1"/><circle cx="97.0" cy="389.5" r="2.1"/><circle cx="97.9" cy="394.3" r="2.1"/><circle cx="98.8" cy="399.0" r="2.1"/><circle cx="99.7" cy="406.4" r="2.1"/><circle cx="100.6" cy="417.4" r="2.1"/><circle cx="101.5" cy="430.2" r="2.1"/><circle cx="102.4" cy="442.7" r="2.1"/><circle cx="103.3" cy="453.8" r="2.1"/><circle cx="104.2" cy="463.7" r="2.1"/><circle cx="105.1" cy="471.9" r="2.1"/><circle cx="106.0" cy="477.8" r="2.1"/><circle cx="106.9" cy="481.6" r="2.1"/><circle cx="107.8" cy="483.2" r="2.1"/><circle cx="108.7" cy="481.6" r="2.1"/><circle cx="109.7" cy="477.8" r="2.1"/><circle cx="110.6" cy="473.2" r="2.1"/><circle cx="111.5" cy="469.3" r="2.1"/><circle cx="112.4" cy="465.7" r="2.1"/><circle cx="113.3" cy="462.7" r="2.1"/><circle cx="114.2" cy="461.2" r="2.1"/><circle cx="115.1" cy="460.7" r="2.1"/><circle cx="116.0" cy="460.8" r="2.1"/><circle cx="116.9" cy="461.5" r="2.1"/><circle cx="117.8" cy="463.1" r="2.1"/><circle cx="118.7" cy="465.6" r="2.1"/><circle cx="119.6" cy="468.9" r="2.1"/><circle cx="120.5" cy="472.5" r="2.1"/><circle cx="121.4" cy="476.2" r="2.1"/><circle cx="122.4" cy="479.7" r="2.1"/><circle cx="123.3" cy="483.1" r="2.1"/><circle cx="124.2" cy="485.7" r="2.1"/><circle cx="125.1" cy="487.3" r="2.1"/><circle cx="126.0" cy="488.3" r="2.1"/><circle cx="126.9" cy="489.1" r="2.1"/><circle cx="127.8" cy="489.8" r="2.1"/><circle cx="128.7" cy="490.3" r="2.1"/><circle cx="129.6" cy="490.8" r="2.1"/><circle cx="130.5" cy="491.1" r="2.1"/><circle cx="131.4" cy="491.4" r="2.1"/><circle cx="132.3" cy="491.7" r="2.1"/><circle cx="133.2" cy="491.8" r="2.1"/><circle cx="134.1" cy="492.0" r="2.1"/><circle cx="135.1" cy="492.2" r="2.1"/><circle cx="136.0" cy="492.3" r="2.1"/><circle cx="136.9" cy="492.4" r="2.1"/><circle cx="137.8" cy="492.5" r="2.1"/><circle cx="138.7" cy="492.6" r="2.1"/><circle cx="139.6" cy="492.7" r="2.1"/><circle cx="140.5" cy="492.7" r="2.1"/><circle cx="141.4" cy="492.8" r="2.1"/><circle cx="142.3" cy="492.9" r="2.1"/><circle cx="143.2" cy="492.9" r="2.1"/><circle cx="144.1" cy="493.0" r="2.1"/><circle cx="145.0" cy="493.0" r="2.1"/><circle cx="145.9" cy="493.1" r="2.1"/><circle cx="146.8" cy="493.1" r="2.1"/><circle cx="147.7" cy="493.1" r="2.1"/><circle cx="148.7" cy="493.2" r="2.1"/><circle cx="149.6" cy="493.2" r="2.1"/><circle cx="150.5" cy="493.2" r="2.1"/><circle cx="151.4" cy="493.2" r="2.1"/><circle cx="152.3" cy="493.3" r="2.1"/><circle cx="153.2" cy="493.3" r="2.1"/><circle cx="154.1" cy="493.3" r="2.1"/><circle cx="155.0" cy="493.3" r="2.1"/><circle cx="155.9" cy="493.3" r="2.1"/><circle cx="156.8" cy="493.4" r="2.1"/><circle cx="157.7" cy="493.4" r="2.1"/><circle cx="158.6" cy="493.4" r="2.1"/><circle cx="159.5" cy="493.4" r="2.1"/><circle cx="160.4" cy="493.4" r="2.1"/><circle cx="161.4" cy="493.4" r="2.1"/><circle cx="162.3" cy="493.4" r="2.1"/><circle cx="163.2" cy="493.4" r="2.1"/><circle cx="164.1" cy="493.5" r="2.1"/><circle cx="165.0" cy="493.5" r="2.1"/><circle cx="165.9" cy="493.5" r="2.1"/><circle cx="166.8" cy="493.5" r="2.1"/><circle cx="167.7" cy="493.5" r="2.1"/><circle cx="168.6" cy="493.5" r="2.1"/><circle cx="169.5" cy="493.5" r="2.1"/><circle cx="170.4" cy="493.5" r="2.1"/><circle cx="171.3" cy="493.5" r="2.1"/><circle cx="172.2" cy="493.5" r="2.1"/><circle cx="173.1" cy="493.5" r="2.1"/><circle cx="174.1" cy="493.6" r="2.1"/><circle cx="175.0" cy="493.6" r="2.1"/><circle cx="175.9" cy="493.6" r="2.1"/><circle cx="176.8" cy="493.6" r="2.1"/><circle cx="177.7" cy="493.6" r="2.1"/><circle cx="178.6" cy="493.6" r="2.1"/><circle cx="179.5" cy="493.6" r="2.1"/><circle cx="180.4" cy="493.6" r="2.1"/><circle cx="181.3" cy="493.6" r="2.1"/><circle cx="182.2" cy="493.6" r="2.1"/><circle cx="183.1" cy="493.6" r="2.1"/><circle cx="184.0" cy="493.6" r="2.1"/><circle cx="184.9" cy="493.6" r="2.1"/><circle cx="185.8" cy="493.6" r="2.1"/><circle cx="186.7" cy="493.6" r="2.1"/><circle cx="187.7" cy="493.6" r="2.1"/><circle cx="188.6" cy="493.6" r="2.1"/><circle cx="189.5" cy="493.7" r="2.1"/><circle cx="190.4" cy="493.7" r="2.1"/><circle cx="191.3" cy="493.7" r="2.1"/><circle cx="192.2" cy="493.7" r="2.1"/><circle cx="193.1" cy="493.7" r="2.1"/><circle cx="194.0" cy="493.7" r="2.1"/><circle cx="194.9" cy="493.7" r="2.1"/><circle cx="195.8" cy="493.7" r="2.1"/><circle cx="196.7" cy="493.7" r="2.1"/><circle cx="197.6" cy="493.7" r="2.1"/><circle cx="198.5" cy="493.7" r="2.1"/><circle cx="199.4" cy="493.7" r="2.1"/><circle cx="200.4" cy="493.7" r="2.1"/><circle cx="201.3" cy="493.7" r="2.1"/><circle cx="202.2" cy="493.7" r="2.1"/><circle cx="203.1" cy="493.7" r="2.1"/><circle cx="204.0" cy="493.7" r="2.1"/><circle cx="204.9" cy="493.7" r="2.1"/><circle cx="205.8" cy="493.7" r="2.1"/><circle cx="206.7" cy="493.7" r="2.1"/><circle cx="207.6" cy="493.7" r="2.1"/><circle cx="208.5" cy="493.7" r="2.1"/><circle cx="209.4" cy="493.7" r="2.1"/><circle cx="210.3" cy="493.7" r="2.1"/><circle cx="211.2" cy="493.7" r="2.1"/><circle cx="212.1" cy="493.7" r="2.1"/><circle cx="213.1" cy="493.7" r="2.1"/><circle cx="214.0" cy="493.8" r="2.1"/><circle cx="214.9" cy="493.8" r="2.1"/><circle cx="215.8" cy="493.8" r="2.1"/><circle cx="216.7" cy="493.8" r="2.1"/><circle cx="217.6" cy="493.8" r="2.1"/><circle cx="218.5" cy="493.8" r="2.1"/><circle cx="219.4" cy="493.8" r="2.1"/><circle cx="220.3" cy="493.8" r="2.1"/><circle cx="221.2" cy="493.8" r="2.1"/><circle cx="222.1" cy="493.8" r="2.1"/><circle cx="223.0" cy="493.8" r="2.1"/><circle cx="223.9" cy="493.8" r="2.1"/><circle cx="224.8" cy="493.8" r="2.1"/><circle cx="225.8" cy="493.8" r="2.1"/><circle cx="226.7" cy="493.8" r="2.1"/><circle cx="227.6" cy="493.8" r="2.1"/><circle cx="228.5" cy="493.8" r="2.1"/></g>
<defs><clipPath id="clipC2"><rect x="47" y="312.6" width="70" height="184.8"/></clipPath></defs>
<g clip-path="url(#clipC2)">
<path d="M47.5 489 L48 487.91 L48.5 486.9 L49 486.06 L49.5 485.47 L50 485.22 L50.5 485.4 L51 486.05 L51.5 487.05 L52 488.25 L52.5 489.5 L53 490.65 L53.5 491.54 L54 492.04 L54.5 492.02 L55 491.49 L55.5 490.62 L56 489.57 L56.5 488.54 L57 487.83 L57.5 487.71 L58 488.1 L58.5 488.69 L59 489.14 L59.5 489.06 L60 488 L60.5 485.78 L61 483.39 L61.5 482.07 L62 482.23 L62.5 483.12 L63 483.98 L63.5 484.65 L64 485.4 L64.5 486.45 L65 487.71 L65.5 489.04 L66 490.27 L66.5 491.2 L67 491.56 L67.5 491.11 L68 489.82 L68.5 488 L69 486 L69.5 484.08 L70 482.29 L70.5 480.63 L71 479.1 L71.5 477.7 L72 476.48 L72.5 475.5 L73 474.8 L73.5 474.34 L74 474.03 L74.5 473.78 L75 473.5 L75.5 473.1 L76 472.51 L76.5 471.79 L77 471.05 L77.5 470.38 L78 469.71 L78.5 468.57 L79 466.45 L79.5 462.86 L80 457.8 L80.5 452 L81 446.05 L81.5 439.89 L82 433.31 L82.5 426.52 L83 420.22 L83.5 415.11 L84 411.23 L84.5 408.09 L85 405.2 L85.5 402.08 L86 398.71 L86.5 395.37 L87 392.35 L87.5 389.8 L88 387.64 L88.5 385.79 L89 384.22 L89.5 383 L90 382.2 L90.5 381.83 L91 381.86 L91.5 382.25 L92 382.96 L92.5 384.12 L93 386 L93.5 388.78 L94 392.23 L94.5 396 L95 399.82 L95.5 403.7 L96 407.73 L96.5 412 L97 416.6 L97.5 421.62 L98 427.15 L98.5 433.28 L99 439.9 L99.5 446.41 L100 452.18 L100.5 456.92 L101 460.8 L101.5 464 L102 466.71 L102.5 469.02 L103 471 L103.5 472.73 L104 474.22 L104.5 475.5 L105 476.58 L105.5 477.49 L106 478.24 L106.5 478.87 L107 479.4 L107.5 479.85 L108 480.23 L108.5 480.54 L109 480.79 L109.5 481 L110 481.17 L110.5 481.35 L111 481.57 L111.5 481.88 L112 482.32 L112.5 482.94 L113 483.74 L113.5 484.7 L114 485.76 L114.5 486.87 L115 488 L115.5 489.09 L116 490.11 L116.5 491.02 L117 491.78 L117.5 492.35 L118 492.7 L118.5 492.8 L119 492.68 L119.5 492.4 L120 491.99 L120.5 491.51 L121 491 L121.5 490.5 L122 490.06 L122.5 489.69 L123 489.43 L123.5 489.3 L124 489.35 L124.5 489.54 L125 489.84 L125.5 490.22 L126 490.65 L126.5 491.09 L127 491.5 L127.5 491.86 L128 492.17 L128.5 492.42 L129 492.64 L129.5 492.82 L130 492.97 L130.5 493.09 L131 493.2 L131.5 493.29 L132 493.37 L132.5 493.44 L133 493.49 L133.5 493.54 L134 493.58 L134.5 493.61 L135 493.63 L135.5 493.64 L136 493.65 L136.5 493.65 L137 493.65 L137.5 493.65 L138 493.64 L138.5 493.63 L139 493.62 L139.5 493.61 L140 493.6 L140.5 493.59 L141 493.58 L141.5 493.58 L142 493.57 L142.5 493.57 L143 493.57 L143.5 493.57 L144 493.57 L144.5 493.57 L145 493.57 L145.5 493.57 L146 493.58 L146.5 493.58 L147 493.59 L147.5 493.59 L148 493.6 L148.5 493.61 L149 493.62 L149.5 493.63 L150 493.64 L150.5 493.65 L151 493.66 L151.5 493.67 L152 493.68 L152.5 493.69 L153 493.71 L153.5 493.72 L154 493.73 L154.5 493.75 L155 493.76 L155.5 493.78 L156 493.79 L156.5 493.8 L157 493.82 L157.5 493.83 L158 493.85 L158.5 493.86 L159 493.87 L159.5 493.89 L160 493.9 L160.5 493.91 L161 493.93 L161.5 493.94 L162 493.95 L162.5 493.96 L163 493.97 L163.5 493.99 L164 494 L164.5 494.01 L165 494.02 L165.5 494.03 L166 494.04 L166.5 494.05 L167 494.06 L167.5 494.07 L168 494.08 L168.5 494.09 L169 494.09 L169.5 494.1 L170 494.11 L170.5 494.12 L171 494.13 L171.5 494.13 L172 494.14 L172.5 494.15 L173 494.16 L173.5 494.16 L174 494.17 L174.5 494.18 L175 494.18 L175.5 494.19 L176 494.19 L176.5 494.2 L177 494.2 L177.5 494.21 L178 494.21 L178.5 494.22 L179 494.22 L179.5 494.23 L180 494.23 L180.5 494.23 L181 494.24 L181.5 494.24 L182 494.24 L182.5 494.25 L183 494.25 L183.5 494.25 L184 494.25 L184.5 494.26 L185 494.26 L185.5 494.26 L186 494.26 L186.5 494.26 L187 494.26 L187.5 494.27 L188 494.27 L188.5 494.27 L189 494.27 L189.5 494.27 L190 494.27 L190.5 494.27 L191 494.27 L191.5 494.27 L192 494.27 L192.5 494.27 L193 494.27 L193.5 494.27 L194 494.27 L194.5 494.27 L195 494.27 L195.5 494.26 L196 494.26 L196.5 494.26 L197 494.26 L197.5 494.26 L198 494.26 L198.5 494.25 L199 494.25 L199.5 494.25 L200 494.25 L200.5 494.25 L201 494.24 L201.5 494.24 L202 494.24 L202.5 494.24 L203 494.23 L203.5 494.23 L204 494.23 L204.5 494.22 L205 494.22 L205.5 494.22 L206 494.21 L206.5 494.21 L207 494.21 L207.5 494.2 L208 494.2 L208.5 494.19 L209 494.19 L209.5 494.19 L210 494.18 L210.5 494.18 L211 494.17 L211.5 494.17 L212 494.16 L212.5 494.16 L213 494.16 L213.5 494.15 L214 494.15 L214.5 494.14 L215 494.14 L215.5 494.13 L216 494.13 L216.5 494.12 L217 494.12 L217.5 494.11 L218 494.11 L218.5 494.1 L219 494.1 L219.5 494.09 L220 494.09 L220.5 494.08 L221 494.08 L221.5 494.07 L222 494.07 L222.5 494.06 L223 494.05 L223.5 494.05 L224 494.04 L224.5 494.04 L225 494.03 L225.5 494.03 L226 494.02 L226.5 494.02 L227 494.01 L227.5 494.01 L228 494" fill="none" stroke="#1fb2d6" stroke-width="1.5" stroke-linejoin="round" />
</g>
</g>
<line x1="88.8" y1="389.5" x2="99.71" y2="364.35" stroke="#1fb2d6" stroke-width="1.4" />
<path d="M101.90 359.30 L101.70 366.30 L96.93 364.23 Z" fill="#1fb2d6"/>
<line x1="95.5" y1="474.5" x2="108.45" y2="454.14" stroke="#8e8ed6" stroke-width="1.4" />
<path d="M111.40 449.50 L110.11 456.38 L105.72 453.59 Z" fill="#8e8ed6"/>
<line x1="116.5" y1="477.5" x2="130.14" y2="465.01" stroke="#c8a01c" stroke-width="1.4" />
<path d="M134.20 461.30 L131.16 467.61 L127.65 463.77 Z" fill="#c8a01c"/>
<text x="78.5" y="352.9" font-size="13.8" fill="#1fb2d6" >Fe-N</text>
<text x="111.2" y="445.8" font-size="14.2" fill="#8e8ed6" >Fe-O</text>
<text x="137.3" y="459.6" font-size="14.2" fill="#c8a01c" >Fe-(O)-Si</text>
<rect x="47.6" y="312.7" width="180.7" height="184.9" stroke="#000" stroke-width="1.4" fill="none" />
<line x1="120" y1="318.7" x2="148.9" y2="318.7" stroke="#333333" stroke-width="1.5" />
<text x="153.1" y="323.2" font-size="12.8" fill="#000" >SiO<tspan dy="4.35" font-size="8.70">2</tspan><tspan dy="-4.35">/FeNSiC</tspan></text>
<line x1="120" y1="338.2" x2="148.9" y2="338.2" stroke="#22b2d8" stroke-width="1.5" />
<text x="153.1" y="342.4" font-size="12.8" fill="#000" >Fe-N</text>
<line x1="120" y1="353.4" x2="148.9" y2="353.4" stroke="#8c8cd2" stroke-width="1.5" />
<text x="153.1" y="357.9" font-size="12.8" fill="#000" >Fe-O</text>
<line x1="120" y1="368.9" x2="148.9" y2="368.9" stroke="#c8a020" stroke-width="1.5" />
<text x="153.1" y="372.9" font-size="12.8" fill="#000" >Fe-(O)-Si</text>
<circle cx="134.6" cy="384.7" r="1.6" fill="#fff" stroke="#f08080" stroke-width="0.9"/>
<text x="153.1" y="388.6" font-size="12.8" fill="#000" >fit</text>
<line x1="292.3" y1="499.6" x2="292.3" y2="505.1" stroke="#000" stroke-width="1.4" />
<text x="292.3" y="517.7" font-size="12.5" fill="#000" text-anchor="middle" >0</text>
<line x1="310.49" y1="499.6" x2="310.49" y2="502.6" stroke="#000" stroke-width="1.4" />
<line x1="328.68" y1="499.6" x2="328.68" y2="505.1" stroke="#000" stroke-width="1.4" />
<text x="328.68" y="517.7" font-size="12.5" fill="#000" text-anchor="middle" >1</text>
<line x1="346.87" y1="499.6" x2="346.87" y2="502.6" stroke="#000" stroke-width="1.4" />
<line x1="365.06" y1="499.6" x2="365.06" y2="505.1" stroke="#000" stroke-width="1.4" />
<text x="365.06" y="517.7" font-size="12.5" fill="#000" text-anchor="middle" >2</text>
<line x1="383.25" y1="499.6" x2="383.25" y2="502.6" stroke="#000" stroke-width="1.4" />
<line x1="401.44" y1="499.6" x2="401.44" y2="505.1" stroke="#000" stroke-width="1.4" />
<text x="401.44" y="517.7" font-size="12.5" fill="#000" text-anchor="middle" >3</text>
<line x1="419.63" y1="499.6" x2="419.63" y2="502.6" stroke="#000" stroke-width="1.4" />
<line x1="437.82" y1="499.6" x2="437.82" y2="505.1" stroke="#000" stroke-width="1.4" />
<text x="437.82" y="517.7" font-size="12.5" fill="#000" text-anchor="middle" >4</text>
<line x1="456.01" y1="499.6" x2="456.01" y2="502.6" stroke="#000" stroke-width="1.4" />
<line x1="474.2" y1="499.6" x2="474.2" y2="505.1" stroke="#000" stroke-width="1.4" />
<text x="474.2" y="517.7" font-size="12.5" fill="#000" text-anchor="middle" >5</text>
<line x1="292.3" y1="499.62" x2="286.8" y2="499.62" stroke="#000" stroke-width="1.4" />
<text x="284.4" y="504.02" font-size="12.5" fill="#000" text-anchor="end" >-4</text>
<line x1="292.3" y1="478.84" x2="289.3" y2="478.84" stroke="#000" stroke-width="1.4" />
<line x1="292.3" y1="458.06" x2="286.8" y2="458.06" stroke="#000" stroke-width="1.4" />
<text x="284.4" y="462.46" font-size="12.5" fill="#000" text-anchor="end" >-2</text>
<line x1="292.3" y1="437.28" x2="289.3" y2="437.28" stroke="#000" stroke-width="1.4" />
<line x1="292.3" y1="416.5" x2="286.8" y2="416.5" stroke="#000" stroke-width="1.4" />
<text x="284.4" y="420.9" font-size="12.5" fill="#000" text-anchor="end" >0</text>
<line x1="292.3" y1="395.72" x2="289.3" y2="395.72" stroke="#000" stroke-width="1.4" />
<line x1="292.3" y1="374.94" x2="286.8" y2="374.94" stroke="#000" stroke-width="1.4" />
<text x="284.4" y="379.34" font-size="12.5" fill="#000" text-anchor="end" >2</text>
<line x1="292.3" y1="354.16" x2="289.3" y2="354.16" stroke="#000" stroke-width="1.4" />
<line x1="292.3" y1="333.38" x2="286.8" y2="333.38" stroke="#000" stroke-width="1.4" />
<text x="284.4" y="337.78" font-size="12.5" fill="#000" text-anchor="end" >4</text>
<text x="379.7" y="531.3" font-size="15.5" fill="#000" text-anchor="middle" >R (Å)</text>
<text x="267.1" y="396.35" font-size="15.0" fill="#000" text-anchor="middle" transform="rotate(-90 267.1 396.35)" >|FT (k<tspan dy="-5.70" font-size="9.90">3</tspan><tspan dy="5.70"> χ(k))| (arb. units)</tspan></text>
<text x="256.8" y="305.2" font-size="17" fill="#000" >d</text>
<defs><clipPath id="clipD"><rect x="292.6" y="313" width="181.6" height="186.3"/></clipPath></defs>
<g clip-path="url(#clipD)">
<path d="M292.6 414.5 L293.1 414.5 L293.6 414.51 L294.1 414.51 L294.6 414.52 L295.1 414.52 L295.6 414.53 L296.1 414.53 L296.6 414.54 L297.1 414.54 L297.6 414.55 L298.1 414.56 L298.6 414.57 L299.1 414.58 L299.6 414.59 L300.1 414.6 L300.6 414.62 L301.1 414.63 L301.6 414.66 L302.11 414.69 L302.61 414.73 L303.11 414.78 L303.61 414.84 L304.11 414.92 L304.61 415.01 L305.11 415.13 L305.61 415.26 L306.11 415.41 L306.61 415.58 L307.11 415.76 L307.61 415.96 L308.11 416.18 L308.61 416.41 L309.11 416.65 L309.61 416.91 L310.11 417.15 L310.61 417.36 L311.11 417.53 L311.61 417.62 L312.11 417.64 L312.61 417.55 L313.11 417.36 L313.61 417.09 L314.11 416.78 L314.61 416.45 L315.11 416.13 L315.61 415.83 L316.11 415.53 L316.61 415.19 L317.11 414.79 L317.61 414.3 L318.11 413.68 L318.61 412.88 L319.11 411.83 L319.61 410.45 L320.12 408.69 L320.62 406.57 L321.12 404.24 L321.62 401.86 L322.12 399.58 L322.62 397.44 L323.12 395.44 L323.62 393.54 L324.12 391.72 L324.62 389.97 L325.12 388.27 L325.62 386.61 L326.12 384.95 L326.62 383.27 L327.12 381.52 L327.62 379.68 L328.12 377.72 L328.62 375.7 L329.12 373.65 L329.62 371.61 L330.12 369.61 L330.62 367.69 L331.12 365.88 L331.62 364.19 L332.12 362.64 L332.62 361.22 L333.12 359.91 L333.62 358.67 L334.12 357.46 L334.62 356.26 L335.12 355.07 L335.62 353.91 L336.12 352.76 L336.62 351.67 L337.12 350.64 L337.62 349.73 L338.13 348.94 L338.63 348.29 L339.13 347.74 L339.63 347.29 L340.13 346.91 L340.63 346.61 L341.13 346.38 L341.63 346.24 L342.13 346.19 L342.63 346.25 L343.13 346.41 L343.63 346.67 L344.13 347.01 L344.63 347.43 L345.13 347.93 L345.63 348.51 L346.13 349.18 L346.63 349.96 L347.13 350.84 L347.63 351.85 L348.13 353.02 L348.63 354.37 L349.13 355.93 L349.63 357.7 L350.13 359.59 L350.63 361.54 L351.13 363.46 L351.63 365.35 L352.13 367.24 L352.63 369.16 L353.13 371.11 L353.63 373.14 L354.13 375.24 L354.63 377.33 L355.13 379.32 L355.63 381.21 L356.13 383.12 L356.64 385.21 L357.14 387.51 L357.64 389.91 L358.14 392.3 L358.64 394.59 L359.14 396.69 L359.64 398.55 L360.14 400.1 L360.64 401.31 L361.14 402.2 L361.64 402.84 L362.14 403.28 L362.64 403.53 L363.14 403.6 L363.64 403.48 L364.14 403.17 L364.64 402.68 L365.14 402.07 L365.64 401.35 L366.14 400.58 L366.64 399.79 L367.14 399.01 L367.64 398.29 L368.14 397.67 L368.64 397.17 L369.14 396.8 L369.64 396.56 L370.14 396.43 L370.64 396.4 L371.14 396.47 L371.64 396.65 L372.14 396.91 L372.64 397.27 L373.14 397.72 L373.64 398.24 L374.14 398.83 L374.65 399.45 L375.15 400.1 L375.65 400.75 L376.15 401.4 L376.65 402.04 L377.15 402.68 L377.65 403.29 L378.15 403.89 L378.65 404.48 L379.15 405.04 L379.65 405.59 L380.15 406.12 L380.65 406.64 L381.15 407.15 L381.65 407.65 L382.15 408.14 L382.65 408.61 L383.15 409.07 L383.65 409.52 L384.15 409.93 L384.65 410.33 L385.15 410.7 L385.65 411.03 L386.15 411.34 L386.65 411.61 L387.15 411.85 L387.65 412.07 L388.15 412.25 L388.65 412.41 L389.15 412.54 L389.65 412.64 L390.15 412.72 L390.65 412.78 L391.15 412.82 L391.65 412.85 L392.15 412.87 L392.66 412.89 L393.16 412.9 L393.66 412.92 L394.16 412.92 L394.66 412.92 L395.16 412.9 L395.66 412.86 L396.16 412.8 L396.66 412.71 L397.16 412.59 L397.66 412.43 L398.16 412.23 L398.66 411.99 L399.16 411.71 L399.66 411.41 L400.16 411.08 L400.66 410.74 L401.16 410.4 L401.66 410.05 L402.16 409.72 L402.66 409.4 L403.16 409.1 L403.66 408.83 L404.16 408.59 L404.66 408.37 L405.16 408.18 L405.66 408.03 L406.16 407.91 L406.66 407.83 L407.16 407.8 L407.66 407.8 L408.16 407.84 L408.66 407.93 L409.16 408.06 L409.66 408.23 L410.16 408.44 L410.67 408.69 L411.17 408.96 L411.67 409.28 L412.17 409.62 L412.67 409.98 L413.17 410.37 L413.67 410.77 L414.17 411.16 L414.67 411.55 L415.17 411.93 L415.67 412.28 L416.17 412.6 L416.67 412.89 L417.17 413.13 L417.67 413.33 L418.17 413.5 L418.67 413.61 L419.17 413.69 L419.67 413.72 L420.17 413.7 L420.67 413.64 L421.17 413.53 L421.67 413.38 L422.17 413.2 L422.67 412.99 L423.17 412.75 L423.67 412.48 L424.17 412.2 L424.67 411.91 L425.17 411.6 L425.67 411.3 L426.17 410.99 L426.67 410.7 L427.17 410.42 L427.67 410.16 L428.17 409.92 L428.67 409.71 L429.18 409.54 L429.68 409.39 L430.18 409.27 L430.68 409.18 L431.18 409.12 L431.68 409.08 L432.18 409.08 L432.68 409.1 L433.18 409.15 L433.68 409.23 L434.18 409.34 L434.68 409.47 L435.18 409.64 L435.68 409.84 L436.18 410.06 L436.68 410.32 L437.18 410.61 L437.68 410.92 L438.18 411.25 L438.68 411.59 L439.18 411.93 L439.68 412.26 L440.18 412.56 L440.68 412.84 L441.18 413.08 L441.68 413.28 L442.18 413.44 L442.68 413.56 L443.18 413.66 L443.68 413.72 L444.18 413.77 L444.68 413.79 L445.18 413.8 L445.68 413.8 L446.18 413.8 L446.68 413.79 L447.19 413.78 L447.69 413.76 L448.19 413.74 L448.69 413.71 L449.19 413.67 L449.69 413.64 L450.19 413.59 L450.69 413.54 L451.19 413.48 L451.69 413.41 L452.19 413.34 L452.69 413.26 L453.19 413.19 L453.69 413.11 L454.19 413.04 L454.69 412.98 L455.19 412.92 L455.69 412.87 L456.19 412.83 L456.69 412.8 L457.19 412.79 L457.69 412.8 L458.19 412.82 L458.69 412.87 L459.19 412.92 L459.69 412.99 L460.19 413.06 L460.69 413.14 L461.19 413.22 L461.69 413.3 L462.19 413.38 L462.69 413.46 L463.19 413.52 L463.69 413.58 L464.19 413.63 L464.69 413.67 L465.2 413.7 L465.7 413.72 L466.2 413.73 L466.7 413.74 L467.2 413.74 L467.7 413.73 L468.2 413.72 L468.7 413.71 L469.2 413.68 L469.7 413.66 L470.2 413.63 L470.7 413.6 L471.2 413.56 L471.7 413.52 L472.2 413.48 L472.7 413.44 L473.2 413.39 L473.7 413.35 L474.2 413.3" fill="none" stroke="#3a3a3a" stroke-width="1.5" stroke-linejoin="round" />
<path d="M292.6 414.2 L293.1 414.25 L293.6 414.29 L294.1 414.34 L294.6 414.38 L295.1 414.43 L295.6 414.47 L296.1 414.51 L296.6 414.56 L297.1 414.6 L297.6 414.64 L298.1 414.67 L298.6 414.71 L299.1 414.74 L299.6 414.78 L300.1 414.81 L300.6 414.83 L301.1 414.86 L301.6 414.89 L302.11 414.92 L302.61 414.96 L303.11 415.01 L303.61 415.06 L304.11 415.13 L304.61 415.2 L305.11 415.3 L305.61 415.4 L306.11 415.53 L306.61 415.67 L307.11 415.83 L307.61 416.01 L308.11 416.2 L308.61 416.4 L309.11 416.61 L309.61 416.83 L310.11 417.05 L310.61 417.27 L311.11 417.48 L311.61 417.65 L312.11 417.77 L312.61 417.82 L313.11 417.78 L313.61 417.65 L314.11 417.43 L314.61 417.13 L315.11 416.77 L315.61 416.35 L316.11 415.89 L316.61 415.42 L317.11 414.99 L317.61 414.67 L318.11 414.54 L318.61 414.65 L319.11 415.05 L319.61 415.72 L320.12 416.64 L320.62 417.78 L321.12 419.14 L321.62 420.7 L322.12 422.48 L322.62 424.49 L323.12 426.71 L323.62 429.16 L324.12 431.82 L324.62 434.68 L325.12 437.74 L325.62 440.86 L326.12 443.65 L326.62 445.71 L327.12 446.98 L327.62 447.6 L328.12 447.53 L328.62 446.43 L329.12 444.12 L329.62 440.85 L330.12 436.91 L330.62 432.25 L331.12 427.04 L331.62 421.73 L332.12 416.5 L332.62 410.94 L333.12 404.66 L333.62 397.67 L334.12 390.25 L334.62 383.19 L335.12 377.15 L335.62 371.92 L336.12 367.13 L336.62 362.64 L337.12 358.51 L337.62 354.85 L338.13 351.87 L338.63 349.75 L339.13 348.41 L339.63 347.66 L340.13 347.44 L340.63 347.9 L341.13 349.21 L341.63 351.37 L342.13 354.17 L342.63 357.51 L343.13 361.81 L343.63 367.54 L344.13 375.01 L344.63 384.28 L345.13 394.15 L345.63 403.15 L346.13 411.82 L346.63 420.73 L347.13 429.04 L347.63 436.19 L348.13 442.63 L348.63 448.84 L349.13 454.67 L349.63 459.71 L350.13 463.73 L350.63 466.67 L351.13 468.43 L351.63 468.78 L352.13 467.85 L352.63 466.13 L353.13 463.71 L353.63 460.22 L354.13 455.67 L354.63 450.47 L355.13 444.56 L355.63 437.92 L356.13 431.45 L356.64 425.72 L357.14 420.72 L357.64 416.33 L358.14 412.45 L358.64 409.13 L359.14 406.55 L359.64 404.78 L360.14 403.9 L360.64 403.74 L361.14 404.06 L361.64 404.76 L362.14 405.83 L362.64 407.25 L363.14 409.01 L363.64 411.12 L364.14 413.52 L364.64 416.1 L365.14 418.74 L365.64 421.25 L366.14 423.3 L366.64 424.6 L367.14 425.01 L367.64 424.49 L368.14 423.03 L368.64 420.67 L369.14 417.67 L369.64 414.4 L370.14 411.18 L370.64 408.27 L371.14 405.89 L371.64 404 L372.14 402.53 L372.64 401.42 L373.14 400.59 L373.64 400 L374.14 399.65 L374.65 399.57 L375.15 399.76 L375.65 400.26 L376.15 401.06 L376.65 402.12 L377.15 403.39 L377.65 404.82 L378.15 406.35 L378.65 407.95 L379.15 409.57 L379.65 411.16 L380.15 412.65 L380.65 414.01 L381.15 415.23 L381.65 416.32 L382.15 417.27 L382.65 418.1 L383.15 418.79 L383.65 419.36 L384.15 419.78 L384.65 420.07 L385.15 420.21 L385.65 420.21 L386.15 420.06 L386.65 419.77 L387.15 419.38 L387.65 418.89 L388.15 418.32 L388.65 417.7 L389.15 417.03 L389.65 416.35 L390.15 415.65 L390.65 414.96 L391.15 414.3 L391.65 413.68 L392.15 413.11 L392.66 412.6 L393.16 412.17 L393.66 411.83 L394.16 411.6 L394.66 411.48 L395.16 411.48 L395.66 411.61 L396.16 411.86 L396.66 412.25 L397.16 412.78 L397.66 413.44 L398.16 414.25 L398.66 415.19 L399.16 416.26 L399.66 417.42 L400.16 418.64 L400.66 419.9 L401.16 421.11 L401.66 422.1 L402.16 422.68 L402.66 422.71 L403.16 422.25 L403.66 421.42 L404.16 420.33 L404.66 419.09 L405.16 417.81 L405.66 416.52 L406.16 415.3 L406.66 414.17 L407.16 413.2 L407.66 412.42 L408.16 411.79 L408.66 411.3 L409.16 410.93 L409.66 410.66 L410.16 410.46 L410.67 410.33 L411.17 410.27 L411.67 410.28 L412.17 410.36 L412.67 410.51 L413.17 410.73 L413.67 411.02 L414.17 411.38 L414.67 411.79 L415.17 412.25 L415.67 412.75 L416.17 413.28 L416.67 413.83 L417.17 414.39 L417.67 414.96 L418.17 415.53 L418.67 416.1 L419.17 416.66 L419.67 417.2 L420.17 417.73 L420.67 418.23 L421.17 418.7 L421.67 419.15 L422.17 419.55 L422.67 419.91 L423.17 420.23 L423.67 420.49 L424.17 420.69 L424.67 420.83 L425.17 420.89 L425.67 420.89 L426.17 420.8 L426.67 420.63 L427.17 420.37 L427.67 420.04 L428.17 419.63 L428.67 419.16 L429.18 418.63 L429.68 418.05 L430.18 417.42 L430.68 416.76 L431.18 416.08 L431.68 415.39 L432.18 414.72 L432.68 414.07 L433.18 413.48 L433.68 412.96 L434.18 412.52 L434.68 412.2 L435.18 411.99 L435.68 411.89 L436.18 411.91 L436.68 412.03 L437.18 412.24 L437.68 412.55 L438.18 412.95 L438.68 413.43 L439.18 413.98 L439.68 414.56 L440.18 415.18 L440.68 415.8 L441.18 416.42 L441.68 417.01 L442.18 417.55 L442.68 418.01 L443.18 418.36 L443.68 418.57 L444.18 418.63 L444.68 418.54 L445.18 418.33 L445.68 418.03 L446.18 417.65 L446.68 417.22 L447.19 416.78 L447.69 416.34 L448.19 415.92 L448.69 415.55 L449.19 415.22 L449.69 414.96 L450.19 414.79 L450.69 414.7 L451.19 414.72 L451.69 414.87 L452.19 415.13 L452.69 415.48 L453.19 415.9 L453.69 416.36 L454.19 416.83 L454.69 417.28 L455.19 417.69 L455.69 418.02 L456.19 418.26 L456.69 418.38 L457.19 418.38 L457.69 418.28 L458.19 418.1 L458.69 417.87 L459.19 417.58 L459.69 417.28 L460.19 416.97 L460.69 416.67 L461.19 416.4 L461.69 416.18 L462.19 415.99 L462.69 415.84 L463.19 415.72 L463.69 415.62 L464.19 415.56 L464.69 415.51 L465.2 415.49 L465.7 415.48 L466.2 415.48 L466.7 415.49 L467.2 415.51 L467.7 415.53 L468.2 415.55 L468.7 415.58 L469.2 415.61 L469.7 415.64 L470.2 415.67 L470.7 415.71 L471.2 415.75 L471.7 415.79 L472.2 415.83 L472.7 415.87 L473.2 415.91 L473.7 415.96 L474.2 416" fill="none" stroke="#3a3a3a" stroke-width="1.5" stroke-linejoin="round" />
<g fill="#fff" stroke="#f09494" stroke-width="0.85"><circle cx="292.6" cy="412.8" r="2.45"/><circle cx="293.7" cy="412.6" r="2.45"/><circle cx="294.8" cy="412.4" r="2.45"/><circle cx="295.9" cy="412.1" r="2.45"/><circle cx="297.1" cy="411.9" r="2.45"/><circle cx="298.2" cy="411.8" r="2.45"/><circle cx="299.3" cy="411.6" r="2.45"/><circle cx="300.4" cy="411.5" r="2.45"/><circle cx="301.5" cy="411.3" r="2.45"/><circle cx="302.6" cy="411.2" r="2.45"/><circle cx="303.7" cy="410.9" r="2.45"/><circle cx="304.9" cy="410.6" r="2.45"/><circle cx="306.0" cy="410.3" r="2.45"/><circle cx="307.1" cy="409.8" r="2.45"/><circle cx="308.2" cy="409.4" r="2.45"/><circle cx="309.3" cy="408.9" r="2.45"/><circle cx="310.4" cy="408.3" r="2.45"/><circle cx="311.5" cy="407.8" r="2.45"/><circle cx="312.7" cy="407.2" r="2.45"/><circle cx="313.8" cy="406.5" r="2.45"/><circle cx="314.9" cy="405.9" r="2.45"/><circle cx="316.0" cy="405.5" r="2.45"/><circle cx="317.1" cy="405.2" r="2.45"/><circle cx="318.2" cy="404.8" r="2.45"/><circle cx="319.3" cy="403.9" r="2.45"/><circle cx="320.5" cy="402.2" r="2.45"/><circle cx="321.6" cy="399.6" r="2.45"/><circle cx="322.7" cy="396.5" r="2.45"/><circle cx="323.8" cy="392.9" r="2.45"/><circle cx="324.9" cy="389.0" r="2.45"/><circle cx="326.0" cy="385.2" r="2.45"/><circle cx="327.1" cy="381.4" r="2.45"/><circle cx="328.3" cy="377.2" r="2.45"/><circle cx="329.4" cy="372.6" r="2.45"/><circle cx="330.5" cy="368.2" r="2.45"/><circle cx="331.6" cy="364.2" r="2.45"/><circle cx="332.7" cy="361.0" r="2.45"/><circle cx="333.8" cy="358.2" r="2.45"/><circle cx="334.9" cy="355.5" r="2.45"/><circle cx="336.1" cy="352.9" r="2.45"/><circle cx="337.2" cy="350.5" r="2.45"/><circle cx="338.3" cy="348.7" r="2.45"/><circle cx="339.4" cy="347.5" r="2.45"/><circle cx="340.5" cy="346.7" r="2.45"/><circle cx="341.6" cy="346.2" r="2.45"/><circle cx="342.7" cy="346.3" r="2.45"/><circle cx="343.9" cy="346.8" r="2.45"/><circle cx="345.0" cy="347.8" r="2.45"/><circle cx="346.1" cy="349.1" r="2.45"/><circle cx="347.2" cy="351.0" r="2.45"/><circle cx="348.3" cy="353.5" r="2.45"/><circle cx="349.4" cy="357.0" r="2.45"/><circle cx="350.5" cy="361.2" r="2.45"/><circle cx="351.7" cy="365.5" r="2.45"/><circle cx="352.8" cy="369.7" r="2.45"/><circle cx="353.9" cy="374.2" r="2.45"/><circle cx="355.0" cy="378.8" r="2.45"/><circle cx="356.1" cy="383.1" r="2.45"/><circle cx="357.2" cy="388.0" r="2.45"/><circle cx="358.4" cy="393.3" r="2.45"/><circle cx="359.5" cy="397.9" r="2.45"/><circle cx="360.6" cy="401.2" r="2.45"/><circle cx="361.7" cy="402.9" r="2.45"/><circle cx="362.8" cy="403.6" r="2.45"/><circle cx="363.9" cy="403.3" r="2.45"/><circle cx="365.0" cy="402.2" r="2.45"/><circle cx="366.2" cy="400.6" r="2.45"/><circle cx="367.3" cy="398.8" r="2.45"/><circle cx="368.4" cy="397.4" r="2.45"/><circle cx="369.5" cy="396.6" r="2.45"/><circle cx="370.6" cy="396.4" r="2.45"/><circle cx="371.7" cy="396.7" r="2.45"/><circle cx="372.8" cy="397.4" r="2.45"/><circle cx="374.0" cy="398.6" r="2.45"/><circle cx="375.1" cy="400.0" r="2.45"/><circle cx="376.2" cy="401.4" r="2.45"/><circle cx="377.3" cy="402.9" r="2.45"/><circle cx="378.4" cy="404.2" r="2.45"/><circle cx="379.5" cy="405.5" r="2.45"/><circle cx="380.6" cy="406.7" r="2.45"/><circle cx="381.8" cy="407.7" r="2.45"/><circle cx="382.9" cy="408.7" r="2.45"/><circle cx="384.0" cy="409.6" r="2.45"/><circle cx="385.1" cy="410.4" r="2.45"/><circle cx="386.2" cy="411.1" r="2.45"/><circle cx="387.3" cy="411.8" r="2.45"/><circle cx="388.4" cy="412.4" r="2.45"/><circle cx="389.6" cy="412.8" r="2.45"/><circle cx="390.7" cy="413.2" r="2.45"/><circle cx="391.8" cy="413.4" r="2.45"/><circle cx="392.9" cy="413.6" r="2.45"/><circle cx="394.0" cy="413.7" r="2.45"/><circle cx="395.1" cy="413.7" r="2.45"/><circle cx="396.2" cy="413.8" r="2.45"/><circle cx="397.4" cy="413.8" r="2.45"/><circle cx="398.5" cy="413.8" r="2.45"/><circle cx="399.6" cy="413.9" r="2.45"/><circle cx="400.7" cy="413.9" r="2.45"/><circle cx="401.8" cy="413.9" r="2.45"/><circle cx="402.9" cy="414.0" r="2.45"/><circle cx="404.0" cy="414.0" r="2.45"/><circle cx="405.2" cy="414.0" r="2.45"/><circle cx="406.3" cy="414.0" r="2.45"/><circle cx="407.4" cy="414.0" r="2.45"/><circle cx="408.5" cy="414.0" r="2.45"/><circle cx="409.6" cy="414.0" r="2.45"/><circle cx="410.7" cy="414.0" r="2.45"/><circle cx="411.8" cy="414.0" r="2.45"/><circle cx="413.0" cy="414.0" r="2.45"/><circle cx="414.1" cy="414.0" r="2.45"/><circle cx="415.2" cy="414.0" r="2.45"/><circle cx="416.3" cy="414.0" r="2.45"/><circle cx="417.4" cy="414.0" r="2.45"/><circle cx="418.5" cy="414.0" r="2.45"/><circle cx="419.6" cy="414.0" r="2.45"/><circle cx="420.8" cy="414.0" r="2.45"/><circle cx="421.9" cy="414.0" r="2.45"/><circle cx="423.0" cy="414.0" r="2.45"/><circle cx="424.1" cy="414.0" r="2.45"/><circle cx="425.2" cy="414.0" r="2.45"/><circle cx="426.3" cy="414.0" r="2.45"/><circle cx="427.4" cy="414.0" r="2.45"/><circle cx="428.6" cy="414.0" r="2.45"/><circle cx="429.7" cy="414.0" r="2.45"/><circle cx="430.8" cy="414.0" r="2.45"/><circle cx="431.9" cy="414.0" r="2.45"/><circle cx="433.0" cy="414.0" r="2.45"/><circle cx="434.1" cy="414.0" r="2.45"/><circle cx="435.2" cy="414.0" r="2.45"/><circle cx="436.4" cy="414.0" r="2.45"/><circle cx="437.5" cy="414.0" r="2.45"/><circle cx="438.6" cy="414.0" r="2.45"/><circle cx="439.7" cy="414.0" r="2.45"/><circle cx="440.8" cy="414.0" r="2.45"/><circle cx="441.9" cy="414.0" r="2.45"/><circle cx="443.0" cy="414.0" r="2.45"/><circle cx="444.2" cy="414.0" r="2.45"/><circle cx="445.3" cy="414.0" r="2.45"/><circle cx="446.4" cy="414.0" r="2.45"/><circle cx="447.5" cy="414.0" r="2.45"/><circle cx="448.6" cy="414.0" r="2.45"/><circle cx="449.7" cy="414.0" r="2.45"/><circle cx="450.8" cy="414.0" r="2.45"/><circle cx="452.0" cy="414.0" r="2.45"/><circle cx="453.1" cy="414.0" r="2.45"/><circle cx="454.2" cy="414.0" r="2.45"/><circle cx="455.3" cy="414.0" r="2.45"/><circle cx="456.4" cy="414.0" r="2.45"/><circle cx="457.5" cy="414.0" r="2.45"/><circle cx="458.6" cy="414.1" r="2.45"/><circle cx="459.8" cy="414.1" r="2.45"/><circle cx="460.9" cy="414.1" r="2.45"/><circle cx="462.0" cy="414.1" r="2.45"/><circle cx="463.1" cy="414.1" r="2.45"/><circle cx="464.2" cy="414.1" r="2.45"/><circle cx="465.3" cy="414.1" r="2.45"/><circle cx="466.4" cy="414.1" r="2.45"/><circle cx="467.6" cy="414.1" r="2.45"/><circle cx="468.7" cy="414.1" r="2.45"/><circle cx="469.8" cy="414.1" r="2.45"/><circle cx="470.9" cy="414.1" r="2.45"/><circle cx="472.0" cy="414.1" r="2.45"/><circle cx="473.1" cy="414.1" r="2.45"/><circle cx="474.2" cy="414.1" r="2.45"/></g>
<g fill="#fff" stroke="#62cdf4" stroke-width="0.85"><circle cx="292.6" cy="414.4" r="2.45"/><circle cx="293.7" cy="414.6" r="2.45"/><circle cx="294.8" cy="414.9" r="2.45"/><circle cx="295.9" cy="415.1" r="2.45"/><circle cx="297.1" cy="415.4" r="2.45"/><circle cx="298.2" cy="415.6" r="2.45"/><circle cx="299.3" cy="415.9" r="2.45"/><circle cx="300.4" cy="416.2" r="2.45"/><circle cx="301.5" cy="416.5" r="2.45"/><circle cx="302.6" cy="416.9" r="2.45"/><circle cx="303.7" cy="417.3" r="2.45"/><circle cx="304.9" cy="417.8" r="2.45"/><circle cx="306.0" cy="418.4" r="2.45"/><circle cx="307.1" cy="419.1" r="2.45"/><circle cx="308.2" cy="419.8" r="2.45"/><circle cx="309.3" cy="420.4" r="2.45"/><circle cx="310.4" cy="421.0" r="2.45"/><circle cx="311.5" cy="421.5" r="2.45"/><circle cx="312.7" cy="422.1" r="2.45"/><circle cx="313.8" cy="422.8" r="2.45"/><circle cx="314.9" cy="423.7" r="2.45"/><circle cx="316.0" cy="424.6" r="2.45"/><circle cx="317.1" cy="425.6" r="2.45"/><circle cx="318.2" cy="426.5" r="2.45"/><circle cx="319.3" cy="427.5" r="2.45"/><circle cx="320.5" cy="428.6" r="2.45"/><circle cx="321.6" cy="430.2" r="2.45"/><circle cx="322.7" cy="432.3" r="2.45"/><circle cx="323.8" cy="435.0" r="2.45"/><circle cx="324.9" cy="438.7" r="2.45"/><circle cx="326.0" cy="443.4" r="2.45"/><circle cx="327.1" cy="447.0" r="2.45"/><circle cx="328.3" cy="447.4" r="2.45"/><circle cx="329.4" cy="442.5" r="2.45"/><circle cx="330.5" cy="433.5" r="2.45"/><circle cx="331.6" cy="421.9" r="2.45"/><circle cx="332.7" cy="409.8" r="2.45"/><circle cx="333.8" cy="394.6" r="2.45"/><circle cx="334.9" cy="379.2" r="2.45"/><circle cx="336.1" cy="367.7" r="2.45"/><circle cx="337.2" cy="358.1" r="2.45"/><circle cx="338.3" cy="351.1" r="2.45"/><circle cx="339.4" cy="347.9" r="2.45"/><circle cx="340.5" cy="347.7" r="2.45"/><circle cx="341.6" cy="351.4" r="2.45"/><circle cx="342.7" cy="358.4" r="2.45"/><circle cx="343.9" cy="370.8" r="2.45"/><circle cx="345.0" cy="391.2" r="2.45"/><circle cx="346.1" cy="411.2" r="2.45"/><circle cx="347.2" cy="430.2" r="2.45"/><circle cx="348.3" cy="445.0" r="2.45"/><circle cx="349.4" cy="457.8" r="2.45"/><circle cx="350.5" cy="466.3" r="2.45"/><circle cx="351.7" cy="468.8" r="2.45"/><circle cx="352.8" cy="465.5" r="2.45"/><circle cx="353.9" cy="458.0" r="2.45"/><circle cx="355.0" cy="446.2" r="2.45"/><circle cx="356.1" cy="431.6" r="2.45"/><circle cx="357.2" cy="419.8" r="2.45"/><circle cx="358.4" cy="410.9" r="2.45"/><circle cx="359.5" cy="405.3" r="2.45"/><circle cx="360.6" cy="403.7" r="2.45"/><circle cx="361.7" cy="404.9" r="2.45"/><circle cx="362.8" cy="407.8" r="2.45"/><circle cx="363.9" cy="412.4" r="2.45"/><circle cx="365.0" cy="418.2" r="2.45"/><circle cx="366.2" cy="423.3" r="2.45"/><circle cx="367.3" cy="425.0" r="2.45"/><circle cx="368.4" cy="422.0" r="2.45"/><circle cx="369.5" cy="415.4" r="2.45"/><circle cx="370.6" cy="408.5" r="2.45"/><circle cx="371.7" cy="403.7" r="2.45"/><circle cx="372.8" cy="401.1" r="2.45"/><circle cx="374.0" cy="399.8" r="2.45"/><circle cx="375.1" cy="399.7" r="2.45"/><circle cx="376.2" cy="401.1" r="2.45"/><circle cx="377.3" cy="403.8" r="2.45"/><circle cx="378.4" cy="407.2" r="2.45"/><circle cx="379.5" cy="410.8" r="2.45"/><circle cx="380.6" cy="414.0" r="2.45"/><circle cx="381.8" cy="416.4" r="2.45"/><circle cx="382.9" cy="418.3" r="2.45"/><circle cx="384.0" cy="419.2" r="2.45"/><circle cx="385.1" cy="419.3" r="2.45"/><circle cx="386.2" cy="419.0" r="2.45"/><circle cx="387.3" cy="418.4" r="2.45"/><circle cx="388.4" cy="417.6" r="2.45"/><circle cx="389.6" cy="416.6" r="2.45"/><circle cx="390.7" cy="415.6" r="2.45"/><circle cx="391.8" cy="414.8" r="2.45"/><circle cx="392.9" cy="414.1" r="2.45"/><circle cx="394.0" cy="413.6" r="2.45"/><circle cx="395.1" cy="413.3" r="2.45"/><circle cx="396.2" cy="413.5" r="2.45"/><circle cx="397.4" cy="414.0" r="2.45"/><circle cx="398.5" cy="414.9" r="2.45"/><circle cx="399.6" cy="415.9" r="2.45"/><circle cx="400.7" cy="416.9" r="2.45"/><circle cx="401.8" cy="417.7" r="2.45"/><circle cx="402.9" cy="418.4" r="2.45"/><circle cx="404.0" cy="418.7" r="2.45"/><circle cx="405.2" cy="418.5" r="2.45"/><circle cx="406.3" cy="417.8" r="2.45"/><circle cx="407.4" cy="416.8" r="2.45"/><circle cx="408.5" cy="415.7" r="2.45"/><circle cx="409.6" cy="414.9" r="2.45"/><circle cx="410.7" cy="414.4" r="2.45"/><circle cx="411.8" cy="414.4" r="2.45"/><circle cx="413.0" cy="414.8" r="2.45"/><circle cx="414.1" cy="415.6" r="2.45"/><circle cx="415.2" cy="416.3" r="2.45"/><circle cx="416.3" cy="416.9" r="2.45"/><circle cx="417.4" cy="417.4" r="2.45"/><circle cx="418.5" cy="417.8" r="2.45"/><circle cx="419.6" cy="417.9" r="2.45"/><circle cx="420.8" cy="417.8" r="2.45"/><circle cx="421.9" cy="417.3" r="2.45"/><circle cx="423.0" cy="416.8" r="2.45"/><circle cx="424.1" cy="416.5" r="2.45"/><circle cx="425.2" cy="416.4" r="2.45"/><circle cx="426.3" cy="416.4" r="2.45"/><circle cx="427.4" cy="416.3" r="2.45"/><circle cx="428.6" cy="416.1" r="2.45"/><circle cx="429.7" cy="415.8" r="2.45"/><circle cx="430.8" cy="415.5" r="2.45"/><circle cx="431.9" cy="415.2" r="2.45"/><circle cx="433.0" cy="415.1" r="2.45"/><circle cx="434.1" cy="415.2" r="2.45"/><circle cx="435.2" cy="415.3" r="2.45"/><circle cx="436.4" cy="415.6" r="2.45"/><circle cx="437.5" cy="415.8" r="2.45"/><circle cx="438.6" cy="416.0" r="2.45"/><circle cx="439.7" cy="416.2" r="2.45"/><circle cx="440.8" cy="416.3" r="2.45"/><circle cx="441.9" cy="416.3" r="2.45"/><circle cx="443.0" cy="416.3" r="2.45"/><circle cx="444.2" cy="416.3" r="2.45"/><circle cx="445.3" cy="416.2" r="2.45"/><circle cx="446.4" cy="416.1" r="2.45"/><circle cx="447.5" cy="416.1" r="2.45"/><circle cx="448.6" cy="416.1" r="2.45"/><circle cx="449.7" cy="416.1" r="2.45"/><circle cx="450.8" cy="416.1" r="2.45"/><circle cx="452.0" cy="416.1" r="2.45"/><circle cx="453.1" cy="416.1" r="2.45"/><circle cx="454.2" cy="416.2" r="2.45"/><circle cx="455.3" cy="416.2" r="2.45"/><circle cx="456.4" cy="416.3" r="2.45"/><circle cx="457.5" cy="416.3" r="2.45"/><circle cx="458.6" cy="416.3" r="2.45"/><circle cx="459.8" cy="416.3" r="2.45"/><circle cx="460.9" cy="416.3" r="2.45"/><circle cx="462.0" cy="416.2" r="2.45"/><circle cx="463.1" cy="416.2" r="2.45"/><circle cx="464.2" cy="416.2" r="2.45"/><circle cx="465.3" cy="416.2" r="2.45"/><circle cx="466.4" cy="416.2" r="2.45"/><circle cx="467.6" cy="416.2" r="2.45"/><circle cx="468.7" cy="416.2" r="2.45"/><circle cx="469.8" cy="416.2" r="2.45"/><circle cx="470.9" cy="416.2" r="2.45"/><circle cx="472.0" cy="416.2" r="2.45"/><circle cx="473.1" cy="416.2" r="2.45"/><circle cx="474.2" cy="416.2" r="2.45"/></g>
</g>
<rect x="292.3" y="312.9" width="181.9" height="186.7" stroke="#000" stroke-width="1.4" fill="none" />
<line x1="362.3" y1="322.5" x2="390.4" y2="322.5" stroke="#333" stroke-width="1.5" />
<text x="394.9" y="326.8" font-size="12.8" fill="#000" >SiO<tspan dy="4.35" font-size="8.70">2</tspan><tspan dy="-4.35">/FeNSiC</tspan></text>
<circle cx="376.6" cy="341.1" r="2.5" fill="#fff" stroke="#f08080" stroke-width="0.9"/>
<circle cx="376.6" cy="356.6" r="2.5" fill="#fff" stroke="#5bd0f5" stroke-width="0.9"/>
<text x="394.9" y="345.2" font-size="12.8" fill="#000" >fit. magnitude</text>
<text x="394.9" y="361" font-size="12.8" fill="#000" >fit. imag.</text>
<defs><filter id="cblur" x="-5%" y="-5%" width="110%" height="110%"><feGaussianBlur stdDeviation="0.9"/></filter></defs>
<defs><clipPath id="clipe"><rect x="538.3" y="23.2" width="131.20" height="94.00"/></clipPath></defs>
<g clip-path="url(#clipe)">
<g filter="url(#cblur)">
<rect x="532.3" y="17.2" width="143.20" height="106.00" fill="#ccff4a"/>
<path d="M580.4 85.6 599.5 85.8 614.3 84.7 626.9 83 654.2 82.4 664.6 81.4 675 79.5 675 18.7 561.8 18.7 558 31.5 555.8 36.3 552.7 40.5 542.8 51 538.9 57 537.1 62.3 537.2 67.6 538.9 71.3 541.5 74.3 545.6 77.3 550.9 79.9 557.4 82.1 564 83.7 580.3 85.6Z" fill="#cbf84e" fill-rule="evenodd"/>
<path d="M584.8 80.4 602.8 80.7 614.3 79.9 626.9 78.3 652.6 77.7 665.1 76.3 675 74.1 675 24.9 667.3 22.8 659.1 21.4 633.4 19.8 627.9 18.7 572.4 18.7 569.6 24 565.9 34.5 564 38.6 554.3 51.8 552 55.5 550.4 60 550.3 64.6 551.4 67.6 553.6 70.5 556.6 72.8 560.2 74.8 565.1 76.8 571.1 78.4 584.7 80.4Z" fill="#caf153" fill-rule="evenodd"/>
<path d="M585.3 77.4 594.1 78 604.4 78 615.9 77.2 626.9 75.8 650.9 75.3 663.5 73.9 675 71.1 675 28.3 666.8 25.9 657.5 24.2 623 21.8 620.3 20.9 617.7 18.7 608.9 18.7 606.3 22.4 602.3 23.7 596.8 23.7 584.8 22.1 581.5 22.4 579.4 23.2 577.5 24.7 575.5 27.2 569 39.7 559.7 53.3 557.7 57.8 557.1 62.3 557.9 65.3 559.3 67.6 561.6 69.8 565.1 72.1 573.8 75.3 585.1 77.3Z" fill="#c9ea57" fill-rule="evenodd"/>
<path d="M593 75.9 607.2 76 626.9 74 653.1 73.3 665.1 71.6 675 68.8 675 30.9 666.8 28.1 656.9 26.3 646 25.3 626.9 24.6 616.5 25.5 602.8 27.6 588 28.6 584.2 29.5 581.5 30.6 577.1 34.7 565 51.8 562.4 57.8 562.1 60.8 562.4 63.1 563.4 65.3 565.2 67.6 568.2 69.8 571.6 71.6 580.4 74.2 592.6 75.8Z" fill="#c9e35d" fill-rule="evenodd"/>
<path d="M595.7 74.4 608.8 74.4 626.9 72.6 642.2 72.4 653.1 71.8 665.1 69.9 675 66.9 675 33 666.2 29.9 656.4 27.9 644.9 26.9 626.9 26.3 593.5 31.5 588.6 32.7 584.2 34.5 580.9 36.7 578.2 39.2 569.5 50.3 566.4 57 566 60 566.3 62.3 567.4 64.6 569.3 66.8 575.5 70.5 584.2 73 595.4 74.3Z" fill="#c8db63" fill-rule="evenodd"/>
<path d="M594.6 72.8 608.8 73.1 626.9 71.4 652 70.6 664.6 68.7 675 65.2 675 35 666.8 31.6 656.4 29.4 644.9 28.3 626.9 27.8 599.5 32.6 593 34.3 587.5 36.3 580.4 41 574.1 48 570.3 54.8 569.5 57.8 569.5 60.8 570.2 63.1 571.9 65.3 577.1 68.8 584.8 71.3 594.6 72.8Z" fill="#c7d367" fill-rule="evenodd"/>
<path d="M593.5 71.4 608.8 72 626.9 70.3 650.4 69.7 662.4 67.9 672.2 64.9 675 63.6 675 36.8 666.8 33.1 656.4 30.7 644.9 29.5 626.9 29 604.4 33.2 591.3 37.1 584.2 41 578.2 46.5 573.7 53.3 572.6 56.3 572.3 59.3 573.5 63.1 575.5 65.2 577.7 66.8 584.2 69.6 593 71.3Z" fill="#c6cb6b" fill-rule="evenodd"/>
<path d="M597.3 70.6 610.5 70.9 626.9 69.3 649.8 68.7 661.3 67.1 670.6 64.3 675 62.1 675 38.5 667.3 34.7 656.9 31.9 644.9 30.6 626.9 30.2 607.2 33.9 594.1 37.9 586.4 41.9 580.2 47.3 576.2 53.3 575.2 56.3 575 59.3 575.7 61.6 577.1 63.7 581.5 66.8 588.6 69.2 597.1 70.6Z" fill="#c5c36f" fill-rule="evenodd"/>
<path d="M601.2 69.8 612.1 69.9 626.9 68.4 649.8 67.8 660.2 66.3 669 63.7 675 60.5 675 40.3 668.4 36.4 659.7 33.6 649.3 32 636.7 31.3 626.9 31.2 621.4 32.1 607.7 35 596.2 38.6 588.2 42.8 582.1 48 579.8 51 578.2 54 577.5 57 577.5 59.3 578.4 61.6 579.5 63.1 584.2 66.3 591.3 68.5 601 69.8Z" fill="#c3bb70" fill-rule="evenodd"/>
<path d="M605.5 69.1 615.9 68.8 626.9 67.6 649.8 66.9 659.1 65.5 667.3 63.2 671.7 61.1 675 58.9 675 42.1 669.4 38.2 661.8 35.3 652.6 33.4 641.1 32.4 626.9 32.1 624.7 32.5 610.5 35.4 599 38.9 590.8 42.9 584.4 48 582 51 580.5 54 579.8 57 579.9 59.3 580.9 61.5 582.3 63.1 587.5 66.1 595.2 68.1 605.2 69.1Z" fill="#c2b270" fill-rule="evenodd"/>
<path d="M598.4 67.6 611.6 68.2 626.9 66.8 645.4 66.4 655.3 65.4 663.5 63.5 670 60.8 675 57.1 675 44.2 670.9 40.5 664.6 37.3 656.9 35.1 648.2 33.8 626.9 33 616.5 34.9 606.1 37.6 597.3 40.9 590.2 45 585.3 49.5 582.3 54.8 582 57 582.2 59.3 583.5 61.6 585.1 63.1 590.8 65.9 598.3 67.6Z" fill="#c0aa70" fill-rule="evenodd"/>
<path d="M600.1 66.8 612.1 67.4 626.9 66.1 643.8 65.8 653.1 64.9 660.8 63.3 669 60.2 673.8 56.3 675 54.6 675 46.9 671.7 42.8 667.3 39.7 660.8 37.1 652.6 35.2 642.2 34.2 626.9 33.9 611.6 37 601.7 40.2 593.6 44.3 588.1 48.8 586.2 51 584.6 54 584.1 56.3 584.2 58.5 585.3 60.7 586.8 62.3 592.4 65.1 599.9 66.8Z" fill="#bea16f" fill-rule="evenodd"/>
<path d="M601.7 66.1 613.2 66.6 626.9 65.4 643.3 65.1 651.5 64.3 658.6 63 666.2 60.4 671.4 57 674 53.3 674.4 51 674 48.8 672.1 45 667.9 41.3 662.4 38.6 655.3 36.6 643.8 35.2 626.9 34.7 615.9 36.8 605.5 39.9 597.3 43.5 590.9 48 587.3 52.5 586.4 54.8 586.1 57 586.7 59.3 588 61.1 593 64.1 601.2 66.1Z" fill="#bb996d" fill-rule="evenodd"/>
<path d="M602.8 65.4 615.9 65.8 626.9 64.7 646 64.1 656.9 62.6 664.6 60.1 669.5 57.1 672.4 53.3 672.6 49.5 670.9 45.8 667.3 42.3 662.4 39.7 655.8 37.7 646 36.1 633.4 35.6 626.9 35.5 618.1 37.1 607.7 40.1 599.5 43.5 592.9 48 589.2 52.5 588.3 54.8 588.1 57 588.8 59.3 590.1 60.8 595.2 63.6 602.4 65.3Z" fill="#b8906c" fill-rule="evenodd"/>
<path d="M603.4 64.6 609.4 65.1 616.5 65 626.9 64 644.9 63.5 655.8 62 662.4 60 667.8 57 670.8 53.3 671.1 49.5 669.2 45.8 665.9 42.8 661.3 40.3 654.7 38.3 645.4 36.9 634 36.4 626.9 36.3 619.2 37.7 609.9 40.2 601.7 43.6 595.7 47.3 591.5 51.8 590.4 54 590 56.3 590.5 58.5 591.6 60 596.2 62.8 603.3 64.6Z" fill="#b28a6d" fill-rule="evenodd"/>
<path d="M604.4 63.8 617 64.3 626.9 63.3 644.4 62.9 654.7 61.5 661.9 59.3 666.8 56.4 669.2 53.3 669.6 51.8 669.5 49.5 668.1 46.5 665 43.5 660.2 40.9 654.2 39.1 646 37.8 635.6 37.2 626.9 37.1 620.3 38.3 611 40.8 602.8 44.1 596.8 48 593.3 51.8 592.2 54 591.9 56.3 593.2 59.3 597.3 62 604.2 63.8Z" fill="#ad856f" fill-rule="evenodd"/>
<path d="M605.5 63.1 617.6 63.6 626.9 62.6 643.8 62.2 654.2 60.8 660.8 58.8 665.1 56.3 667.6 53.3 668.1 51.8 667.9 49.5 666.4 46.5 663 43.5 658.6 41.3 653.1 39.7 645.4 38.5 635.6 37.9 626.9 37.8 620.8 38.9 612.1 41.3 604.7 44.3 598.6 48 595.1 51.8 593.8 55.5 594 57 595.2 59 599.2 61.6 605.1 63.1Z" fill="#a67f70" fill-rule="evenodd"/>
<path d="M606.1 62.3 617.6 62.9 626.9 62 643.3 61.6 653.1 60.2 659.7 58.2 664 55.6 666.3 52.5 666.3 49.5 664.7 46.5 661.8 44.1 657.7 42 652 40.3 644.9 39.2 635.6 38.7 626.9 38.6 621.4 39.6 612.6 42 605.5 44.9 600.5 48 596.9 51.8 595.7 55.5 596 57 596.9 58.5 600.4 60.8 605.9 62.3Z" fill="#9e7970" fill-rule="evenodd"/>
<path d="M607.2 61.6 618.1 62.2 626.9 61.3 642.7 60.9 651.5 59.8 657.5 58.1 661.8 55.9 664.3 53.3 664.8 50.3 663.5 47.3 661.2 45 657.5 43 652.6 41.3 646.5 40.2 639.4 39.6 626.9 39.3 623.6 39.9 615.4 41.9 608.8 44.4 603.4 47.3 599.3 51 597.6 54.8 597.7 56.3 598.5 57.8 601.7 60 606.8 61.6Z" fill="#957370" fill-rule="evenodd"/>
<path d="M608.3 60.9 618.7 61.4 626.9 60.6 642.2 60.3 650.4 59.2 655.8 57.8 660.3 55.5 662.5 53.3 663.2 50.3 662.3 48 659.7 45.4 656.1 43.5 651.5 42 638.9 40.3 626.9 40.1 624.1 40.6 616.5 42.4 609.6 45 604.3 48 601.1 51 599.6 54 599.5 55.5 600.1 57 603 59.3 607.8 60.8Z" fill="#8c6c6f" fill-rule="evenodd"/>
<path d="M609.4 60.1 619.2 60.7 626.9 59.9 641.1 59.6 649.3 58.6 654.7 57.2 658.6 55.3 660.8 53.2 661.4 51.8 661.4 50.3 660.4 48 658 45.8 654.7 44.1 650.4 42.7 638.9 41.1 626.9 40.9 624.6 41.2 618.1 42.8 611.6 45.1 606.3 48 602.9 51 601.5 54 601.8 56.3 604.4 58.5 608.9 60Z" fill="#83636c" fill-rule="evenodd"/>
<path d="M610.5 59.4 619.2 60 626.9 59.2 640.5 58.9 648.2 58 653.6 56.5 657.1 54.8 659.2 52.5 659.5 50.3 658.4 48 656.4 46.2 653.1 44.6 649.3 43.4 638.3 41.9 626.9 41.7 624.9 42 618.6 43.5 612.4 45.8 608.3 48 604.9 51 603.5 54 604.1 56.3 606.1 57.9 610.1 59.3Z" fill="#7a5a69" fill-rule="evenodd"/>
<path d="M611.6 58.5 619.8 59.2 626.9 58.5 640 58.2 647.1 57.3 651.5 56.2 655.3 54.4 657.2 52.5 657.5 50.3 656.2 48 654.4 46.5 648.2 44.1 637.8 42.8 625.2 42.8 619.1 44.3 613.7 46.2 609.3 48.8 606.8 51 605.7 53.3 605.9 55.5 607.7 57.2 611.6 58.5Z" fill="#705065" fill-rule="evenodd"/>
<path d="M613.7 57.9 620.8 58.3 638.9 57.4 646 56.6 650.2 55.5 653.3 54 654.9 52.5 655.3 50.3 654.5 48.8 652.8 47.3 646.5 44.8 637.2 43.6 625.8 43.6 620.3 44.8 615.6 46.5 611.5 48.8 608.9 51 607.8 53.3 608.3 55.3 610.5 56.9 613.3 57.8Z" fill="#664660" fill-rule="evenodd"/>
<path d="M615.9 57.1 621.9 57.4 638.3 56.6 644.4 55.9 648.7 54.8 651.5 53.4 652.8 51.8 652.8 50.3 651.9 48.8 649.8 47.3 644.9 45.6 636.7 44.6 625.8 44.6 616.7 47.3 613.9 48.8 611.2 51 610.2 53.3 610.6 54.8 612.6 56.2 615.5 57Z" fill="#5c3c5b" fill-rule="evenodd"/>
<path d="M619.2 56.3 636.2 55.7 642.7 55 648.2 53.3 649.3 52.5 650 51 649.4 49.5 648.2 48.5 642.9 46.5 635.6 45.6 625.8 45.6 618 48 615.4 49.5 613.2 51.8 612.9 53.3 613.8 54.8 615.9 55.7 619.1 56.3Z" fill="#533155" fill-rule="evenodd"/>
<path d="M619.2 54.8 623.6 55.1 639.4 54.2 644.4 52.9 646 51.8 646.3 51 644.9 49.2 641.1 47.7 635.6 47 626.9 46.7 620.8 48.4 616.8 51 616.1 52.5 616.2 53.3 618.9 54.8Z" fill="#4b254e" fill-rule="evenodd"/>
<path d="M623 53.3 636.2 52.7 639.4 51.9 640.3 51 639.4 50.1 636.7 49.2 626.9 48.5 623.2 49.5 621 51 620.8 52.5 622.6 53.3Z" fill="#421a48" fill-rule="evenodd"/>
</g>
<path d="M675 29.1 666.8 26.6 657.5 24.9 647.6 24 621.4 22.9 614.3 21.3 608.9 24 603.4 25.1 597.3 25.3 586.4 24.4 582 24.9 579.3 26.2 576.6 29 569.9 40.5 562.5 51 559.7 56.3 558.7 61.6 559.3 64.6 561.2 67.6 563.7 69.8 567.3 72 577.1 75.3 589.7 77.1 606.1 77.3 626.9 75.2 652 74.6 664 73.1 675 70.3" fill="none" stroke="#3c3c3c" stroke-opacity="0.75" stroke-width="0.6"/>
<path d="M675 36.2 669 33.4 661.3 31.2 652.6 29.7 642.2 29 626.9 28.6 602.3 33.2 595.2 35 589.7 37 585.3 39.4 581.5 42.2 577.2 46.5 574 51 571.9 55.5 571.3 59.3 572 62.3 573.6 64.6 576 66.6 579.1 68.3 588 71 599.5 72.3 611 72.3 626.9 70.7 642.7 70.5 653.6 69.7 665.1 67.7 675 64.1" fill="none" stroke="#3c3c3c" stroke-opacity="0.75" stroke-width="0.6"/>
<path d="M675 42.2 671.7 39.6 667.3 37.2 662.4 35.5 656.4 34 641.1 32.4 626.9 32.2 623.6 32.7 613.2 34.7 604.4 37.1 597.3 39.6 591.9 42.3 586.9 45.8 583.2 49.5 580.5 54 579.8 57.8 580.2 60 581.6 62.3 584.2 64.4 587.5 66 596.2 68.3 607.2 69.1 617 68.7 626.9 67.6 644.9 67.3 654.7 66.3 661.3 65 666.8 63.4 671.1 61.4 675 58.8" fill="none" stroke="#3c3c3c" stroke-opacity="0.75" stroke-width="0.6"/>
<path d="M604.4 66.1 614.3 66.3 626.9 65.1 643.8 64.7 652 64 658.6 62.7 665.7 60.3 670.7 57 673.4 53.3 673.8 51 673.4 48.8 671.4 45 667.3 41.5 661.8 38.8 654.7 36.9 643.3 35.4 626.9 35 615.4 37.3 605 40.4 596.8 44.3 590.8 48.8 588.9 51 587.3 54 586.9 56.3 587.2 58.5 588.6 60.8 590.2 62.1 595.8 64.6 604.2 66.1Z" fill="none" stroke="#3c3c3c" stroke-opacity="0.75" stroke-width="0.6"/>
<path d="M611 63.8 618.7 63.7 626.9 62.8 643.8 62.4 655.8 60.6 661.8 58.5 665.7 56.2 668 53.3 668.5 51.8 668.4 49.5 666.9 46.5 663.5 43.5 658.6 41 652 39.2 641.6 38 626.9 37.6 618.1 39.3 608.8 42.2 601.4 45.8 596.5 49.5 594.6 51.8 593.6 54 593.3 56.3 593.8 57.8 594.8 59.3 596.9 60.8 602.8 62.9 610.6 63.8Z" fill="none" stroke="#3c3c3c" stroke-opacity="0.75" stroke-width="0.6"/>
<path d="M608.8 60.9 618.7 61.4 626.9 60.6 642.2 60.2 650.4 59.1 655.8 57.7 660.1 55.5 662.4 53.3 663 50.3 662.1 48 659.7 45.6 655.9 43.5 651.1 42 638.3 40.4 626.9 40.2 623.6 40.7 615.9 42.7 609.8 45 604.5 48 601.3 51 599.8 54 599.7 55.5 600.3 57 603.3 59.3 608.3 60.8Z" fill="none" stroke="#3c3c3c" stroke-opacity="0.75" stroke-width="0.6"/>
<path d="M614.8 58.6 620.3 58.8 626.9 58.1 637.8 57.9 646.5 57 651.5 55.7 654.7 54 656.2 52.5 656.5 50.3 655.2 48 653.1 46.5 646.7 44.3 635.6 43.1 626.9 42.9 624.1 43.4 618.1 45 613.2 47 609.3 49.5 607.3 51.8 606.6 54 607.7 56.3 610.7 57.8 614.4 58.5Z" fill="none" stroke="#3c3c3c" stroke-opacity="0.75" stroke-width="0.6"/>
</g>
<defs><clipPath id="clipf"><rect x="538.3" y="151.3" width="131.20" height="93.60"/></clipPath></defs>
<g clip-path="url(#clipf)">
<g filter="url(#cblur)">
<rect x="532.3" y="145.3" width="143.20" height="105.60" fill="#ccff4a"/>
<path d="M533.4 249.4 675 249.4 675 146.8 532.8 146.8 532.8 249.4ZM654.5 194.7 649.3 193.6 647.6 192.5 647.6 191.7 648.2 191 650.9 190 659.1 189 666.4 189.5 669.5 191 669.6 191.7 669.1 192.5 665.7 194 660.8 194.8 654.7 194.7Z" fill="#cbf84e" fill-rule="evenodd"/>
<path d="M601.7 248.7 602.2 249.4 675 249.4 675 196.3 669.5 197.5 664 198.1 651.3 197.7 646.5 196.9 641.7 195.5 638.9 194 637.1 191.7 637.9 190.2 639.4 189.5 649.8 187.1 664 186 675 186.8 675 146.8 532.8 146.8 532.8 232.4 580.2 232.9 593.5 233.7 599.1 234.4 601.8 235.2 603.4 236.7 600.4 244.2 600.6 246.4 601.6 248.6Z" fill="#caf153" fill-rule="evenodd"/>
<path d="M626.3 249 626.7 249.4 675 249.4 675 199.9 668.4 200.6 661.3 200.8 653.1 200.2 646 199.2 640 197.7 634 195.5 628.9 192.5 626.4 190.2 627.3 189.5 630 188.7 650.4 185.3 664 184 675 183.9 675 146.8 532.8 146.8 532.8 148.4 535 147.6 537.3 147.6 539.4 148.2 541.6 149.7 544 153.5 544.8 158.8 543.8 164.8 542.7 167 541 168.9 539.4 170 537.2 170.6 535 170.4 532.8 169.5 532.8 230.1 603.4 230.9 625.1 232.2 632.7 233.7 633.6 234.4 633.5 235.2 626.9 240.1 624.6 242.7 624.1 245.6 625.9 248.6ZM630 225.4 631.3 224.7 641.1 224.2 650.6 224.7 651.3 225.4 640.5 226.1 630.1 225.5ZM660.3 218.7 657.3 217.9 663.5 217.1 666.9 217.2 670 217.9 666.7 218.7 660.8 218.7ZM588.5 190.2 581.7 189.5 578.8 188.7 578 188 579.1 187.2 583.5 186.5 594.1 186.2 607.2 187.2 613 188.7 611.9 189.5 605.1 190.2 588.6 190.2Z" fill="#c9ea57" fill-rule="evenodd"/>
<path d="M647.1 248.8 648.3 249.4 675 249.4 675 236.9 667.9 236.8 660.8 237.3 653.6 238.6 648.2 240.3 645.3 241.9 643.4 244.2 643.8 246.4 646.7 248.6ZM661.8 233 668.4 233.5 675 233.1 675 203.2 662.4 203.3 647.1 201.3 635.3 198.5 622.5 193.6 617 192.3 578.8 191 567.1 189.5 562.9 188 563.1 187.2 567.3 186.3 584.2 185.1 599 185.4 619.8 187 627.4 186.9 659.7 182.8 675 181.7 675 146.8 550.5 146.8 552 154.3 552 162.5 551 171.5 549 177.5 546 183 544.3 184.3 539.4 184.8 532.8 183.3 532.8 228.4 585.3 228.7 621.4 229.5 648.2 230.8 661.5 232.9ZM625.7 226.2 623 225.4 624.4 224.7 629 224.1 641.6 223.6 653.6 224.2 657.2 224.7 657.4 225.4 652 226.4 644.4 226.8 633.4 226.8 625.8 226.2ZM654.8 218.7 653.5 217.9 655.8 217.1 661.8 216.6 670.6 216.8 673 217.2 674.4 217.9 672.7 218.7 666.8 219.3 655.3 218.8Z" fill="#c9e35d" fill-rule="evenodd"/>
<path d="M662.4 231.5 669 232 675 231.4 675 219.3 667.9 220 658.6 219.9 652 219.1 650.6 218.7 649.9 217.9 653.1 216.8 659.7 216 668.4 215.9 675 216.4 675 207.2 664 206.3 649.3 203.6 634.2 200 617.6 194.8 609.4 193.5 564.5 192.6 556.3 193.2 540.5 195.7 532.8 195.8 532.8 226.3 608.8 227.1 613.2 226.7 614.7 225.4 617.1 224.7 624.1 223.8 638.9 223.1 652.6 223.3 660.2 223.9 663.7 224.7 662.9 225.4 659.8 226.2 650.8 227.7 650.5 228.4 662 231.4ZM606.6 185 619.8 185.7 629.6 185.5 675 179.7 675 146.8 556.5 146.8 557.6 176.8 558.4 179.8 559.7 181.3 563.3 182.7 568.9 183.6 606.4 185Z" fill="#c8db63" fill-rule="evenodd"/>
<path d="M663.5 230.7 669.5 231.1 675 230.3 675 225.5 663.5 226.5 658.8 227.7 658.3 228.4 660.6 229.9 663.2 230.7ZM585.9 224.7 601.2 224.6 625.8 222.8 647.6 222 660.8 222.1 675 223.6 675 221.1 659.7 221.3 652 220.6 647.6 219.6 645.9 218.7 645.8 217.9 647.1 217.2 652 216 665.5 214.2 666.3 213.5 662 210.5 652.5 206.7 616.5 196.8 607.7 195.1 587.5 194.3 568.9 195.2 561.3 196.5 551.4 198.9 532.8 204.5 532.8 217.8 533.9 218.2 542.7 220.7 554.2 222.6 568.4 223.9 585.7 224.7ZM607.2 184.3 620.3 184.8 630.7 184.3 675 177.8 675 146.8 561.3 146.8 561.1 161 561.6 167.8 563.5 176 564.6 178.3 566.1 179.8 569.5 181.3 575.5 182.4 606.9 184.2Z" fill="#c7d367" fill-rule="evenodd"/>
<path d="M664.6 230 667.9 230.4 671.7 230.1 674.5 229.2 675 228.3 673.3 227.3 669 226.8 664 227.4 661.9 228.4 662.3 229.2 664.1 229.9ZM589.1 222.5 611 222.2 633.4 220.3 637.2 219.3 641.7 217.2 650.6 214.2 651.5 213.5 651.9 212 650.4 209.7 646.6 207.5 633.4 203 611 197.5 603.4 196.4 595.2 196 577.1 196.6 560.7 199.5 552 201.9 546 204.1 541.5 206.7 539.7 209 539.7 211.2 542.1 213.8 546.5 216.1 552.5 218.1 568.9 221.1 588.7 222.4ZM607.2 183.5 620.8 183.9 632.3 183.1 655.3 179.5 675 175.8 675 146.8 565.5 146.8 564.7 158.8 565.1 165.5 567.3 173.1 568.7 176 570.6 178.3 574.4 180.3 579.8 181.5 606.8 183.5Z" fill="#c6cb6b" fill-rule="evenodd"/>
<path d="M666.2 229.2 670 229.3 670.7 229.2 671.1 228.4 667.3 228.1 665.8 228.4 666.2 229.2ZM580.9 220.2 603.4 220.7 624.1 219.1 632.3 217.5 640 215.1 642.8 213.5 644 211.2 643.4 209.7 640.3 207.5 635.1 205.2 627.9 203 609.9 199 595.2 197.6 579.3 198.3 564 200.9 552.5 204.6 549.1 206.7 547.3 209 547.6 211.2 548.9 212.7 555.2 215.8 566.2 218.5 580.6 220.2ZM607.2 182.8 621.4 183 634 182 658.6 177.7 675 173.7 675 146.8 569.2 146.8 568.1 156.5 568.3 164 570.6 171.2 574.4 176.8 577.8 179 582.9 180.5 592.4 181.7 606.7 182.7Z" fill="#c5c36f" fill-rule="evenodd"/>
<path d="M582 218.7 602.3 219.1 620.8 217.6 628.5 216.1 634 214.3 636.7 212.7 637.6 210.5 636.8 209 633.3 206.7 622.1 203 608.3 200.2 594.6 199.2 580.9 199.8 567.3 202 557.8 205.2 555.2 206.8 553.5 209 553.6 210.5 554.7 212 556.9 213.5 560.4 214.9 569.5 217.2 581.6 218.7ZM607.2 182 622.5 182.1 637.2 180.6 660.6 176 668.6 173.8 675 171.4 675 146.8 572.8 146.8 571.3 155 571.3 163.3 573.3 169.3 577.1 174.9 580.9 177.8 586.7 179.8 595.7 181.1 607.1 182Z" fill="#c3bb70" fill-rule="evenodd"/>
<path d="M581.5 217.2 599 217.8 615.9 216.6 626.9 214.2 630.1 212.7 631.2 211.6 631.7 210.5 631.1 209 629.1 207.5 619.8 204 607.7 201.6 595.7 200.6 583.1 201.1 571.2 203 562.5 206 560.3 207.5 559.3 209 559.5 210.5 560.8 212 565.1 214.1 572.2 215.9 581.5 217.2ZM608.8 181.3 623.6 181.2 638.9 179.4 658.5 175.3 665.7 173 671.1 170.7 675 168.4 675 146.8 576.1 146.8 574.3 154.3 574.1 161.8 575.8 167.8 579.4 173 583.7 176.5 589.1 178.7 597.3 180.3 608.4 181.3Z" fill="#c2b270" fill-rule="evenodd"/>
<path d="M582.6 215.7 597.9 216.4 612.6 215.3 618.5 214.2 623 212.7 625.1 211.2 625.4 209.7 624.3 208.2 621.6 206.7 614.7 204.5 605 202.8 594.6 202.1 584.2 202.6 574.9 204.1 568.4 206.2 566.4 207.5 565.3 209 565.6 210.5 566.2 211.2 568.7 212.7 573.8 214.3 582.1 215.7ZM611 180.5 625.2 180.2 641.1 178.1 656.9 174.4 663.3 172.3 668.1 170 672.4 167 675 163.9 675 157.5 673.3 156.6 668.4 155.6 666.7 154.3 666.8 153.5 667.7 152.8 673.1 150.6 673.7 149.1 673.1 146.8 579.2 146.8 577.2 153.5 576.7 161 578.1 166.3 581.6 171.5 586.4 175.4 592.4 178 600.6 179.6 610.9 180.5Z" fill="#c0aa70" fill-rule="evenodd"/>
<path d="M585.9 214.2 596.8 214.7 607.7 213.9 616 212 617.3 211.2 618.1 209.7 617 208.2 615.7 207.5 611.6 205.9 604.1 204.5 595.2 203.8 587 204.1 579.8 205.2 575.1 206.7 573.7 207.5 572.4 209 572.8 210.5 575.2 212 580.4 213.4 585.4 214.2ZM604.4 179 618.1 179.7 632.9 178.5 650.4 175.1 657.3 173 662.9 170.8 666.8 168.5 669.5 166.3 671.2 164 672.2 161.8 672.3 160.3 671.4 158.8 665.7 156 664.3 154.3 664.8 152.8 669.3 149.1 669.1 146.8 582.3 146.8 580.1 152.8 579.3 159.5 580 164 582 168.1 585.8 172.3 590.8 175.5 596.3 177.5 604.2 179Z" fill="#bea16f" fill-rule="evenodd"/>
<path d="M588.6 211.2 594.1 211.7 599 211.6 602.8 210.9 605 209.7 604.8 209 603.7 208.2 601.4 207.5 595.2 206.7 587.3 207.5 584.5 209 584.7 209.7 585.8 210.5 588.4 211.2ZM607.7 178.3 620.8 178.7 635.1 177.3 650.4 174 660.8 170 666.2 166.3 668 164 668.9 161.8 668.4 159.5 664 156.4 662.6 154.3 662.9 152.7 665.8 149.1 665.5 146.8 585.2 146.8 582.7 152.8 581.8 158.8 582.3 163.3 584.6 167.8 588.2 171.5 593.5 174.7 599.5 176.9 607.3 178.3Z" fill="#bb996d" fill-rule="evenodd"/>
<path d="M611 177.5 623 177.7 636.7 176.1 650 173 659.1 169.2 663.9 165.5 666 161.8 665.5 159.5 662.4 156.5 661.2 154.3 661.3 152.8 663 149.1 662.4 146.8 588 146.8 585.4 152 584.2 158 584.6 162.5 586.8 167 590.8 171 596.2 174.2 602.8 176.3 610.6 177.5Z" fill="#b8906c" fill-rule="evenodd"/>
<path d="M614.8 176.8 626.9 176.6 639.4 174.7 650.9 171.6 658.5 167.8 661.8 164.6 663.4 161 663.1 159.5 660 155 659.7 153.5 660.4 149.1 659.4 146.8 590.7 146.8 587.9 152 586.5 158 586.9 162.5 589.3 167 593.5 170.8 599.3 173.8 606.1 175.7 614.4 176.8Z" fill="#b28a6d" fill-rule="evenodd"/>
<path d="M610.5 175.3 621.4 176 634 174.8 645.5 172.3 654.5 168.5 659.1 164.8 661 161 660.8 159.5 658.5 155 658.1 149.8 657.6 148.3 656.5 146.8 593.4 146.8 590.6 151.3 588.9 156.5 588.8 161 590.2 164.8 593.4 168.5 597.9 171.5 603.4 173.8 610.1 175.3Z" fill="#ad856f" fill-rule="evenodd"/>
<path d="M612.6 174.6 623 175 634 174 644.6 171.5 652.6 168.1 656.7 164.8 658.7 161 658.5 158.8 657 155 655.5 149.1 653.8 146.8 596 146.8 592.9 151.3 591.3 155.8 590.9 160.3 592.4 164.7 595.7 168.3 600.1 171 605.5 173.1 612.4 174.5Z" fill="#a67f70" fill-rule="evenodd"/>
<path d="M614.8 173.8 624.1 174.1 634 173.1 643.3 170.9 650.5 167.8 654.3 164.8 656.5 161 656.3 158 653.5 149.8 651 146.8 598.6 146.8 595.2 151.3 593.4 155.8 593 160.3 594.3 164 597.3 167.5 601.7 170.3 607.7 172.5 614.5 173.8Z" fill="#9e7970" fill-rule="evenodd"/>
<path d="M617 173.1 625.8 173.2 635.1 172 642.8 170 649.2 167 652.7 164 654.5 160.3 653.8 155.8 651.7 150.6 648.3 146.8 601.2 146.8 597.9 150.6 595.7 155 595.1 160.3 596.2 163.7 599.2 167 603.9 169.9 609.9 171.9 616.6 173Z" fill="#957370" fill-rule="evenodd"/>
<path d="M619.2 172.3 627.4 172.2 635.6 171 642.7 169 647.9 166.3 651.1 163.3 652.4 160.3 651.9 155.8 649.8 151.2 645.6 146.8 603.9 146.8 600.2 150.6 597.8 155 597 159.5 598.1 163.3 601.2 166.7 605.5 169.3 611.6 171.2 618.8 172.3Z" fill="#8c6c6f" fill-rule="evenodd"/>
<path d="M622.5 171.5 630.1 171.1 637.2 169.7 643.3 167.5 647.6 164.8 649.9 161.8 650.4 158.8 649.4 154.3 647.1 150.6 642.8 146.8 606.7 146.8 604.7 148.3 601.3 152 599.3 156.5 599 160.3 600.7 164 604.1 167 608.8 169.3 614.8 170.9 621.9 171.5Z" fill="#83636c" fill-rule="evenodd"/>
<path d="M615.9 170.1 622.5 170.7 629.6 170.3 636.2 169.1 641.8 167 645.4 164.8 647.9 161.8 648.4 158 647.3 154.3 644.4 150.2 639.8 146.8 609.6 146.8 605.5 149.8 602.5 153.5 601.1 157.3 601.1 161 602.8 164 606.1 166.7 610.5 168.7 615.6 170Z" fill="#7a5a69" fill-rule="evenodd"/>
<path d="M617 169.3 623 169.8 629.6 169.4 635.6 168.2 640.7 166.3 644.1 164 646.2 161 646.4 158 645.2 154.3 641.6 150 636.4 146.8 613 146.8 611.4 147.6 607.2 150.5 604.6 153.5 603.1 157.3 603.1 161 604.9 164 607.9 166.3 612.1 168.1 617 169.3Z" fill="#705065" fill-rule="evenodd"/>
<path d="M618.7 168.6 624.1 168.9 630.1 168.4 635.6 167.2 640 165.3 642.7 163.3 644.4 160.3 644.3 157.3 643.1 154.3 641.4 152 638.7 149.8 635.6 148.1 632.1 146.8 617.3 146.8 611.9 149.1 608.8 151.3 606.3 154.3 604.9 158 605.1 161 606.4 163.3 609.4 165.7 613.2 167.3 618.4 168.5Z" fill="#664660" fill-rule="evenodd"/>
<path d="M620.3 167.8 625.8 168 630.7 167.4 635.1 166.3 638.9 164.5 641.3 162.5 642.4 160.3 642.3 157.3 641 154.3 638.9 152 635.7 149.8 632.1 148.3 628 147.4 623.6 147.2 619.8 147.7 615.9 148.8 612.4 150.6 609.7 152.8 607.7 155.5 606.8 158.8 607.1 161 608.5 163.3 611.6 165.4 615.4 166.9 620 167.8Z" fill="#5c3c5b" fill-rule="evenodd"/>
<path d="M622.5 167 626.9 167 631.5 166.3 635.6 164.9 638.3 163.3 639.7 161.8 640.5 159.5 640 156.5 638.7 154.3 636.4 152 633.4 150.4 630.1 149.2 626.3 148.6 622.5 148.7 618.7 149.4 615.4 150.6 612.6 152.3 610.5 154.6 609.1 157.3 608.8 159.5 609.5 161.8 611.6 163.9 614.3 165.3 618.1 166.5 622.3 167Z" fill="#533155" fill-rule="evenodd"/>
<path d="M619.2 165.6 623 166.1 627.4 166 631.2 165.3 634.6 164 636.8 162.5 638 161 638.4 158.8 637.9 156.5 636.3 154.3 634.5 152.8 629.4 150.6 623 150.1 617 151.6 614.3 153.2 612.4 155 611.2 157.3 610.8 159.5 611.7 161.8 613.2 163.3 618.7 165.5Z" fill="#4b254e" fill-rule="evenodd"/>
<path d="M620.8 164.8 627.4 164.9 633.1 163.3 635.2 161.8 636.2 160.3 636.3 158.8 635.6 156.5 632.5 153.5 628 151.8 622.5 151.6 617.6 153.1 615.4 154.6 613.8 156.5 613 158.8 613.1 160.3 614 161.8 615.9 163.3 620.6 164.8Z" fill="#421a48" fill-rule="evenodd"/>
</g>
<path d="M532.8 229.6 582 229.9 612.1 230.5 635.1 232.1 642.3 233.7 642.7 234.4 642 235.2 633.6 239.7 630.4 242.7 629.7 244.9 630.1 246.4 632.8 249.4M675 200.9 661.3 201.5 646.5 199.9 635.5 197 625.2 192 620.3 190.5 588 190.6 577.7 189.5 575.2 188.7 574.4 188 575.3 187.2 578.5 186.5 591.9 185.8 604.6 186.5 618.7 188.5 623.6 188.6 655.8 184.2 666.2 183.3 675 183.2M543.8 146.8 546.1 150.6 547.4 155.8 547.4 161.8 546 168.1 543.8 171.9 540.5 174.3 536.7 175 532.8 174.2M634 226.2 627.8 225.4 630.1 224.6 641.1 224 652 224.6 652.8 224.7 653.3 225.4 645.4 226.3 634.5 226.2ZM658.6 218.7 656 217.9 658.5 217.2 664 216.9 669.1 217.2 671.3 217.9 666.8 218.9 658.6 218.7" fill="none" stroke="#3c3c3c" stroke-opacity="0.75" stroke-width="0.6"/>
<path d="M675 227.1 671.7 226.5 666.8 226.7 662.4 227.4 660.8 228.4 661.3 229.2 662.8 229.9 666.8 230.6 671.1 230.5 675 229.5M564.1 146.8 563.6 161.8 565 170.8 566.6 175.3 568.4 178 570.7 179.8 573.8 180.9 580.3 182 589.5 182.7 612.6 184 624.7 184.1 638.9 182.6 675 176.5M589.7 223.2 607.7 223 637.2 220.9 640.3 220.2 642.3 217.9 643.7 217.2 654.4 214.2 655.4 212.7 654.2 210.5 650.7 208.2 638 203.7 612.1 197.1 604.4 195.9 595.2 195.4 576 196 559.6 198.9 549.2 201.7 542 204.5 538.2 206.7 536.8 208.2 536.1 209.7 536.6 212 539.4 214.5 544.3 216.9 550.9 218.9 559.1 220.6 568.4 221.9 589.4 223.2Z" fill="none" stroke="#3c3c3c" stroke-opacity="0.75" stroke-width="0.6"/>
<path d="M576.2 146.8 574.6 152.8 574 158.8 574.4 163.3 575.9 167.8 578.8 172.2 582 175.3 585.9 177.6 591.3 179.3 599.5 180.5 612.1 181.4 622.5 181.3 632.3 180.4 646.5 177.9 659.7 174.9 669 171.7 675 168.4M582 217.2 599 217.8 615.9 216.6 626.9 214.1 630.1 212.5 631.6 210.5 630.9 209 629 207.5 620.3 204.2 608.3 201.7 595.7 200.7 583.1 201.1 571.4 203 562.6 206 560.4 207.5 559.4 209 559.6 210.5 560.7 211.8 565.1 214 572.2 215.9 581.8 217.2Z" fill="none" stroke="#3c3c3c" stroke-opacity="0.75" stroke-width="0.6"/>
<path d="M586.3 146.8 583.4 153.5 582.7 160.3 583.8 164.8 587 169.3 592.4 173.4 599 176.2 607.2 177.8 617.6 178.4 630.1 177.6 643.3 175.4 654.4 172.3 662.2 168.5 665.7 165.5 667.8 161.8 667.3 159.5 663.5 156.5 662.1 154.3 662.4 152.5 664.7 149.1 664.3 146.8" fill="none" stroke="#3c3c3c" stroke-opacity="0.75" stroke-width="0.6"/>
<path d="M595.3 146.8 591.9 152 590.5 157.3 590.6 161.8 593 166.3 597.5 170 603.9 172.9 611.6 174.7 620.8 175.3 631.2 174.6 641.6 172.6 649.8 169.9 655.8 166.3 658.4 163.3 659.3 160.3 657.4 155 656.5 149.8 654.5 146.8" fill="none" stroke="#3c3c3c" stroke-opacity="0.75" stroke-width="0.6"/>
<path d="M604.2 146.8 600.4 150.6 597.9 155.3 597.3 160.3 598.8 164 602.3 167.3 607.7 170 614.8 171.7 622.5 172.3 631.2 171.7 639.3 170 646 167.3 650.3 164 652.2 160.3 651.7 155.8 649.3 150.7 645.3 146.8" fill="none" stroke="#3c3c3c" stroke-opacity="0.75" stroke-width="0.6"/>
<path d="M614.8 146.8 609.4 149.7 605.6 153.5 603.9 158 604.3 161.8 606.8 164.8 611 167.2 617 168.8 623.6 169.4 630.7 168.9 637.2 167.2 642.1 164.8 644.9 161.8 645.5 160.3 645.5 158 643.8 153.5 640 149.6 634.6 146.8" fill="none" stroke="#3c3c3c" stroke-opacity="0.75" stroke-width="0.6"/>
</g>
<defs><clipPath id="clipg"><rect x="538.3" y="279.8" width="131.20" height="93.80"/></clipPath></defs>
<g clip-path="url(#clipg)">
<g filter="url(#cblur)">
<rect x="532.3" y="273.8" width="143.20" height="105.80" fill="#ccff4a"/>
<path d="M533.4 359.4 593 359.8 675 358.8 675 275.3 532.8 275.3 532.8 359.3ZM636.7 294.8 630.5 294.1 625.4 292.6 622.3 290.3 622.1 288.1 624.5 285.8 628.4 284.3 634 283.2 640 282.9 646 283.2 651.6 284.3 655.4 285.8 657.9 288.1 658.1 289.6 657.1 291.1 652.6 293.3 644.9 294.7 636.7 294.8Z" fill="#cbf84e" fill-rule="evenodd"/>
<path d="M557.4 359.3 600.6 359.5 675 358.4 675 296.4 661.3 299.1 644.9 300.2 628 299.8 611.6 297.8 602.1 295.6 596.9 293.3 594.1 290.3 593.9 287.3 594.6 285.8 596.6 283.6 601.7 280.3 609.4 277.3 617.6 275.3 561.2 275.3 567.8 280 570.3 282.8 572.1 285.8 572.9 288.8 572.8 291.1 571.6 294.1 569.8 296.3 567 298.6 563.4 300.5 554.7 303.2 543.8 304.4 532.8 303.6 532.8 359 557.3 359.3ZM673.9 278.4 675 278.8 675 275.3 662.3 275.3 673.6 278.3Z" fill="#caf153" fill-rule="evenodd"/>
<path d="M533.4 358.7 594.1 359.2 675 358 675 303.9 647.1 304.4 613.2 303.8 605 304.2 601.2 305 597.9 306.6 593.4 312.1 591.4 313.6 588.6 314.6 585.3 315.1 578.2 314.5 568.4 311.8 562.9 311 532.8 311.7 532.8 358.6Z" fill="#c9ea57" fill-rule="evenodd"/>
<path d="M550.9 358.6 602.3 358.8 675 357.4 675 307.6 618.1 307.2 608.8 307.5 605 308.1 601.7 309.3 593 315.3 589.7 316.3 585.9 316.8 579.3 316.7 560.7 314.6 532.8 315.7 532.8 358.2 550.7 358.6ZM645.6 330.1 646.5 329.3 649.8 329.1 653.5 329.3 654.4 330.1 650.4 330.6 646 330.2Z" fill="#c9e35d" fill-rule="evenodd"/>
<path d="M533.9 357.8 597.3 358.5 675 356.6 675 310.3 612.6 309.8 605 311 594.1 316.6 587.5 318 580.4 318.2 560.2 317.1 532.8 318.3 532.8 357.8 533.6 357.8ZM650.5 345.8 652.8 345.1 659.1 344.9 665 345.1 667.3 345.8 659.1 346.4 650.9 345.9ZM644.3 330.8 641.9 330.1 642.1 329.3 646 328.6 652.6 328.4 658 329.3 658.6 330.1 656.5 330.8 653.1 331.2 644.4 330.8Z" fill="#c8db63" fill-rule="evenodd"/>
<path d="M553.1 357.8 584.2 358.2 612.6 357.9 675 355.5 675 312.6 613.2 311.8 605.5 313 595.2 317.6 588.6 319.1 582 319.4 559.6 318.9 532.8 320.4 532.8 357.3 552.8 357.8ZM649.6 346.6 646 345.8 648.7 344.9 659.7 344.4 670.6 344.9 673.7 345.8 670.5 346.6 664.6 347 649.8 346.6ZM646.4 331.6 641 330.8 639.2 330.1 639.3 329.3 644.4 328.1 652.6 327.9 659.5 328.6 661.6 329.3 661.8 330.1 660.3 330.8 655.8 331.5 646.5 331.6Z" fill="#c7d367" fill-rule="evenodd"/>
<path d="M544.9 357.1 579.8 357.8 611 357.5 640.1 356.3 675 353.8 675 347 666.2 347.5 655.8 347.4 646.5 346.8 642.7 345.8 644.9 344.9 654.2 344.1 665.7 344 675 344.6 675 315 613.7 313.7 606.1 314.8 595.2 319 588.6 320.2 559.6 320.5 532.8 322.2 532.8 356.6 544.3 357.1ZM642.2 331.6 638.5 330.8 636.9 330.1 636.9 329.3 638.4 328.6 642.7 327.8 653.1 327.3 662.4 328.3 664.9 329.3 665 330.1 661.8 331.3 656.4 332 649.8 332.1 642.7 331.6Z" fill="#c6cb6b" fill-rule="evenodd"/>
<path d="M562.9 357.1 594.6 357.3 622.5 356.5 645.8 354.8 675 351.9 675 348 652 347.7 643.3 346.9 639.9 345.8 641 345.1 643.3 344.7 651.5 343.9 663.5 343.6 675 343.9 675 317.5 627.4 315.6 613.7 315.5 606.6 316.3 595.2 320.2 589.1 321.2 559.1 321.9 532.8 323.8 532.8 355.7 562.9 357.1ZM645.7 332.3 636.7 330.9 634.8 330.1 634.7 329.3 636.2 328.4 640.5 327.5 652 326.7 662.9 327.5 666.8 328.3 668.6 329.3 668.5 330.1 667.3 330.8 662.4 331.9 654.7 332.5 646 332.3Z" fill="#c5c36f" fill-rule="evenodd"/>
<path d="M559.1 356.4 589.1 356.8 617 356 640.6 354.1 667.1 350.3 667.7 349.6 644.4 347.6 638.8 346.6 637.4 345.8 638.4 345.1 641.6 344.4 649.3 343.7 661.8 343.2 675 343.3 675 320.7 635.1 317.9 613.7 317.2 606.6 318 595.7 321.2 589.7 322.2 559.6 323.1 532.8 325.2 532.8 354.7 558.7 356.3ZM641.6 332.3 634.2 330.8 632.8 330.1 632.6 329.3 635.1 327.9 639.4 327 653.6 326 666.8 326.9 671.1 327.9 673.3 329.3 673 330.1 670.6 331.2 662.9 332.5 652 333 641.6 332.3Z" fill="#c3bb70" fill-rule="evenodd"/>
<path d="M559.1 355.6 585.3 356.2 609.9 355.7 630.7 354 651.4 351.1 654.2 350.3 654 349.6 639.4 347.4 636.1 346.6 635 345.8 636.1 345.1 639.4 344.3 647.6 343.4 675 342.7 675 331.9 665.7 333 654.2 333.4 642.7 332.8 634.6 331.6 630.9 330.1 630.5 329.3 631 328.6 634 327.3 640 326.1 659.1 324.1 658.7 323.3 655.6 322.6 648.2 321.5 619.2 319 607.7 319.4 595.2 322.4 589.7 323.2 559.1 324.3 532.8 326.6 532.8 353.5 558.7 355.6Z" fill="#c2b270" fill-rule="evenodd"/>
<path d="M560.2 354.8 582.6 355.5 603.9 355.2 623.6 353.7 642.2 351.1 645.1 350.3 645.6 349.6 635.1 347.1 632.8 345.8 633.8 345.1 636.8 344.3 644.4 343.4 675 341.8 675 333.8 649.8 333.8 640.5 333 634 331.9 628.9 330.1 628.4 329.3 628.6 328.6 631.8 326.8 638.7 324.8 639.9 324.1 639.4 323.7 631.8 322 617 320.7 607.2 321 590.7 324.1 559.6 325.3 532.8 327.9 532.8 352.3 560.1 354.8Z" fill="#c0aa70" fill-rule="evenodd"/>
<path d="M561.8 354.1 579.3 354.8 596.8 354.7 613.2 353.7 628.5 352 636.2 350.7 638.9 349.6 637.9 348.8 631 346.6 630.6 345.8 631.6 345.1 641.1 343.3 671.1 340.6 673.3 339.8 674.1 339.1 674.1 338.3 672.4 336.8 667.3 335.5 641.6 333.6 630.3 331.6 628.1 330.8 626.1 329.3 626.5 327.8 629.5 325.6 629.6 324.8 625.2 323.5 616.5 322.5 606.6 322.5 590.2 325 556.3 326.5 532.8 329.1 532.8 351.1 547 352.9 561.8 354.1Z" fill="#bea16f" fill-rule="evenodd"/>
<path d="M563.4 353.3 579.8 354 595.7 353.9 611 353 625.2 351.4 633 349.6 633.1 348.8 628.6 346.6 628.4 345.8 629.4 345.1 637.2 343.4 660.8 340.6 662.7 339.8 663.3 339.1 663.2 338.3 661.1 336.8 658.4 336.1 637.2 333.5 628.1 331.6 623.8 329.3 623.3 326.3 622.4 325.6 619.2 324.7 613.2 324 605.5 324 590.8 325.9 558.5 327.3 532.8 330.4 532.8 349.8 547.6 351.9 563.3 353.3Z" fill="#bb996d" fill-rule="evenodd"/>
<path d="M564.5 352.6 579.3 353.2 593.5 353.2 607.7 352.4 620.3 351.1 626.3 349.9 628.5 348.8 626.1 346.6 626.2 345.8 627.3 345.1 634.5 343.4 649.9 341.3 653.3 340.6 654.9 339.8 655.4 339.1 654.4 337.6 650.3 336.1 633.4 333.4 625.8 331.6 622.2 330.1 617.6 326.6 610.5 325.4 604.4 325.4 591.3 326.7 560.2 328.1 546 329.6 532.8 331.7 532.8 348.6 548.1 351 564.5 352.6Z" fill="#b8906c" fill-rule="evenodd"/>
<path d="M565.6 351.9 579.8 352.5 593.5 352.5 606.6 351.7 618.1 350.4 624 348.8 624.4 348.1 623.7 346.6 623.9 345.8 625.1 345.1 631.2 343.5 644.6 341.3 647.4 340.6 648.7 339.8 649 339.1 648 337.6 644.2 336.1 626.3 332.4 621.3 330.8 614.3 327.6 607.7 326.6 561.3 328.8 546 330.6 532.8 333.1 532.8 347.2 548.1 350 565.2 351.8Z" fill="#b28a6d" fill-rule="evenodd"/>
<path d="M584.8 351.8 602.3 351.3 616.6 349.6 620.7 348.1 621.7 345.8 622.9 345.1 628 343.7 640 341.3 642.3 340.6 643.3 339.8 643.5 339.1 642.5 337.6 639.2 336.1 623.6 332.4 612.1 328.7 605.5 327.8 574.4 328.8 561.3 329.7 545.4 331.8 532.8 334.7 532.8 345.7 542.6 348.1 555.8 350.1 570 351.4 584.3 351.8Z" fill="#ad856f" fill-rule="evenodd"/>
<path d="M581.5 351.1 599.5 350.7 613.7 349 616.8 348.1 620.7 345.1 635.9 341.3 637.7 340.6 638.7 339.1 637.6 337.6 636.4 336.8 632.2 335.3 611 329.7 603.4 328.8 575.5 329.5 559.6 330.7 543.8 333.3 537.8 334.8 532.8 336.7 532.8 343.7 538.5 345.8 547 347.8 557.4 349.5 568.9 350.6 581 351.1Z" fill="#a67f70" fill-rule="evenodd"/>
<path d="M579.3 350.3 596.2 350.2 609.9 348.8 613.7 347.7 620.5 344.3 632 341.3 633.5 340.6 634.3 339.1 632 336.8 625.7 334.6 609.4 330.5 599.5 329.7 573.3 330.4 554.7 332.3 546.6 333.8 539.9 335.8 536.1 337.6 534.1 339.8 534.4 341.3 535 342.1 537.3 343.6 546.3 346.6 561.3 349.1 579 350.3Z" fill="#9e7970" fill-rule="evenodd"/>
<path d="M577.7 349.6 594.6 349.6 608.2 348.1 618.1 344.3 628.4 341.3 629.7 340.6 630.2 339.1 629.1 337.6 626.4 336.1 611 331.8 602.3 330.7 588.6 330.6 570 331.3 554.7 333.2 543.7 336.1 540.6 337.6 538.5 339.8 538.8 341.3 540.4 342.8 548.2 345.8 561.3 348.3 577.4 349.6Z" fill="#957370" fill-rule="evenodd"/>
<path d="M576.6 348.9 593 348.9 605.5 347.6 624.9 341.3 626 340.6 626.3 339.1 625.1 337.6 622.5 336.1 609.9 332.6 601.2 331.5 587 331.4 570.6 332.1 557 333.8 550.5 335.3 546.3 336.8 543.8 338.3 542.6 339.8 542.9 341.3 544.6 342.8 551.4 345.5 562.4 347.6 576.2 348.8Z" fill="#8c6c6f" fill-rule="evenodd"/>
<path d="M575.5 348.1 590.8 348.3 603.4 347.1 619.9 342.1 622.5 340.6 622.7 339.1 621.3 337.6 618.6 336.1 608.8 333.4 600.1 332.3 586.4 332.1 571.6 332.7 559.1 334.4 550.5 336.8 547.8 338.3 546.6 339.8 546.9 341.3 548.6 342.8 554.5 345.1 564 347 575.3 348.1Z" fill="#83636c" fill-rule="evenodd"/>
<path d="M574.9 347.3 589.1 347.7 601.2 346.6 614.8 342.8 618.2 341.3 619.3 339.8 618.5 338.3 616.4 336.8 609.4 334.5 600.6 333.2 588 332.8 574.4 333.3 562.9 334.7 554.7 336.8 551.7 338.3 550.5 339.8 550.7 341.3 551.4 342.1 556.2 344.3 564.5 346.2 574.8 347.3Z" fill="#7a5a69" fill-rule="evenodd"/>
<path d="M574.9 346.6 588 347 599.5 346 611.7 342.8 614.9 341.3 615.8 339.8 615 338.3 613.7 337.5 607.2 335.1 599 333.9 587.5 333.5 575.5 334 564.8 335.3 557 337.6 554.2 339.8 554.5 341.3 555.2 342.1 558.5 343.7 565.6 345.5 574.6 346.6Z" fill="#705065" fill-rule="evenodd"/>
<path d="M574.9 345.8 587.5 346.3 598.4 345.4 608.5 342.8 611.6 341.3 612.4 339.8 611.6 338.5 610.2 337.6 604.4 335.7 596.8 334.6 587 334.3 576.6 334.7 567.3 335.9 561.1 337.6 558 339.8 558.2 341.3 559.1 342.1 562.4 343.6 568.4 345 574.8 345.8Z" fill="#664660" fill-rule="evenodd"/>
<path d="M575.5 345.1 587 345.6 596.8 344.8 602.7 343.6 607 342.1 608.2 341.3 608.9 339.8 606.6 337.8 602.3 336.4 595.2 335.4 587 335 578.2 335.4 570 336.4 564.5 337.9 561.8 339.8 562 341.3 564.5 342.8 569.5 344.2 575.4 345.1Z" fill="#5c3c5b" fill-rule="evenodd"/>
<path d="M576.6 344.3 586.4 344.8 595.7 344.1 603.4 342.1 604.7 341.3 605.3 339.8 603.7 338.3 599 336.9 586.4 335.9 573.3 336.9 567.8 338.3 565.7 339.8 565.9 341.3 567.8 342.4 576.5 344.3Z" fill="#533155" fill-rule="evenodd"/>
<path d="M578.2 343.6 586.4 344 594.1 343.4 599.4 342.1 600.9 341.3 601.5 340.6 601.4 339.8 599.2 338.3 596.4 337.6 586.4 336.7 575.7 337.6 572.6 338.3 569.8 339.8 569.6 340.6 570.1 341.3 571.4 342.1 578.1 343.6Z" fill="#4b254e" fill-rule="evenodd"/>
<path d="M580.9 342.8 590.8 342.8 594.7 342.1 597.3 340.6 597.1 339.8 596.2 339.3 594.1 338.5 586.4 337.7 578.2 338.4 575.5 339.2 574.4 339.8 574.1 340.6 574.8 341.3 576.6 342.1 580.9 342.8Z" fill="#421a48" fill-rule="evenodd"/>
</g>
<path d="M532.8 358.5 594.1 359.1 675 357.8M675 305.2 644.4 305.4 614.3 305 606.6 305.3 602.3 306.2 599.5 307.5 594.1 312.8 591.7 314.3 589.1 315.2 585.3 315.7 578.8 315.3 567.8 313 561.8 312.3 532.8 313.1" fill="none" stroke="#3c3c3c" stroke-opacity="0.75" stroke-width="0.6"/>
<path d="M532.8 356.8 568.5 357.8 602.3 357.8 632.3 357 675 354.5M675 346.7 666.8 347.3 656.9 347.3 647.6 346.7 643.8 345.8 645.4 345 655.3 344.2 666.8 344.2 675 344.9M675 314.2 613.7 313.1 606.1 314.1 595.2 318.5 588.6 319.9 560.2 320 532.8 321.6M643.8 331.6 639.3 330.8 637.7 330.1 637.7 329.3 639.3 328.6 643.7 327.8 653.1 327.5 661.8 328.5 663.8 329.3 663.9 330.1 661.8 331 656.9 331.8 644.4 331.7Z" fill="none" stroke="#3c3c3c" stroke-opacity="0.75" stroke-width="0.6"/>
<path d="M532.8 353.5 554.2 355.3 576 356.1 598.4 356.1 619.2 355 640.5 352.8 653.9 350.3 653.8 349.6 639.4 347.4 636 346.6 635 345.8 636 345.1 637.8 344.7 652 343.2 675 342.7M675 331.9 664.6 333.1 654.2 333.4 642.7 332.9 634.5 331.6 630.8 330.1 630.4 329.3 630.9 328.6 636.7 326.6 658.4 324.1 658.1 323.3 644.6 321.1 619.2 319.1 607.7 319.4 595.2 322.5 589.7 323.2 559.1 324.3 532.8 326.6" fill="none" stroke="#3c3c3c" stroke-opacity="0.75" stroke-width="0.6"/>
<path d="M532.8 349.4 550.9 351.9 570 353.4 590.2 353.7 608.8 352.9 628.6 350.3 630.9 349.6 631.3 348.8 627.7 346.6 627.5 345.8 628.6 345.1 636.2 343.4 653.8 341.3 657.7 340.6 659.5 339.8 660.1 339.1 659.2 337.6 655 336.1 635.6 333.4 627.2 331.6 622.8 329.3 621.7 327.1 620.3 326 617 325.1 612.1 324.5 605 324.6 590.8 326.2 559.6 327.5 546 328.9 532.8 330.9" fill="none" stroke="#3c3c3c" stroke-opacity="0.75" stroke-width="0.6"/>
<path d="M532.8 344.3 543.8 347.5 560.2 350 578.8 351.2 596.8 351.1 608.3 350.1 616 348.8 617.9 348.1 619.9 345.8 621.3 345.1 636.9 341.3 638.8 340.6 639.9 339.1 638.8 337.6 637.6 336.8 633.2 335.3 611.6 329.5 603.9 328.6 575.5 329.3 560.2 330.4 543.8 332.9 532.8 336.1" fill="none" stroke="#3c3c3c" stroke-opacity="0.75" stroke-width="0.6"/>
<path d="M577.7 348.8 593.4 348.8 605.5 347.5 622.8 342.1 625.6 340.6 626 339.1 624.7 337.6 622.1 336.1 609.9 332.7 601.2 331.6 587 331.4 571.1 332.1 557.5 333.8 551 335.3 546.7 336.8 544.2 338.3 543.1 339.8 543.3 341.3 545 342.8 552.5 345.6 564 347.7 577.7 348.8Z" fill="none" stroke="#3c3c3c" stroke-opacity="0.75" stroke-width="0.6"/>
<path d="M580.4 346.6 591.9 346.5 601.2 345.3 612.1 342.1 613.4 341.3 614.2 339.8 613.7 338.8 612.2 337.6 605.7 335.3 597.9 334.3 587 333.9 575.5 334.3 566.2 335.5 558.9 337.6 556 339.8 556.2 341.3 557 342.1 562.6 344.3 570.8 345.8 580 346.6Z" fill="none" stroke="#3c3c3c" stroke-opacity="0.75" stroke-width="0.6"/>
</g>
<defs><clipPath id="cliph"><rect x="538.3" y="411.3" width="131.20" height="93.80"/></clipPath></defs>
<g clip-path="url(#cliph)">
<g filter="url(#cblur)">
<rect x="532.3" y="405.3" width="143.20" height="105.80" fill="#ccff4a"/>
<path d="M533.4 491.6 589.1 491.9 675 491.1 675 406.8 532.8 406.8 532.8 424.9 536.1 423.4 539.4 422.6 542.7 422.6 546 423.3 549.8 425.2 553.6 427.9 556.3 430.8 557.1 433.1 556.7 434.6 555.3 436.1 549.8 438.4 541 439.5 532.8 438.9 532.8 491.6Z" fill="#cbf84e" fill-rule="evenodd"/>
<path d="M533.4 491.3 591.3 491.6 675 490.7 675 406.8 532.8 406.8 532.8 411.8 538.8 410.6 544.9 410.9 550.3 412.4 555.1 415.1 559.1 418.7 569.7 430.8 571 433.1 571.2 434.6 570 436.8 567.9 438.3 559.7 441.3 546.5 443.5 532.8 443.9 532.8 491.3ZM627.8 439.8 621.9 438.9 619.8 437.7 619.4 436.8 620 436.1 622.5 435.1 629 434.3 635.6 435.1 637.8 436.1 638.5 436.8 638.4 437.6 637.7 438.3 635.9 439.1 632.3 439.7 628 439.8Z" fill="#caf153" fill-rule="evenodd"/>
<path d="M533.4 491 593 491.3 675 490.3 675 406.8 560.9 406.8 566.2 412.1 574.3 424.1 578.2 427.7 586.7 433.8 587.8 435.3 587.8 436.8 586.1 438.3 582.7 439.8 567.5 443.6 550.3 446.1 532.8 447 532.8 491ZM594.7 448.1 592.3 447.3 593 446.5 596.2 446.1 599.6 446.6 600.3 447.3 598 448.1 595.2 448.1ZM622.1 441.3 617.6 440.5 613.7 439.2 612.2 438.3 611.7 436.8 613.5 435.3 617.6 434 623 433.1 629 432.8 635.1 433.2 639.4 434 642.6 435.3 643.9 436.8 643.7 438.3 642.7 439.4 638.3 441.2 631.2 441.9 622.5 441.4Z" fill="#c9ea57" fill-rule="evenodd"/>
<path d="M552 490.8 605 490.9 675 489.7 675 406.8 574.7 406.8 579.5 417.3 581.8 421.1 585.6 424.8 590.9 427.8 598.4 430.3 606.1 431.6 629.6 431.1 641.1 432 644.9 433 647.6 434.6 649.3 436.8 649.2 439.1 647.8 441.3 646 443.2 643.8 444.6 641.6 445.3 636.2 445.6 617.6 444.3 611.6 444.3 609.4 444.9 608.2 446.6 605.9 448.1 600.1 449.2 595.2 449.3 589.9 448.8 586.9 448.1 582 446 578.2 445.6 548.7 448.4 532.8 449.4 532.8 490.6 551.5 490.8ZM637.8 453.3 638.3 452.9 638.5 453.3 637.8 453.3Z" fill="#c9e35d" fill-rule="evenodd"/>
<path d="M533.4 490.2 605 490.5 631.6 490.1 675 488.6 675 406.8 585.1 406.8 587 413.6 588.9 418.1 591.9 421.6 595.7 424.1 602 426.3 609.9 427.7 639.4 428.9 647.6 430.2 652.3 432.3 655.2 435.3 656 439.1 655 442.8 652.6 445.9 646.5 449.6 645.9 450.3 647 452.6 646.5 453.3 644.8 454.1 641.1 454.6 632.4 454.1 630.3 453.3 629.7 452.6 631.5 450.3 630.6 449.6 619.8 448.2 614.8 448.3 603.9 449.9 596.8 450.2 589.7 449.8 578.8 448.3 573.3 448.2 532.8 451.3 532.8 490.2Z" fill="#c8db63" fill-rule="evenodd"/>
<path d="M550.9 490.1 597.3 490.2 635.4 489.3 656.7 487.8 675 484.8 675 406.8 594.4 406.8 595.8 412.8 597.5 416.6 600.3 419.6 605 422.1 610.5 423.5 617.6 424.5 646 425.9 651.5 427.1 655.3 428.8 658.9 432.3 660.8 436.8 660.8 442.1 659.2 446.6 656.9 449.4 652.1 453.3 647.6 454.8 642.2 455.4 631.2 454.8 628 454.1 621.9 451.2 615.4 450.4 596.2 451 573.8 449.9 532.8 452.9 532.8 489.7 550.8 490.1ZM652.9 422.6 651.3 421.8 651 421.1 651.5 420.3 653.4 419.6 657.6 419.6 659.3 420.3 659.6 421.1 659 421.8 656.9 422.5 653.1 422.6Z" fill="#c7d367" fill-rule="evenodd"/>
<path d="M543.2 489.3 590.2 489.8 629.7 488.6 650.9 486.1 664 483.6 670.8 481.8 671.8 481.1 669.3 480.3 658.7 479.6 658.3 478.8 675 478.7 675 406.8 605.5 406.8 606.7 411.3 609.2 415.1 612.4 417.3 617.6 419.1 626 420.3 638.9 420.9 643.8 420.6 649.3 418.8 653.1 418.1 657.5 418.4 660.8 419.6 661.7 420.3 661.6 421.8 658.4 424.1 657.8 424.8 657.9 425.6 664.8 433.8 666.6 436.8 667.3 439.1 666.8 442.8 663.8 448.1 660 452.6 657.5 454.3 653.1 455.4 645.4 456.2 631.2 455.6 618.7 452.7 613.7 452 580.4 451.2 567.8 451.6 532.8 454.4 532.8 488.9 543.1 489.3Z" fill="#c6cb6b" fill-rule="evenodd"/>
<path d="M547.6 488.6 580.9 489.3 611.1 488.6 633.4 486.5 656.4 482.6 658.4 481.8 657.7 481.1 650.6 479.6 650.8 478.8 656.1 478.1 675 477 675 454 671.7 453.3 668.4 453.4 659.7 456.7 654.2 457.4 634 456.6 610.5 453.2 584.2 452.4 566.2 453 532.8 455.7 532.8 487.6 547.3 488.6ZM663.2 464.6 660.6 463.8 660.7 463.1 663.5 462.4 667.9 462.3 672 463.1 672.3 463.8 669 464.6 663.5 464.6ZM670.6 430.2 675 430.7 675 406.8 645.3 406.8 653.5 415.1 663.1 419.6 664.1 421.1 662.4 424.1 662.6 425.6 665.7 428.2 670.1 430.1Z" fill="#c5c36f" fill-rule="evenodd"/>
<path d="M555.8 487.9 580.9 488.4 603.9 487.8 623.6 486.1 643.3 483.2 649 481.8 649.2 481.1 645.9 479.6 646.5 478.8 651.5 477.9 667.5 476.6 671.5 475.8 675 474.4 675 465.9 662.9 465.3 659.1 464.6 657.6 463.8 657.2 463.1 658 462 661.5 460.8 661.3 460.2 660.8 460.1 633.4 457.4 606.6 454.2 588 453.5 574.4 453.7 554.7 454.9 532.8 457 532.8 485.9 555.3 487.8ZM672.8 425.6 675 425.7 675 406.8 658.8 406.8 659.5 412.8 660.6 415.8 666.5 420.3 667.7 424.1 669.5 425 672.8 425.6Z" fill="#c3bb70" fill-rule="evenodd"/>
<path d="M564.5 487.1 583.7 487.4 601.2 486.8 618.7 485.3 635.1 483 641.6 481.6 642.5 481.1 641.9 479.6 642.8 478.8 644.4 478.4 661.3 476.3 666.7 475.1 669.5 473.6 671.1 472.1 671.9 470.6 671.9 469.1 670.6 467.6 669 467 660.2 465.7 656.1 464.6 652.6 461.8 649.8 460.9 634.4 458.6 607.2 455.3 590.2 454.5 574.4 454.7 554.7 455.9 532.8 458.2 532.8 484.4 548.1 486.1 564.5 487.1ZM672.2 419.6 675 420.3 675 406.8 663.7 406.8 664.4 412.1 665.4 415.1 667.7 417.3 672.1 419.6Z" fill="#c2b270" fill-rule="evenodd"/>
<path d="M557.4 485.6 575.5 486.3 593 486.1 609.4 485.1 626.3 483 636.2 481.1 639.3 478.8 642 478.1 660.4 475.1 664.4 472.8 665.7 471.3 665.9 469.8 665 468.3 663.7 467.6 655.3 465.4 649.3 462.8 646 461.9 626.3 458.6 605.5 456.3 588.6 455.5 571.6 455.8 551.4 457.2 532.8 459.4 532.8 483 557.2 485.6Z" fill="#c0aa70" fill-rule="evenodd"/>
<path d="M562.4 484.9 578.2 485.3 593.5 485.1 609.4 484 624.1 482.2 630.7 480.9 638.4 478.1 654.5 475.1 658.7 472.8 659.9 471.3 660 469.8 658.8 468.3 657.5 467.6 642.7 462.7 623 459.2 602.8 457 586.4 456.4 569.5 456.8 550.3 458.2 532.8 460.6 532.8 481.7 547 483.6 562.1 484.8Z" fill="#bea16f" fill-rule="evenodd"/>
<path d="M566.2 484.1 580.4 484.4 593.5 484.1 607.7 483.1 620.8 481.5 649.1 475.1 653.4 472.8 654.7 470.6 654 469.1 652 467.6 646.4 465.3 640 463.5 621.4 460.1 601.7 457.9 585.3 457.2 567.8 457.7 549.2 459.3 532.8 461.8 532.8 480.4 548.7 482.8 566.1 484.1Z" fill="#bb996d" fill-rule="evenodd"/>
<path d="M569.5 483.4 594.6 483.2 607.2 482.2 618.7 480.8 643.8 475.1 648.3 472.8 649.6 470.6 648.8 469.1 646 467.3 635.2 463.8 617 460.5 597.9 458.5 581.5 458.1 564 458.8 547 460.5 532.8 463.1 532.8 479.1 548.7 481.8 569.1 483.3Z" fill="#b8906c" fill-rule="evenodd"/>
<path d="M571.1 482.6 594.6 482.4 617 480 638.8 475.1 643.4 472.8 644.1 472.1 644.6 470.6 643.7 469.1 640.5 467.2 629.5 463.8 612.6 460.8 594.6 459.1 578.8 458.9 561.3 459.8 545.4 461.7 532.8 464.5 532.8 477.7 540.5 479.5 549.2 480.9 571 482.6Z" fill="#b28a6d" fill-rule="evenodd"/>
<path d="M572.2 481.8 594.6 481.6 615.4 479.3 633.8 475.1 638.5 472.8 639.3 472.1 639.8 470.6 638.8 469.1 635.6 467.2 623.9 463.8 608.3 461.2 591.3 459.8 574.9 459.7 558 460.9 543.7 463.1 532.8 466.1 532.8 476.1 539.4 478.1 549.2 479.9 560.2 481.2 571.9 481.8Z" fill="#ad856f" fill-rule="evenodd"/>
<path d="M572.2 481.1 593.5 480.9 613.2 478.8 623.8 476.6 629.6 474.9 633.9 472.8 634.7 472.1 635.1 470.6 634.1 469.1 630.1 467 618.7 463.9 603.4 461.5 587 460.4 570 460.7 553.6 462.3 540.5 465 535.5 466.8 532.8 468.3 532.8 474.1 538.5 476.6 544.9 478.2 553.1 479.6 571.9 481.1Z" fill="#a67f70" fill-rule="evenodd"/>
<path d="M571.6 480.4 591.9 480.3 611 478.2 619.1 476.6 626.5 474.3 629.6 472.6 630.5 471.3 630.5 470.6 629.4 469.1 625.8 467.2 613.7 464 598.4 461.8 582.6 461.1 565.6 461.8 550.3 463.8 539.6 466.8 536.7 468.3 534.7 470.6 534.7 472.1 535.9 473.6 538.6 475.1 543.2 476.7 555.8 479.1 571.3 480.3Z" fill="#9e7970" fill-rule="evenodd"/>
<path d="M570.6 479.6 589.7 479.7 607.7 477.9 615.9 476.2 622.1 474.3 625 472.8 625.8 472.1 626.2 470.6 625 469.1 622.3 467.6 611.6 464.6 597.3 462.5 582 461.8 566.2 462.5 552 464.5 542.1 467.5 539.5 469.1 538.3 470.6 538.3 472.1 539.7 473.6 546 476.2 556.9 478.4 570.5 479.6Z" fill="#957370" fill-rule="evenodd"/>
<path d="M570 478.9 588.6 479 605.5 477.3 613 475.8 617.8 474.3 620.8 472.8 621.6 472.1 621.9 470.6 620.7 469.1 617.8 467.6 608.8 465.1 595.7 463.2 582 462.6 567.3 463.2 554.7 465 545.7 467.6 543.1 469.1 541.8 470.6 541.8 472.1 543.3 473.6 548.8 475.8 558 477.7 569.7 478.8Z" fill="#8c6c6f" fill-rule="evenodd"/>
<path d="M569.5 478.1 586.4 478.4 602.3 477 613.7 474.3 616.7 472.8 617.6 472.1 617.9 470.6 616.5 469.1 613.5 467.6 605.5 465.4 594.2 463.8 582 463.3 569 463.8 557.7 465.3 549.5 467.6 546.7 469.1 545.3 470.6 545.3 472.1 545.9 472.8 550.5 475.1 558.5 476.9 569.1 478.1Z" fill="#83636c" fill-rule="evenodd"/>
<path d="M568.9 477.3 584.8 477.8 599.5 476.6 607.1 475.1 611.4 473.6 613.6 472.1 613.9 470.6 611.1 468.3 603.7 466.1 593.5 464.6 582 464 570 464.5 559.6 465.9 552 468.2 550.2 469.1 548.8 470.6 548.8 472.1 549.4 472.8 552.5 474.4 559.1 476.1 568.7 477.3Z" fill="#7a5a69" fill-rule="evenodd"/>
<path d="M568.9 476.6 582.6 477.1 595.7 476.3 605.4 474.3 608.9 472.8 610.2 471.3 609.5 469.8 608.5 469.1 602.2 466.8 593 465.3 583.1 464.8 572.2 465.1 562.9 466.3 555.4 468.3 552.2 470.6 552.2 472.1 553 472.8 556.2 474.3 561.8 475.7 568.7 476.6Z" fill="#705065" fill-rule="evenodd"/>
<path d="M568.9 475.8 581.5 476.5 593 475.8 602.8 473.8 605.1 472.8 606.4 471.3 605.7 469.8 604.5 469.1 600.5 467.6 592.4 466.1 583.1 465.5 573.8 465.8 565.2 466.8 559.3 468.3 555.7 470.6 555.8 472.1 558.1 473.6 562.9 474.9 568.9 475.8Z" fill="#664660" fill-rule="evenodd"/>
<path d="M570 475.1 580.9 475.8 591.3 475.2 599.3 473.6 601.2 472.8 602.6 471.3 601.7 469.8 597.3 468 590.8 466.8 583.1 466.3 574.9 466.6 567.3 467.5 561.5 469.1 559.3 470.6 559.4 472.1 560.7 473 565 474.3 569.5 475.1Z" fill="#5c3c5b" fill-rule="evenodd"/>
<path d="M571.1 474.4 580.4 475 589.1 474.6 595.7 473.3 598.3 472.1 598.7 471.3 597.7 469.8 594.1 468.5 589.1 467.6 583.1 467.2 576 467.3 570 468.1 565.8 469.1 563.1 470.6 562.8 471.3 563.2 472.1 564.4 472.8 570.7 474.3Z" fill="#533155" fill-rule="evenodd"/>
<path d="M572.7 473.6 579.8 474.2 587 473.9 592.5 472.8 594.1 472.1 594.6 471.3 593.2 469.8 591 469.1 581.5 468.1 570.9 469.1 568.5 469.8 566.9 471.3 567.4 472.1 569.1 472.8 572.5 473.6Z" fill="#4b254e" fill-rule="evenodd"/>
<path d="M575.5 472.9 585.3 473 589.1 472.1 589.9 471.3 589.5 470.6 587.6 469.8 580.9 469.1 574.2 469.8 572.1 470.6 571.6 471.3 572.4 472.1 575.3 472.8Z" fill="#421a48" fill-rule="evenodd"/>
</g>
<path d="M532.8 490.9 593 491.2 675 490.2M565.7 406.8 569.5 411.6 575 421.1 578.2 424.8 583.7 428.9 595.6 435.3 597.1 436.8 596.7 437.6 593.6 439.1 588.2 440.6 569 444.3 550.9 446.7 532.8 447.8M591.9 448.1 589.9 447.3 589.7 446.6 591.9 445.6 595.7 445.2 600.1 445.6 602.6 446.6 602.7 447.3 600.1 448.3 596.2 448.6 592.4 448.2ZM621.9 442.1 610.6 439.8 607.2 438.3 606.5 437.6 606.6 436.8 609.3 435.3 615.4 433.6 621.9 432.7 628.5 432.3 635.1 432.6 640.5 433.6 643.8 434.9 645.5 436.8 645.4 438.3 644.3 439.8 640 441.9 632.9 442.6 622.5 442.2Z" fill="none" stroke="#3c3c3c" stroke-opacity="0.75" stroke-width="0.6"/>
<path d="M532.8 489.2 580.4 490 624.1 489.2 635.9 488.6 649.8 487.1 664.6 484.5 675 482.1M601.2 406.8 602.8 412.8 605.4 416.6 609.4 419.2 614.8 420.8 625.2 422.1 642.7 422.7 646 422.2 649.5 419.6 652.6 418.7 656.9 418.7 660.2 419.7 661.2 421.1 660.8 421.8 655.4 424.8 655.7 425.6 661.5 431.6 664.1 436.8 664.5 439.8 664.1 442.8 661.3 448.8 658 452.5 655.4 454.1 650.4 455.3 643.8 455.9 637.2 455.9 630.7 455.3 619.2 452.2 614.8 451.6 595.2 451.5 579.3 450.8 566.7 451.3 532.8 453.9" fill="none" stroke="#3c3c3c" stroke-opacity="0.75" stroke-width="0.6"/>
<path d="M532.8 484.4 553.1 486.5 574.9 487.3 596.2 487 616.5 485.5 630.7 483.7 640.8 481.8 642.4 481.1 641.8 479.6 642.7 478.8 645.7 478.1 664.1 475.8 669.4 473.6 671 472.1 671.9 469.8 671.4 468.3 670.5 467.6 656.9 464.9 654.7 463.8 652.6 461.9 649.8 461 634.3 458.6 608.3 455.4 591.3 454.6 574.9 454.7 554.7 455.9 532.8 458.2M663.9 406.8 664.6 412.4 666.1 415.8 670.6 418.8 675 420.1" fill="none" stroke="#3c3c3c" stroke-opacity="0.75" stroke-width="0.6"/>
<path d="M532.8 479.9 547.6 482.3 565.6 483.7 584.8 484.1 602.3 483.3 622.5 480.8 644.4 475.8 650.4 473.6 652.2 472.1 652.7 470.6 651.1 468.3 648.4 466.8 638.3 463.7 619.8 460.2 600.1 458.1 583.7 457.5 566.2 458.1 548.1 459.8 532.8 462.3" fill="none" stroke="#3c3c3c" stroke-opacity="0.75" stroke-width="0.6"/>
<path d="M532.8 474.7 541.6 477.7 555.2 480.1 572.2 481.3 589.7 481.3 606.6 479.9 621.9 477.3 632.3 474.3 635.6 472.3 636.3 470.6 635.3 469.1 632.3 467.4 620.3 463.9 604.4 461.4 588 460.2 571.1 460.5 554.7 462 540.9 464.6 532.8 467.7" fill="none" stroke="#3c3c3c" stroke-opacity="0.75" stroke-width="0.6"/>
<path d="M571.1 478.8 588.6 478.9 605 477.3 612.5 475.8 617.4 474.3 620.4 472.8 621.2 472.1 621.5 470.6 620.3 469.1 617.4 467.6 608.3 465 595.7 463.2 582 462.6 567.8 463.2 555.2 464.9 546.1 467.6 543.4 469.1 542.2 470.6 542.2 472.1 543.7 473.6 549.3 475.8 559.1 477.7 571 478.8Z" fill="none" stroke="#3c3c3c" stroke-opacity="0.75" stroke-width="0.6"/>
<path d="M573.3 476.6 585.3 476.8 596.2 475.8 605.7 473.6 607.2 472.8 608.4 471.3 607.7 469.8 606.7 469.1 601.2 467.1 593 465.7 583.1 465.1 572.7 465.5 563.4 466.6 557.1 468.3 553.8 470.6 553.8 472.1 554.6 472.8 558.1 474.3 565.1 475.8 573 476.6Z" fill="none" stroke="#3c3c3c" stroke-opacity="0.75" stroke-width="0.6"/>
</g>
<line x1="582.6" y1="298.3" x2="582.6" y2="373.7" stroke="#fff" stroke-width="1.0" />
<line x1="580.2" y1="411.4" x2="580.2" y2="505.2" stroke="#fff" stroke-width="1.0" />
<line x1="538.3" y1="23.2" x2="669.5" y2="23.2" stroke="#3a3f28" stroke-width="1.0" />
<line x1="669.5" y1="23.2" x2="669.5" y2="117.2" stroke="#3a3f28" stroke-width="1.0" />
<line x1="538.3" y1="117.2" x2="669.5" y2="117.2" stroke="#3a4a1c" stroke-width="1.1" />
<line x1="538.3" y1="23.2" x2="538.3" y2="117.2" stroke="#9a9aa8" stroke-width="0.9" />
<line x1="538.3" y1="117.2" x2="538.3" y2="120.2" stroke="#333" stroke-width="0.8" />
<text x="538.3" y="129.4" font-size="10.6" fill="#000" text-anchor="middle" >0</text>
<line x1="592.97" y1="117.2" x2="592.97" y2="120.2" stroke="#333" stroke-width="0.8" />
<text x="592.97" y="129.4" font-size="10.6" fill="#000" text-anchor="middle" >5</text>
<line x1="647.63" y1="117.2" x2="647.63" y2="120.2" stroke="#333" stroke-width="0.8" />
<text x="647.63" y="129.4" font-size="10.6" fill="#000" text-anchor="middle" >10</text>
<line x1="538.3" y1="117.2" x2="536.5" y2="117.2" stroke="#333" stroke-width="0.8" />
<line x1="538.3" y1="98.4" x2="535.1" y2="98.4" stroke="#333" stroke-width="0.8" />
<text x="535.4" y="101.8" font-size="10.6" fill="#000" text-anchor="end" >1</text>
<line x1="538.3" y1="79.6" x2="536.5" y2="79.6" stroke="#333" stroke-width="0.8" />
<line x1="538.3" y1="60.8" x2="535.1" y2="60.8" stroke="#333" stroke-width="0.8" />
<text x="535.4" y="64.2" font-size="10.6" fill="#000" text-anchor="end" >2</text>
<line x1="538.3" y1="42" x2="536.5" y2="42" stroke="#333" stroke-width="0.8" />
<line x1="538.3" y1="23.2" x2="535.1" y2="23.2" stroke="#333" stroke-width="0.8" />
<text x="535.4" y="26.6" font-size="10.6" fill="#000" text-anchor="end" >3</text>
<text x="588" y="139.1" font-size="12.2" fill="#000" >k (Å<tspan dy="-4.2" font-size="7.5">-1</tspan><tspan dy="4.2">)</tspan></text>
<text x="527.3" y="69.7" font-size="13.3" fill="#000" text-anchor="middle" transform="rotate(-90 527.3 69.7)" >R (Å)</text>
<text x="502.2" y="9.9" font-size="17" fill="#000" >e</text>
<line x1="538.3" y1="151.3" x2="669.5" y2="151.3" stroke="#3a3f28" stroke-width="1.0" />
<line x1="669.5" y1="151.3" x2="669.5" y2="244.9" stroke="#3a3f28" stroke-width="1.0" />
<line x1="538.3" y1="244.9" x2="669.5" y2="244.9" stroke="#3a4a1c" stroke-width="1.1" />
<line x1="538.3" y1="151.3" x2="538.3" y2="244.9" stroke="#9a9aa8" stroke-width="0.9" />
<line x1="538.3" y1="244.9" x2="538.3" y2="247.9" stroke="#333" stroke-width="0.8" />
<text x="538.3" y="256.6" font-size="10.6" fill="#000" text-anchor="middle" >0</text>
<line x1="592.97" y1="244.9" x2="592.97" y2="247.9" stroke="#333" stroke-width="0.8" />
<text x="592.97" y="256.6" font-size="10.6" fill="#000" text-anchor="middle" >5</text>
<line x1="647.63" y1="244.9" x2="647.63" y2="247.9" stroke="#333" stroke-width="0.8" />
<text x="647.63" y="256.6" font-size="10.6" fill="#000" text-anchor="middle" >10</text>
<line x1="538.3" y1="244.9" x2="536.5" y2="244.9" stroke="#333" stroke-width="0.8" />
<line x1="538.3" y1="226.18" x2="535.1" y2="226.18" stroke="#333" stroke-width="0.8" />
<text x="535.4" y="229.58" font-size="10.6" fill="#000" text-anchor="end" >1</text>
<line x1="538.3" y1="207.46" x2="536.5" y2="207.46" stroke="#333" stroke-width="0.8" />
<line x1="538.3" y1="188.74" x2="535.1" y2="188.74" stroke="#333" stroke-width="0.8" />
<text x="535.4" y="192.14" font-size="10.6" fill="#000" text-anchor="end" >2</text>
<line x1="538.3" y1="170.02" x2="536.5" y2="170.02" stroke="#333" stroke-width="0.8" />
<line x1="538.3" y1="151.3" x2="535.1" y2="151.3" stroke="#333" stroke-width="0.8" />
<text x="535.4" y="154.7" font-size="10.6" fill="#000" text-anchor="end" >3</text>
<text x="588" y="267.2" font-size="12.2" fill="#000" >k (Å<tspan dy="-4.2" font-size="7.5">-1</tspan><tspan dy="4.2">)</tspan></text>
<text x="527.3" y="197.6" font-size="13.3" fill="#000" text-anchor="middle" transform="rotate(-90 527.3 197.6)" >R (Å)</text>
<text x="504.8" y="142.8" font-size="17" fill="#000" >f</text>
<line x1="538.3" y1="279.8" x2="669.5" y2="279.8" stroke="#3a3f28" stroke-width="1.0" />
<line x1="669.5" y1="279.8" x2="669.5" y2="373.6" stroke="#3a3f28" stroke-width="1.0" />
<line x1="538.3" y1="373.6" x2="669.5" y2="373.6" stroke="#3a4a1c" stroke-width="1.1" />
<line x1="538.3" y1="279.8" x2="538.3" y2="373.6" stroke="#9a9aa8" stroke-width="0.9" />
<line x1="538.3" y1="373.6" x2="538.3" y2="376.6" stroke="#333" stroke-width="0.8" />
<text x="538.3" y="386.2" font-size="10.6" fill="#000" text-anchor="middle" >0</text>
<line x1="592.97" y1="373.6" x2="592.97" y2="376.6" stroke="#333" stroke-width="0.8" />
<text x="592.97" y="386.2" font-size="10.6" fill="#000" text-anchor="middle" >5</text>
<line x1="647.63" y1="373.6" x2="647.63" y2="376.6" stroke="#333" stroke-width="0.8" />
<text x="647.63" y="386.2" font-size="10.6" fill="#000" text-anchor="middle" >10</text>
<line x1="538.3" y1="373.6" x2="536.5" y2="373.6" stroke="#333" stroke-width="0.8" />
<line x1="538.3" y1="354.84" x2="535.1" y2="354.84" stroke="#333" stroke-width="0.8" />
<text x="535.4" y="358.24" font-size="10.6" fill="#000" text-anchor="end" >1</text>
<line x1="538.3" y1="336.08" x2="536.5" y2="336.08" stroke="#333" stroke-width="0.8" />
<line x1="538.3" y1="317.32" x2="535.1" y2="317.32" stroke="#333" stroke-width="0.8" />
<text x="535.4" y="320.72" font-size="10.6" fill="#000" text-anchor="end" >2</text>
<line x1="538.3" y1="298.56" x2="536.5" y2="298.56" stroke="#333" stroke-width="0.8" />
<line x1="538.3" y1="279.8" x2="535.1" y2="279.8" stroke="#333" stroke-width="0.8" />
<text x="535.4" y="283.2" font-size="10.6" fill="#000" text-anchor="end" >3</text>
<text x="588" y="397" font-size="12.2" fill="#000" >k (Å<tspan dy="-4.2" font-size="7.5">-1</tspan><tspan dy="4.2">)</tspan></text>
<text x="527.3" y="326.2" font-size="13.3" fill="#000" text-anchor="middle" transform="rotate(-90 527.3 326.2)" >R (Å)</text>
<text x="503.7" y="277" font-size="17" fill="#000" >g</text>
<line x1="538.3" y1="411.3" x2="669.5" y2="411.3" stroke="#3a3f28" stroke-width="1.0" />
<line x1="669.5" y1="411.3" x2="669.5" y2="505.1" stroke="#3a3f28" stroke-width="1.0" />
<line x1="538.3" y1="505.1" x2="669.5" y2="505.1" stroke="#3a4a1c" stroke-width="1.1" />
<line x1="538.3" y1="411.3" x2="538.3" y2="505.1" stroke="#9a9aa8" stroke-width="0.9" />
<line x1="538.3" y1="505.1" x2="538.3" y2="508.1" stroke="#333" stroke-width="0.8" />
<text x="538.3" y="518" font-size="10.6" fill="#000" text-anchor="middle" >0</text>
<line x1="592.97" y1="505.1" x2="592.97" y2="508.1" stroke="#333" stroke-width="0.8" />
<text x="592.97" y="518" font-size="10.6" fill="#000" text-anchor="middle" >5</text>
<line x1="647.63" y1="505.1" x2="647.63" y2="508.1" stroke="#333" stroke-width="0.8" />
<text x="647.63" y="518" font-size="10.6" fill="#000" text-anchor="middle" >10</text>
<line x1="538.3" y1="505.1" x2="536.5" y2="505.1" stroke="#333" stroke-width="0.8" />
<line x1="538.3" y1="486.34" x2="535.1" y2="486.34" stroke="#333" stroke-width="0.8" />
<text x="535.4" y="489.74" font-size="10.6" fill="#000" text-anchor="end" >1</text>
<line x1="538.3" y1="467.58" x2="536.5" y2="467.58" stroke="#333" stroke-width="0.8" />
<line x1="538.3" y1="448.82" x2="535.1" y2="448.82" stroke="#333" stroke-width="0.8" />
<text x="535.4" y="452.22" font-size="10.6" fill="#000" text-anchor="end" >2</text>
<line x1="538.3" y1="430.06" x2="536.5" y2="430.06" stroke="#333" stroke-width="0.8" />
<line x1="538.3" y1="411.3" x2="535.1" y2="411.3" stroke="#333" stroke-width="0.8" />
<text x="535.4" y="414.7" font-size="10.6" fill="#000" text-anchor="end" >3</text>
<text x="588" y="531" font-size="12.2" fill="#000" >k (Å<tspan dy="-4.2" font-size="7.5">-1</tspan><tspan dy="4.2">)</tspan></text>
<text x="527.3" y="457.7" font-size="13.3" fill="#000" text-anchor="middle" transform="rotate(-90 527.3 457.7)" >R (Å)</text>
<text x="506.3" y="407.2" font-size="17" fill="#000" >h</text>
<text x="541.9" y="37.1" font-size="11.4" fill="#000" >Fe foil</text>
<text x="541.8" y="162.8" font-size="11.4" fill="#000" >Fe<tspan dy="3.9" font-size="7.4">2</tspan><tspan dy="-3.9">O</tspan><tspan dy="3.9" font-size="7.4">3</tspan></text>
<text x="540.9" y="294.6" font-size="11.4" fill="#000" >SiO<tspan dy="3.9" font-size="7.4">2</tspan><tspan dy="-3.9">/FeNSiC</tspan></text>
<text x="540" y="424.5" font-size="11.4" fill="#000" >FeNC</text>
<defs><linearGradient id="cbar" x1="0" x2="1" y1="0" y2="0"><stop offset="0.0" stop-color="#ccff4a"/><stop offset="0.1" stop-color="#c9ec56"/><stop offset="0.2" stop-color="#c8d666"/><stop offset="0.3" stop-color="#c4c070"/><stop offset="0.4" stop-color="#c0a870"/><stop offset="0.5" stop-color="#b8906c"/><stop offset="0.6" stop-color="#a88070"/><stop offset="0.7" stop-color="#907070"/><stop offset="0.8" stop-color="#765668"/><stop offset="0.9" stop-color="#5a3a5a"/><stop offset="1.0" stop-color="#421a48"/></linearGradient></defs>
<rect x="548.6" y="1.2" width="108.2" height="7.9" fill="url(#cbar)" stroke="#666" stroke-width="0.8"/>
<text x="522.8" y="8.8" font-size="11.6" fill="#000" >low</text>
<text x="661.6" y="8.8" font-size="11.6" fill="#000" >high</text>
</svg></div></div></body></html>
